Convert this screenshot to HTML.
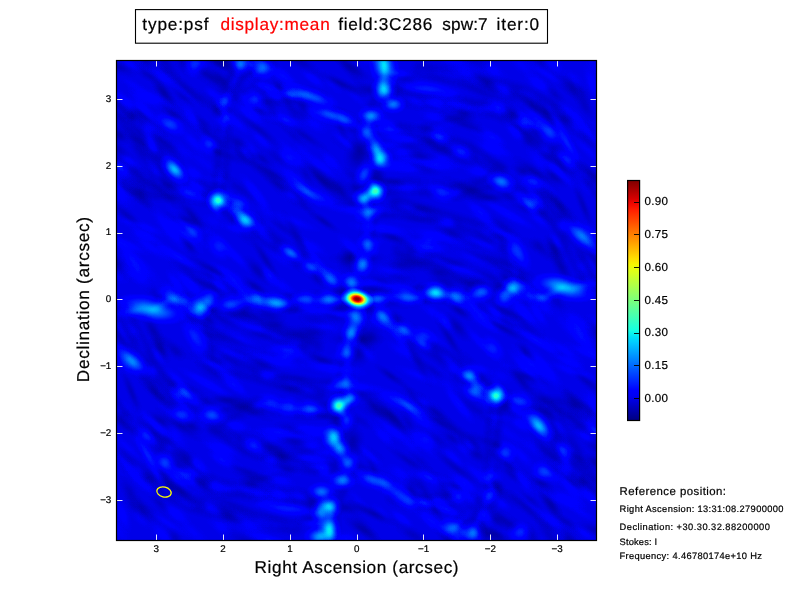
<!DOCTYPE html>
<html><head><meta charset="utf-8"><title>psf</title>
<style>
html,body{margin:0;padding:0;background:#fff;}
body{width:800px;height:600px;overflow:hidden;position:relative;}
svg{position:absolute;left:0;top:0;display:block;}
text{font-family:"Liberation Sans",sans-serif;}
</style></head><body>
<svg width="800" height="600" viewBox="0 0 800 600">
<defs>
<filter id="jet" x="0" y="0" width="100%" height="100%" color-interpolation-filters="sRGB" filterUnits="objectBoundingBox">
<feComponentTransfer>
<feFuncR type="table" tableValues="0.000 0.000 0.000 0.000 0.000 0.000 0.000 0.000 0.000 0.000 0.000 0.000 0.000 0.000 0.000 0.000 0.000 0.000 0.000 0.000 0.000 0.000 0.000 0.000 0.000 0.000 0.000 0.000 0.000 0.000 0.000 0.000 0.000 0.000 0.000 0.000 0.000 0.000 0.000 0.000 0.000 0.000 0.000 0.000 0.000 0.005 0.030 0.055 0.081 0.106 0.131 0.156 0.181 0.207 0.232 0.257 0.282 0.307 0.333 0.358 0.383 0.408 0.433 0.459 0.484 0.509 0.534 0.559 0.585 0.610 0.635 0.660 0.685 0.711 0.736 0.761 0.786 0.811 0.837 0.862 0.887 0.912 0.937 0.963 0.988 1.000 1.000 1.000 1.000 1.000 1.000 1.000 1.000 1.000 1.000 1.000 1.000 1.000 1.000 1.000 1.000 1.000 1.000 1.000 1.000 1.000 1.000 1.000 1.000 1.000 1.000 1.000 1.000 1.000 0.997 0.962 0.926 0.891 0.855 0.820 0.784 0.749 0.713 0.678 0.642 0.607 0.571 0.536 0.500"/>
<feFuncG type="table" tableValues="0.000 0.000 0.000 0.000 0.000 0.000 0.000 0.000 0.000 0.000 0.000 0.000 0.000 0.000 0.000 0.000 0.000 0.031 0.062 0.094 0.125 0.156 0.188 0.219 0.250 0.281 0.312 0.344 0.375 0.406 0.438 0.469 0.500 0.531 0.562 0.594 0.625 0.656 0.688 0.719 0.750 0.781 0.812 0.844 0.875 0.906 0.938 0.969 1.000 1.000 1.000 1.000 1.000 1.000 1.000 1.000 1.000 1.000 1.000 1.000 1.000 1.000 1.000 1.000 1.000 1.000 1.000 1.000 1.000 1.000 1.000 1.000 1.000 1.000 1.000 1.000 1.000 1.000 1.000 1.000 1.000 1.000 0.998 0.969 0.940 0.911 0.882 0.853 0.824 0.795 0.766 0.737 0.708 0.679 0.650 0.622 0.593 0.564 0.535 0.506 0.477 0.448 0.419 0.390 0.361 0.332 0.303 0.274 0.245 0.216 0.188 0.159 0.130 0.101 0.072 0.043 0.014 0.000 0.000 0.000 0.000 0.000 0.000 0.000 0.000 0.000 0.000 0.000 0.000"/>
<feFuncB type="table" tableValues="0.500 0.536 0.571 0.607 0.642 0.678 0.713 0.749 0.784 0.820 0.855 0.891 0.926 0.962 0.997 1.000 1.000 1.000 1.000 1.000 1.000 1.000 1.000 1.000 1.000 1.000 1.000 1.000 1.000 1.000 1.000 1.000 1.000 1.000 1.000 1.000 1.000 1.000 1.000 1.000 1.000 1.000 1.000 1.000 0.988 0.963 0.938 0.912 0.887 0.862 0.837 0.811 0.786 0.761 0.736 0.711 0.685 0.660 0.635 0.610 0.585 0.559 0.534 0.509 0.484 0.459 0.433 0.408 0.383 0.358 0.333 0.307 0.282 0.257 0.232 0.207 0.181 0.156 0.131 0.106 0.081 0.055 0.030 0.005 0.000 0.000 0.000 0.000 0.000 0.000 0.000 0.000 0.000 0.000 0.000 0.000 0.000 0.000 0.000 0.000 0.000 0.000 0.000 0.000 0.000 0.000 0.000 0.000 0.000 0.000 0.000 0.000 0.000 0.000 0.000 0.000 0.000 0.000 0.000 0.000 0.000 0.000 0.000 0.000 0.000 0.000 0.000 0.000 0.000"/>
</feComponentTransfer>
</filter>
<filter id="bl" x="0" y="0" width="100%" height="100%" filterUnits="objectBoundingBox"><feGaussianBlur stdDeviation="2.6"/></filter>
<radialGradient id="gw"><stop offset="0.0" stop-color="#fff" stop-opacity="1.000"/><stop offset="0.1" stop-color="#fff" stop-opacity="0.967"/><stop offset="0.2" stop-color="#fff" stop-opacity="0.874"/><stop offset="0.3" stop-color="#fff" stop-opacity="0.738"/><stop offset="0.4" stop-color="#fff" stop-opacity="0.582"/><stop offset="0.5" stop-color="#fff" stop-opacity="0.430"/><stop offset="0.6" stop-color="#fff" stop-opacity="0.296"/><stop offset="0.7" stop-color="#fff" stop-opacity="0.191"/><stop offset="0.8" stop-color="#fff" stop-opacity="0.115"/><stop offset="0.9" stop-color="#fff" stop-opacity="0.065"/><stop offset="1.0" stop-color="#fff" stop-opacity="0.000"/></radialGradient>
<radialGradient id="gk"><stop offset="0.0" stop-color="#000" stop-opacity="1.000"/><stop offset="0.1" stop-color="#000" stop-opacity="0.967"/><stop offset="0.2" stop-color="#000" stop-opacity="0.874"/><stop offset="0.3" stop-color="#000" stop-opacity="0.738"/><stop offset="0.4" stop-color="#000" stop-opacity="0.582"/><stop offset="0.5" stop-color="#000" stop-opacity="0.430"/><stop offset="0.6" stop-color="#000" stop-opacity="0.296"/><stop offset="0.7" stop-color="#000" stop-opacity="0.191"/><stop offset="0.8" stop-color="#000" stop-opacity="0.115"/><stop offset="0.9" stop-color="#000" stop-opacity="0.065"/><stop offset="1.0" stop-color="#000" stop-opacity="0.000"/></radialGradient>
<linearGradient id="cb" x1="0" y1="0" x2="0" y2="1"><stop offset="0.000" stop-color="rgb(128,0,0)"/><stop offset="0.025" stop-color="rgb(156,0,0)"/><stop offset="0.050" stop-color="rgb(185,0,0)"/><stop offset="0.075" stop-color="rgb(214,0,0)"/><stop offset="0.100" stop-color="rgb(243,9,0)"/><stop offset="0.125" stop-color="rgb(255,33,0)"/><stop offset="0.150" stop-color="rgb(255,57,0)"/><stop offset="0.175" stop-color="rgb(255,80,0)"/><stop offset="0.200" stop-color="rgb(255,104,0)"/><stop offset="0.225" stop-color="rgb(255,128,0)"/><stop offset="0.250" stop-color="rgb(255,151,0)"/><stop offset="0.275" stop-color="rgb(255,175,0)"/><stop offset="0.300" stop-color="rgb(255,198,0)"/><stop offset="0.325" stop-color="rgb(255,222,0)"/><stop offset="0.350" stop-color="rgb(247,246,0)"/><stop offset="0.375" stop-color="rgb(226,255,21)"/><stop offset="0.400" stop-color="rgb(206,255,41)"/><stop offset="0.425" stop-color="rgb(185,255,62)"/><stop offset="0.450" stop-color="rgb(165,255,82)"/><stop offset="0.475" stop-color="rgb(144,255,103)"/><stop offset="0.500" stop-color="rgb(123,255,123)"/><stop offset="0.525" stop-color="rgb(103,255,144)"/><stop offset="0.550" stop-color="rgb(82,255,165)"/><stop offset="0.575" stop-color="rgb(62,255,185)"/><stop offset="0.600" stop-color="rgb(41,255,206)"/><stop offset="0.625" stop-color="rgb(21,255,226)"/><stop offset="0.650" stop-color="rgb(0,229,247)"/><stop offset="0.675" stop-color="rgb(0,204,255)"/><stop offset="0.700" stop-color="rgb(0,179,255)"/><stop offset="0.725" stop-color="rgb(0,153,255)"/><stop offset="0.750" stop-color="rgb(0,128,255)"/><stop offset="0.775" stop-color="rgb(0,102,255)"/><stop offset="0.800" stop-color="rgb(0,76,255)"/><stop offset="0.825" stop-color="rgb(0,51,255)"/><stop offset="0.850" stop-color="rgb(0,26,255)"/><stop offset="0.875" stop-color="rgb(0,0,255)"/><stop offset="0.900" stop-color="rgb(0,0,243)"/><stop offset="0.925" stop-color="rgb(0,0,214)"/><stop offset="0.950" stop-color="rgb(0,0,185)"/><stop offset="0.975" stop-color="rgb(0,0,156)"/><stop offset="1.000" stop-color="rgb(0,0,128)"/></linearGradient>
<clipPath id="ax"><rect x="116" y="60" width="481" height="481"/></clipPath>
</defs>
<rect x="0" y="0" width="800" height="600" fill="#fff"/>
<g clip-path="url(#ax)">
<g filter="url(#jet)">
<rect x="100" y="44" width="513" height="513" fill="rgb(23,23,23)"/>
<g filter="url(#bl)" fill="none" stroke-linecap="round" stroke-linejoin="round"><path d="M357 299L352 283L361 264L368 246L370 226L369 212L364 199L375 191L366 175L380 159L376 148L367 132L371 116L384 90L384 66L387 56 M357 299L363 314L354 333L347 351L345 371L346 385L351 398L340 406L349 422L335 438L339 449L348 465L344 481L331 507L331 531L328 541 M357 299L332 279L311 267L289 253L266 236L244 219L218 200L174 170L150 140L135 118 M357 299L383 318L404 330L426 344L449 361L471 378L497 397L541 427L565 457L580 479 M357 299L328 300L307 300L281 304L255 300L231 305L205 304L173 299L150 309L112 314 M357 299L387 298L408 298L434 293L460 297L484 292L510 293L542 298L565 288L603 283 M218 200L222 160L224 119L224 101L240 64L246 54 M497 397L493 437L491 478L491 496L475 533L469 543 M224 101L262 68 M491 496L453 529 M256 98L304 95L321 100 M459 499L411 502L394 497 M324 112L345 120L367 132 M391 485L370 477L348 465 M218 200L192 194L156 192L128 184 M497 397L523 403L559 405L587 413 M384 90L416 100L456 104L496 110L524 124L544 146L566 159L590 180 M331 507L299 497L259 493L219 487L191 473L171 451L149 438L125 417 M376 190L408 186L456 192L500 180L528 188L556 220L572 248L592 284 M339 407L307 411L259 405L215 417L187 409L159 377L143 349L123 313 M396 204L436 216L476 228L508 248L516 276L513 288 M319 393L279 381L239 369L207 349L199 321L202 309 M400 130L440 140L470 150L500 172 M315 467L275 457L245 447L215 425 M420 70L470 80L520 92L560 112L596 140 M295 527L245 517L195 505L155 485L119 457 M400 250L440 262L470 280L481 292 M315 347L275 335L245 317L234 305" stroke="#000" stroke-opacity="0.3" stroke-width="14"/><path d="M357 299L352 283L361 264L368 246L370 226L369 212L364 199L375 191L366 175L380 159L376 148L367 132L371 116L384 90L384 66L387 56 M357 299L363 314L354 333L347 351L345 371L346 385L351 398L340 406L349 422L335 438L339 449L348 465L344 481L331 507L331 531L328 541 M357 299L332 279L311 267L289 253L266 236L244 219L218 200L174 170L150 140L135 118 M357 299L383 318L404 330L426 344L449 361L471 378L497 397L541 427L565 457L580 479 M357 299L328 300L307 300L281 304L255 300L231 305L205 304L173 299L150 309L112 314 M357 299L387 298L408 298L434 293L460 297L484 292L510 293L542 298L565 288L603 283 M218 200L222 160L224 119L224 101L240 64L246 54 M497 397L493 437L491 478L491 496L475 533L469 543 M224 101L262 68 M491 496L453 529 M256 98L304 95L321 100 M459 499L411 502L394 497 M324 112L345 120L367 132 M391 485L370 477L348 465 M218 200L192 194L156 192L128 184 M497 397L523 403L559 405L587 413 M384 90L416 100L456 104L496 110L524 124L544 146L566 159L590 180 M331 507L299 497L259 493L219 487L191 473L171 451L149 438L125 417 M376 190L408 186L456 192L500 180L528 188L556 220L572 248L592 284 M339 407L307 411L259 405L215 417L187 409L159 377L143 349L123 313 M396 204L436 216L476 228L508 248L516 276L513 288 M319 393L279 381L239 369L207 349L199 321L202 309 M400 130L440 140L470 150L500 172 M315 467L275 457L245 447L215 425 M420 70L470 80L520 92L560 112L596 140 M295 527L245 517L195 505L155 485L119 457 M400 250L440 262L470 280L481 292 M315 347L275 335L245 317L234 305" stroke="#fff" stroke-opacity="0.012" stroke-width="5"/></g>
<ellipse cx="269.3" cy="90.9" rx="25.5" ry="7.0" transform="rotate(38 269.3 90.9)" fill="url(#gw)" opacity="0.031"/>
<ellipse cx="445.3" cy="506.5" rx="25.5" ry="7.0" transform="rotate(38 445.3 506.5)" fill="url(#gw)" opacity="0.031"/>
<ellipse cx="128.4" cy="160.1" rx="14.6" ry="6.0" transform="rotate(37 128.4 160.1)" fill="url(#gw)" opacity="0.043"/>
<ellipse cx="586.2" cy="437.3" rx="14.6" ry="6.0" transform="rotate(37 586.2 437.3)" fill="url(#gw)" opacity="0.043"/>
<ellipse cx="170.9" cy="108.6" rx="26.5" ry="7.1" transform="rotate(21 170.9 108.6)" fill="url(#gk)" opacity="0.195"/>
<ellipse cx="543.7" cy="488.8" rx="26.5" ry="7.1" transform="rotate(21 543.7 488.8)" fill="url(#gk)" opacity="0.195"/>
<ellipse cx="532.4" cy="124.9" rx="16.4" ry="6.1" transform="rotate(25 532.4 124.9)" fill="url(#gw)" opacity="0.043"/>
<ellipse cx="182.2" cy="472.5" rx="16.4" ry="6.1" transform="rotate(25 182.2 472.5)" fill="url(#gw)" opacity="0.043"/>
<ellipse cx="198.9" cy="196.3" rx="25.8" ry="5.9" transform="rotate(33 198.9 196.3)" fill="url(#gw)" opacity="0.020"/>
<ellipse cx="515.7" cy="401.1" rx="25.8" ry="5.9" transform="rotate(33 515.7 401.1)" fill="url(#gw)" opacity="0.020"/>
<ellipse cx="444.8" cy="158.6" rx="20.4" ry="7.7" transform="rotate(4 444.8 158.6)" fill="url(#gw)" opacity="0.023"/>
<ellipse cx="269.8" cy="438.8" rx="20.4" ry="7.7" transform="rotate(4 269.8 438.8)" fill="url(#gw)" opacity="0.023"/>
<ellipse cx="500.8" cy="225.0" rx="25.3" ry="8.7" transform="rotate(30 500.8 225.0)" fill="url(#gk)" opacity="0.272"/>
<ellipse cx="213.8" cy="372.4" rx="25.3" ry="8.7" transform="rotate(30 213.8 372.4)" fill="url(#gk)" opacity="0.272"/>
<ellipse cx="592.2" cy="82.9" rx="22.8" ry="8.3" transform="rotate(72 592.2 82.9)" fill="url(#gw)" opacity="0.031"/>
<ellipse cx="122.4" cy="514.5" rx="22.8" ry="8.3" transform="rotate(72 122.4 514.5)" fill="url(#gw)" opacity="0.031"/>
<ellipse cx="129.3" cy="217.5" rx="33.5" ry="6.8" transform="rotate(41 129.3 217.5)" fill="url(#gk)" opacity="0.370"/>
<ellipse cx="585.3" cy="379.9" rx="33.5" ry="6.8" transform="rotate(41 585.3 379.9)" fill="url(#gk)" opacity="0.370"/>
<ellipse cx="395.3" cy="165.6" rx="32.7" ry="8.9" transform="rotate(-4 395.3 165.6)" fill="url(#gw)" opacity="0.037"/>
<ellipse cx="319.3" cy="431.8" rx="32.7" ry="8.9" transform="rotate(-4 319.3 431.8)" fill="url(#gw)" opacity="0.037"/>
<ellipse cx="139.8" cy="225.7" rx="32.2" ry="6.7" transform="rotate(19 139.8 225.7)" fill="url(#gw)" opacity="0.037"/>
<ellipse cx="574.8" cy="371.7" rx="32.2" ry="6.7" transform="rotate(19 574.8 371.7)" fill="url(#gw)" opacity="0.037"/>
<ellipse cx="121.1" cy="167.0" rx="16.9" ry="6.1" transform="rotate(12 121.1 167.0)" fill="url(#gw)" opacity="0.041"/>
<ellipse cx="593.5" cy="430.4" rx="16.9" ry="6.1" transform="rotate(12 593.5 430.4)" fill="url(#gw)" opacity="0.041"/>
<ellipse cx="173.6" cy="114.6" rx="14.9" ry="7.2" transform="rotate(23 173.6 114.6)" fill="url(#gk)" opacity="0.463"/>
<ellipse cx="541.0" cy="482.8" rx="14.9" ry="7.2" transform="rotate(23 541.0 482.8)" fill="url(#gk)" opacity="0.463"/>
<ellipse cx="513.1" cy="265.4" rx="19.5" ry="7.1" transform="rotate(46 513.1 265.4)" fill="url(#gw)" opacity="0.046"/>
<ellipse cx="201.5" cy="332.0" rx="19.5" ry="7.1" transform="rotate(46 201.5 332.0)" fill="url(#gw)" opacity="0.046"/>
<ellipse cx="581.2" cy="90.9" rx="18.5" ry="7.4" transform="rotate(61 581.2 90.9)" fill="url(#gk)" opacity="0.264"/>
<ellipse cx="133.4" cy="506.5" rx="18.5" ry="7.4" transform="rotate(61 133.4 506.5)" fill="url(#gk)" opacity="0.264"/>
<ellipse cx="112.0" cy="156.5" rx="21.6" ry="7.6" transform="rotate(47 112.0 156.5)" fill="url(#gk)" opacity="0.401"/>
<ellipse cx="602.6" cy="440.9" rx="21.6" ry="7.6" transform="rotate(47 602.6 440.9)" fill="url(#gk)" opacity="0.401"/>
<ellipse cx="363.6" cy="205.1" rx="34.0" ry="8.4" transform="rotate(7 363.6 205.1)" fill="url(#gk)" opacity="0.435"/>
<ellipse cx="351.0" cy="392.3" rx="34.0" ry="8.4" transform="rotate(7 351.0 392.3)" fill="url(#gk)" opacity="0.435"/>
<ellipse cx="303.1" cy="151.6" rx="15.4" ry="7.9" transform="rotate(37 303.1 151.6)" fill="url(#gw)" opacity="0.015"/>
<ellipse cx="411.5" cy="445.8" rx="15.4" ry="7.9" transform="rotate(37 411.5 445.8)" fill="url(#gw)" opacity="0.015"/>
<ellipse cx="212.7" cy="93.7" rx="13.0" ry="6.2" transform="rotate(38 212.7 93.7)" fill="url(#gw)" opacity="0.026"/>
<ellipse cx="501.9" cy="503.7" rx="13.0" ry="6.2" transform="rotate(38 501.9 503.7)" fill="url(#gw)" opacity="0.026"/>
<ellipse cx="122.5" cy="267.9" rx="27.4" ry="6.2" transform="rotate(43 122.5 267.9)" fill="url(#gw)" opacity="0.025"/>
<ellipse cx="592.1" cy="329.5" rx="27.4" ry="6.2" transform="rotate(43 592.1 329.5)" fill="url(#gw)" opacity="0.025"/>
<ellipse cx="289.2" cy="84.1" rx="23.9" ry="7.4" transform="rotate(60 289.2 84.1)" fill="url(#gw)" opacity="0.016"/>
<ellipse cx="425.4" cy="513.3" rx="23.9" ry="7.4" transform="rotate(60 425.4 513.3)" fill="url(#gw)" opacity="0.016"/>
<ellipse cx="278.6" cy="118.8" rx="32.4" ry="6.3" transform="rotate(12 278.6 118.8)" fill="url(#gw)" opacity="0.048"/>
<ellipse cx="436.0" cy="478.6" rx="32.4" ry="6.3" transform="rotate(12 436.0 478.6)" fill="url(#gw)" opacity="0.048"/>
<ellipse cx="369.9" cy="89.9" rx="25.4" ry="9.0" transform="rotate(6 369.9 89.9)" fill="url(#gk)" opacity="0.403"/>
<ellipse cx="344.7" cy="507.5" rx="25.4" ry="9.0" transform="rotate(6 344.7 507.5)" fill="url(#gk)" opacity="0.403"/>
<ellipse cx="238.5" cy="143.7" rx="16.9" ry="8.3" transform="rotate(39 238.5 143.7)" fill="url(#gk)" opacity="0.429"/>
<ellipse cx="476.1" cy="453.7" rx="16.9" ry="8.3" transform="rotate(39 476.1 453.7)" fill="url(#gk)" opacity="0.429"/>
<ellipse cx="272.2" cy="108.6" rx="33.0" ry="8.4" transform="rotate(52 272.2 108.6)" fill="url(#gk)" opacity="0.417"/>
<ellipse cx="442.4" cy="488.8" rx="33.0" ry="8.4" transform="rotate(52 442.4 488.8)" fill="url(#gk)" opacity="0.417"/>
<ellipse cx="221.6" cy="180.7" rx="21.3" ry="5.8" transform="rotate(10 221.6 180.7)" fill="url(#gw)" opacity="0.023"/>
<ellipse cx="493.0" cy="416.7" rx="21.3" ry="5.8" transform="rotate(10 493.0 416.7)" fill="url(#gw)" opacity="0.023"/>
<ellipse cx="237.5" cy="223.5" rx="34.9" ry="9.1" transform="rotate(52 237.5 223.5)" fill="url(#gk)" opacity="0.297"/>
<ellipse cx="477.1" cy="373.9" rx="34.9" ry="9.1" transform="rotate(52 477.1 373.9)" fill="url(#gk)" opacity="0.297"/>
<ellipse cx="218.5" cy="109.5" rx="17.6" ry="6.4" transform="rotate(37 218.5 109.5)" fill="url(#gk)" opacity="0.468"/>
<ellipse cx="496.1" cy="487.9" rx="17.6" ry="6.4" transform="rotate(37 496.1 487.9)" fill="url(#gk)" opacity="0.468"/>
<ellipse cx="523.5" cy="171.3" rx="15.0" ry="8.0" transform="rotate(29 523.5 171.3)" fill="url(#gk)" opacity="0.430"/>
<ellipse cx="191.1" cy="426.1" rx="15.0" ry="8.0" transform="rotate(29 191.1 426.1)" fill="url(#gk)" opacity="0.430"/>
<ellipse cx="479.1" cy="171.0" rx="17.2" ry="8.4" transform="rotate(9 479.1 171.0)" fill="url(#gw)" opacity="0.042"/>
<ellipse cx="235.5" cy="426.4" rx="17.2" ry="8.4" transform="rotate(9 235.5 426.4)" fill="url(#gw)" opacity="0.042"/>
<ellipse cx="588.1" cy="150.9" rx="30.0" ry="6.3" transform="rotate(42 588.1 150.9)" fill="url(#gw)" opacity="0.018"/>
<ellipse cx="126.5" cy="446.5" rx="30.0" ry="6.3" transform="rotate(42 126.5 446.5)" fill="url(#gw)" opacity="0.018"/>
<ellipse cx="555.2" cy="251.4" rx="16.4" ry="8.5" transform="rotate(62 555.2 251.4)" fill="url(#gk)" opacity="0.390"/>
<ellipse cx="159.4" cy="346.0" rx="16.4" ry="8.5" transform="rotate(62 159.4 346.0)" fill="url(#gk)" opacity="0.390"/>
<ellipse cx="282.4" cy="188.3" rx="35.7" ry="7.9" transform="rotate(41 282.4 188.3)" fill="url(#gk)" opacity="0.479"/>
<ellipse cx="432.2" cy="409.1" rx="35.7" ry="7.9" transform="rotate(41 432.2 409.1)" fill="url(#gk)" opacity="0.479"/>
<ellipse cx="323.4" cy="267.3" rx="32.3" ry="6.4" transform="rotate(41 323.4 267.3)" fill="url(#gw)" opacity="0.023"/>
<ellipse cx="391.2" cy="330.1" rx="32.3" ry="6.4" transform="rotate(41 391.2 330.1)" fill="url(#gw)" opacity="0.023"/>
<ellipse cx="228.3" cy="197.5" rx="16.1" ry="8.8" transform="rotate(39 228.3 197.5)" fill="url(#gw)" opacity="0.029"/>
<ellipse cx="486.3" cy="399.9" rx="16.1" ry="8.8" transform="rotate(39 486.3 399.9)" fill="url(#gw)" opacity="0.029"/>
<ellipse cx="397.0" cy="275.3" rx="22.8" ry="8.8" transform="rotate(17 397.0 275.3)" fill="url(#gk)" opacity="0.350"/>
<ellipse cx="317.6" cy="322.1" rx="22.8" ry="8.8" transform="rotate(17 317.6 322.1)" fill="url(#gk)" opacity="0.350"/>
<ellipse cx="367.6" cy="58.6" rx="13.1" ry="8.4" transform="rotate(3 367.6 58.6)" fill="url(#gw)" opacity="0.030"/>
<ellipse cx="347.0" cy="538.8" rx="13.1" ry="8.4" transform="rotate(3 347.0 538.8)" fill="url(#gw)" opacity="0.030"/>
<ellipse cx="466.8" cy="190.2" rx="20.6" ry="7.5" transform="rotate(20 466.8 190.2)" fill="url(#gk)" opacity="0.431"/>
<ellipse cx="247.8" cy="407.2" rx="20.6" ry="7.5" transform="rotate(20 247.8 407.2)" fill="url(#gk)" opacity="0.431"/>
<ellipse cx="162.2" cy="191.1" rx="31.1" ry="7.4" transform="rotate(40 162.2 191.1)" fill="url(#gk)" opacity="0.423"/>
<ellipse cx="552.4" cy="406.3" rx="31.1" ry="7.4" transform="rotate(40 552.4 406.3)" fill="url(#gk)" opacity="0.423"/>
<ellipse cx="558.9" cy="162.5" rx="27.3" ry="7.4" transform="rotate(57 558.9 162.5)" fill="url(#gk)" opacity="0.402"/>
<ellipse cx="155.7" cy="434.9" rx="27.3" ry="7.4" transform="rotate(57 155.7 434.9)" fill="url(#gk)" opacity="0.402"/>
<ellipse cx="332.6" cy="184.5" rx="29.4" ry="8.7" transform="rotate(14 332.6 184.5)" fill="url(#gk)" opacity="0.263"/>
<ellipse cx="382.0" cy="412.9" rx="29.4" ry="8.7" transform="rotate(14 382.0 412.9)" fill="url(#gk)" opacity="0.263"/>
<ellipse cx="385.3" cy="284.8" rx="32.7" ry="6.2" transform="rotate(11 385.3 284.8)" fill="url(#gw)" opacity="0.029"/>
<ellipse cx="329.3" cy="312.6" rx="32.7" ry="6.2" transform="rotate(11 329.3 312.6)" fill="url(#gw)" opacity="0.029"/>
<ellipse cx="145.7" cy="112.9" rx="31.3" ry="8.8" transform="rotate(55 145.7 112.9)" fill="url(#gw)" opacity="0.039"/>
<ellipse cx="568.9" cy="484.5" rx="31.3" ry="8.8" transform="rotate(55 568.9 484.5)" fill="url(#gw)" opacity="0.039"/>
<ellipse cx="434.8" cy="89.0" rx="33.7" ry="9.0" transform="rotate(14 434.8 89.0)" fill="url(#gw)" opacity="0.048"/>
<ellipse cx="279.8" cy="508.4" rx="33.7" ry="9.0" transform="rotate(14 279.8 508.4)" fill="url(#gw)" opacity="0.048"/>
<ellipse cx="305.9" cy="173.2" rx="16.8" ry="7.2" transform="rotate(61 305.9 173.2)" fill="url(#gk)" opacity="0.289"/>
<ellipse cx="408.7" cy="424.2" rx="16.8" ry="7.2" transform="rotate(61 408.7 424.2)" fill="url(#gk)" opacity="0.289"/>
<ellipse cx="206.3" cy="131.9" rx="29.9" ry="5.8" transform="rotate(39 206.3 131.9)" fill="url(#gk)" opacity="0.321"/>
<ellipse cx="508.3" cy="465.5" rx="29.9" ry="5.8" transform="rotate(39 508.3 465.5)" fill="url(#gk)" opacity="0.321"/>
<ellipse cx="118.9" cy="135.1" rx="14.5" ry="9.0" transform="rotate(31 118.9 135.1)" fill="url(#gk)" opacity="0.491"/>
<ellipse cx="595.7" cy="462.3" rx="14.5" ry="9.0" transform="rotate(31 595.7 462.3)" fill="url(#gk)" opacity="0.491"/>
<ellipse cx="161.6" cy="119.0" rx="13.9" ry="8.4" transform="rotate(31 161.6 119.0)" fill="url(#gw)" opacity="0.017"/>
<ellipse cx="553.0" cy="478.4" rx="13.9" ry="8.4" transform="rotate(31 553.0 478.4)" fill="url(#gw)" opacity="0.017"/>
<ellipse cx="317.7" cy="277.0" rx="16.5" ry="8.8" transform="rotate(44 317.7 277.0)" fill="url(#gk)" opacity="0.404"/>
<ellipse cx="396.9" cy="320.4" rx="16.5" ry="8.8" transform="rotate(44 396.9 320.4)" fill="url(#gk)" opacity="0.404"/>
<ellipse cx="154.0" cy="68.1" rx="29.1" ry="7.2" transform="rotate(32 154.0 68.1)" fill="url(#gw)" opacity="0.048"/>
<ellipse cx="560.6" cy="529.3" rx="29.1" ry="7.2" transform="rotate(32 560.6 529.3)" fill="url(#gw)" opacity="0.048"/>
<ellipse cx="422.1" cy="250.2" rx="14.6" ry="8.6" transform="rotate(23 422.1 250.2)" fill="url(#gw)" opacity="0.025"/>
<ellipse cx="292.5" cy="347.2" rx="14.6" ry="8.6" transform="rotate(23 292.5 347.2)" fill="url(#gw)" opacity="0.025"/>
<ellipse cx="382.1" cy="280.8" rx="19.3" ry="6.2" transform="rotate(17 382.1 280.8)" fill="url(#gk)" opacity="0.256"/>
<ellipse cx="332.5" cy="316.6" rx="19.3" ry="6.2" transform="rotate(17 332.5 316.6)" fill="url(#gk)" opacity="0.256"/>
<ellipse cx="163.9" cy="93.5" rx="20.3" ry="6.8" transform="rotate(47 163.9 93.5)" fill="url(#gk)" opacity="0.273"/>
<ellipse cx="550.7" cy="503.9" rx="20.3" ry="6.8" transform="rotate(47 550.7 503.9)" fill="url(#gk)" opacity="0.273"/>
<ellipse cx="356.0" cy="97.5" rx="21.1" ry="5.8" transform="rotate(42 356.0 97.5)" fill="url(#gw)" opacity="0.013"/>
<ellipse cx="358.6" cy="499.9" rx="21.1" ry="5.8" transform="rotate(42 358.6 499.9)" fill="url(#gw)" opacity="0.013"/>
<ellipse cx="470.7" cy="188.8" rx="34.9" ry="6.1" transform="rotate(23 470.7 188.8)" fill="url(#gk)" opacity="0.318"/>
<ellipse cx="243.9" cy="408.6" rx="34.9" ry="6.1" transform="rotate(23 243.9 408.6)" fill="url(#gk)" opacity="0.318"/>
<ellipse cx="353.5" cy="258.2" rx="22.2" ry="7.4" transform="rotate(52 353.5 258.2)" fill="url(#gk)" opacity="0.494"/>
<ellipse cx="361.1" cy="339.2" rx="22.2" ry="7.4" transform="rotate(52 361.1 339.2)" fill="url(#gk)" opacity="0.494"/>
<ellipse cx="278.6" cy="257.7" rx="22.5" ry="6.9" transform="rotate(36 278.6 257.7)" fill="url(#gw)" opacity="0.017"/>
<ellipse cx="436.0" cy="339.7" rx="22.5" ry="6.9" transform="rotate(36 436.0 339.7)" fill="url(#gw)" opacity="0.017"/>
<ellipse cx="144.8" cy="235.3" rx="19.0" ry="6.3" transform="rotate(25 144.8 235.3)" fill="url(#gw)" opacity="0.044"/>
<ellipse cx="569.8" cy="362.1" rx="19.0" ry="6.3" transform="rotate(25 569.8 362.1)" fill="url(#gw)" opacity="0.044"/>
<ellipse cx="538.3" cy="218.1" rx="19.9" ry="7.3" transform="rotate(42 538.3 218.1)" fill="url(#gw)" opacity="0.029"/>
<ellipse cx="176.3" cy="379.3" rx="19.9" ry="7.3" transform="rotate(42 176.3 379.3)" fill="url(#gw)" opacity="0.029"/>
<ellipse cx="239.5" cy="289.3" rx="35.8" ry="7.6" transform="rotate(48 239.5 289.3)" fill="url(#gw)" opacity="0.049"/>
<ellipse cx="475.1" cy="308.1" rx="35.8" ry="7.6" transform="rotate(48 475.1 308.1)" fill="url(#gw)" opacity="0.049"/>
<ellipse cx="262.3" cy="141.3" rx="24.1" ry="7.4" transform="rotate(51 262.3 141.3)" fill="url(#gw)" opacity="0.031"/>
<ellipse cx="452.3" cy="456.1" rx="24.1" ry="7.4" transform="rotate(51 452.3 456.1)" fill="url(#gw)" opacity="0.031"/>
<ellipse cx="112.4" cy="118.6" rx="15.1" ry="7.1" transform="rotate(40 112.4 118.6)" fill="url(#gw)" opacity="0.013"/>
<ellipse cx="602.2" cy="478.8" rx="15.1" ry="7.1" transform="rotate(40 602.2 478.8)" fill="url(#gw)" opacity="0.013"/>
<ellipse cx="259.7" cy="111.0" rx="30.6" ry="7.9" transform="rotate(28 259.7 111.0)" fill="url(#gk)" opacity="0.461"/>
<ellipse cx="454.9" cy="486.4" rx="30.6" ry="7.9" transform="rotate(28 454.9 486.4)" fill="url(#gk)" opacity="0.461"/>
<ellipse cx="301.6" cy="133.8" rx="36.0" ry="6.2" transform="rotate(33 301.6 133.8)" fill="url(#gk)" opacity="0.386"/>
<ellipse cx="413.0" cy="463.6" rx="36.0" ry="6.2" transform="rotate(33 413.0 463.6)" fill="url(#gk)" opacity="0.386"/>
<ellipse cx="131.5" cy="258.4" rx="30.2" ry="8.5" transform="rotate(52 131.5 258.4)" fill="url(#gw)" opacity="0.032"/>
<ellipse cx="583.1" cy="339.0" rx="30.2" ry="8.5" transform="rotate(52 583.1 339.0)" fill="url(#gw)" opacity="0.032"/>
<ellipse cx="358.2" cy="258.3" rx="31.8" ry="8.5" transform="rotate(0 358.2 258.3)" fill="url(#gk)" opacity="0.466"/>
<ellipse cx="356.4" cy="339.1" rx="31.8" ry="8.5" transform="rotate(0 356.4 339.1)" fill="url(#gk)" opacity="0.466"/>
<ellipse cx="446.0" cy="223.7" rx="16.1" ry="6.9" transform="rotate(11 446.0 223.7)" fill="url(#gw)" opacity="0.044"/>
<ellipse cx="268.6" cy="373.7" rx="16.1" ry="6.9" transform="rotate(11 268.6 373.7)" fill="url(#gw)" opacity="0.044"/>
<ellipse cx="384.8" cy="207.6" rx="27.7" ry="8.0" transform="rotate(10 384.8 207.6)" fill="url(#gw)" opacity="0.012"/>
<ellipse cx="329.8" cy="389.8" rx="27.7" ry="8.0" transform="rotate(10 329.8 389.8)" fill="url(#gw)" opacity="0.012"/>
<ellipse cx="502.5" cy="237.1" rx="28.4" ry="5.9" transform="rotate(19 502.5 237.1)" fill="url(#gk)" opacity="0.261"/>
<ellipse cx="212.1" cy="360.3" rx="28.4" ry="5.9" transform="rotate(19 212.1 360.3)" fill="url(#gk)" opacity="0.261"/>
<ellipse cx="146.6" cy="119.0" rx="30.1" ry="6.4" transform="rotate(40 146.6 119.0)" fill="url(#gk)" opacity="0.492"/>
<ellipse cx="568.0" cy="478.4" rx="30.1" ry="6.4" transform="rotate(40 568.0 478.4)" fill="url(#gk)" opacity="0.492"/>
<ellipse cx="353.0" cy="147.6" rx="30.9" ry="7.8" transform="rotate(23 353.0 147.6)" fill="url(#gk)" opacity="0.205"/>
<ellipse cx="361.6" cy="449.8" rx="30.9" ry="7.8" transform="rotate(23 361.6 449.8)" fill="url(#gk)" opacity="0.205"/>
<ellipse cx="182.5" cy="116.1" rx="30.4" ry="6.7" transform="rotate(42 182.5 116.1)" fill="url(#gk)" opacity="0.184"/>
<ellipse cx="532.1" cy="481.3" rx="30.4" ry="6.7" transform="rotate(42 532.1 481.3)" fill="url(#gk)" opacity="0.184"/>
<ellipse cx="139.8" cy="119.8" rx="28.8" ry="6.7" transform="rotate(32 139.8 119.8)" fill="url(#gk)" opacity="0.329"/>
<ellipse cx="574.8" cy="477.6" rx="28.8" ry="6.7" transform="rotate(32 574.8 477.6)" fill="url(#gk)" opacity="0.329"/>
<ellipse cx="339.4" cy="83.0" rx="33.9" ry="6.4" transform="rotate(25 339.4 83.0)" fill="url(#gk)" opacity="0.480"/>
<ellipse cx="375.2" cy="514.4" rx="33.9" ry="6.4" transform="rotate(25 375.2 514.4)" fill="url(#gk)" opacity="0.480"/>
<ellipse cx="118.6" cy="166.3" rx="23.5" ry="6.6" transform="rotate(52 118.6 166.3)" fill="url(#gw)" opacity="0.048"/>
<ellipse cx="596.0" cy="431.1" rx="23.5" ry="6.6" transform="rotate(52 596.0 431.1)" fill="url(#gw)" opacity="0.048"/>
<ellipse cx="213.7" cy="196.3" rx="16.3" ry="7.5" transform="rotate(14 213.7 196.3)" fill="url(#gk)" opacity="0.222"/>
<ellipse cx="500.9" cy="401.1" rx="16.3" ry="7.5" transform="rotate(14 500.9 401.1)" fill="url(#gk)" opacity="0.222"/>
<ellipse cx="513.5" cy="178.5" rx="18.4" ry="8.8" transform="rotate(45 513.5 178.5)" fill="url(#gw)" opacity="0.013"/>
<ellipse cx="201.1" cy="418.9" rx="18.4" ry="8.8" transform="rotate(45 201.1 418.9)" fill="url(#gw)" opacity="0.013"/>
<ellipse cx="111.8" cy="174.3" rx="23.5" ry="6.7" transform="rotate(29 111.8 174.3)" fill="url(#gw)" opacity="0.025"/>
<ellipse cx="602.8" cy="423.1" rx="23.5" ry="6.7" transform="rotate(29 602.8 423.1)" fill="url(#gw)" opacity="0.025"/>
<ellipse cx="265.5" cy="259.6" rx="32.6" ry="6.1" transform="rotate(58 265.5 259.6)" fill="url(#gk)" opacity="0.408"/>
<ellipse cx="449.1" cy="337.8" rx="32.6" ry="6.1" transform="rotate(58 449.1 337.8)" fill="url(#gk)" opacity="0.408"/>
<ellipse cx="553.6" cy="124.9" rx="21.7" ry="7.0" transform="rotate(48 553.6 124.9)" fill="url(#gk)" opacity="0.369"/>
<ellipse cx="161.0" cy="472.5" rx="21.7" ry="7.0" transform="rotate(48 161.0 472.5)" fill="url(#gk)" opacity="0.369"/>
<ellipse cx="287.5" cy="158.7" rx="15.4" ry="8.5" transform="rotate(39 287.5 158.7)" fill="url(#gw)" opacity="0.048"/>
<ellipse cx="427.1" cy="438.7" rx="15.4" ry="8.5" transform="rotate(39 427.1 438.7)" fill="url(#gw)" opacity="0.048"/>
<ellipse cx="232.7" cy="119.0" rx="25.0" ry="6.4" transform="rotate(43 232.7 119.0)" fill="url(#gw)" opacity="0.048"/>
<ellipse cx="481.9" cy="478.4" rx="25.0" ry="6.4" transform="rotate(43 481.9 478.4)" fill="url(#gw)" opacity="0.048"/>
<ellipse cx="545.1" cy="252.7" rx="35.0" ry="7.6" transform="rotate(32 545.1 252.7)" fill="url(#gk)" opacity="0.196"/>
<ellipse cx="169.5" cy="344.7" rx="35.0" ry="7.6" transform="rotate(32 169.5 344.7)" fill="url(#gk)" opacity="0.196"/>
<ellipse cx="470.3" cy="164.3" rx="30.6" ry="7.9" transform="rotate(5 470.3 164.3)" fill="url(#gw)" opacity="0.014"/>
<ellipse cx="244.3" cy="433.1" rx="30.6" ry="7.9" transform="rotate(5 244.3 433.1)" fill="url(#gw)" opacity="0.014"/>
<ellipse cx="566.0" cy="85.2" rx="20.0" ry="8.2" transform="rotate(44 566.0 85.2)" fill="url(#gk)" opacity="0.263"/>
<ellipse cx="148.6" cy="512.2" rx="20.0" ry="8.2" transform="rotate(44 148.6 512.2)" fill="url(#gk)" opacity="0.263"/>
<ellipse cx="432.7" cy="127.6" rx="26.0" ry="7.1" transform="rotate(9 432.7 127.6)" fill="url(#gw)" opacity="0.018"/>
<ellipse cx="281.9" cy="469.8" rx="26.0" ry="7.1" transform="rotate(9 281.9 469.8)" fill="url(#gw)" opacity="0.018"/>
<ellipse cx="212.3" cy="275.7" rx="34.2" ry="9.1" transform="rotate(32 212.3 275.7)" fill="url(#gw)" opacity="0.017"/>
<ellipse cx="502.3" cy="321.7" rx="34.2" ry="9.1" transform="rotate(32 502.3 321.7)" fill="url(#gw)" opacity="0.017"/>
<ellipse cx="204.7" cy="76.2" rx="21.0" ry="6.0" transform="rotate(40 204.7 76.2)" fill="url(#gw)" opacity="0.022"/>
<ellipse cx="509.9" cy="521.2" rx="21.0" ry="6.0" transform="rotate(40 509.9 521.2)" fill="url(#gw)" opacity="0.022"/>
<ellipse cx="390.3" cy="271.1" rx="22.7" ry="7.5" transform="rotate(8 390.3 271.1)" fill="url(#gw)" opacity="0.025"/>
<ellipse cx="324.3" cy="326.3" rx="22.7" ry="7.5" transform="rotate(8 324.3 326.3)" fill="url(#gw)" opacity="0.025"/>
<ellipse cx="140.5" cy="121.9" rx="35.6" ry="6.1" transform="rotate(29 140.5 121.9)" fill="url(#gk)" opacity="0.381"/>
<ellipse cx="574.1" cy="475.5" rx="35.6" ry="6.1" transform="rotate(29 574.1 475.5)" fill="url(#gk)" opacity="0.381"/>
<ellipse cx="534.5" cy="106.8" rx="22.4" ry="7.2" transform="rotate(41 534.5 106.8)" fill="url(#gk)" opacity="0.452"/>
<ellipse cx="180.1" cy="490.6" rx="22.4" ry="7.2" transform="rotate(41 180.1 490.6)" fill="url(#gk)" opacity="0.452"/>
<ellipse cx="539.5" cy="59.3" rx="13.8" ry="8.1" transform="rotate(50 539.5 59.3)" fill="url(#gk)" opacity="0.331"/>
<ellipse cx="175.1" cy="538.1" rx="13.8" ry="8.1" transform="rotate(50 175.1 538.1)" fill="url(#gk)" opacity="0.331"/>
<ellipse cx="398.9" cy="54.0" rx="32.3" ry="8.6" transform="rotate(-8 398.9 54.0)" fill="url(#gk)" opacity="0.260"/>
<ellipse cx="315.7" cy="543.4" rx="32.3" ry="8.6" transform="rotate(-8 315.7 543.4)" fill="url(#gk)" opacity="0.260"/>
<ellipse cx="163.7" cy="91.8" rx="25.2" ry="8.0" transform="rotate(56 163.7 91.8)" fill="url(#gk)" opacity="0.411"/>
<ellipse cx="550.9" cy="505.6" rx="25.2" ry="8.0" transform="rotate(56 550.9 505.6)" fill="url(#gk)" opacity="0.411"/>
<ellipse cx="428.5" cy="241.1" rx="13.9" ry="8.4" transform="rotate(-3 428.5 241.1)" fill="url(#gw)" opacity="0.047"/>
<ellipse cx="286.1" cy="356.3" rx="13.9" ry="8.4" transform="rotate(-3 286.1 356.3)" fill="url(#gw)" opacity="0.047"/>
<ellipse cx="427.6" cy="128.3" rx="16.0" ry="6.6" transform="rotate(11 427.6 128.3)" fill="url(#gk)" opacity="0.404"/>
<ellipse cx="287.0" cy="469.1" rx="16.0" ry="6.6" transform="rotate(11 287.0 469.1)" fill="url(#gk)" opacity="0.404"/>
<ellipse cx="165.2" cy="71.2" rx="22.1" ry="6.5" transform="rotate(26 165.2 71.2)" fill="url(#gk)" opacity="0.183"/>
<ellipse cx="549.4" cy="526.2" rx="22.1" ry="6.5" transform="rotate(26 549.4 526.2)" fill="url(#gk)" opacity="0.183"/>
<ellipse cx="258.3" cy="166.7" rx="35.4" ry="7.9" transform="rotate(38 258.3 166.7)" fill="url(#gk)" opacity="0.332"/>
<ellipse cx="456.3" cy="430.7" rx="35.4" ry="7.9" transform="rotate(38 456.3 430.7)" fill="url(#gk)" opacity="0.332"/>
<ellipse cx="225.5" cy="114.5" rx="20.2" ry="5.8" transform="rotate(57 225.5 114.5)" fill="url(#gw)" opacity="0.038"/>
<ellipse cx="489.1" cy="482.9" rx="20.2" ry="5.8" transform="rotate(57 489.1 482.9)" fill="url(#gw)" opacity="0.038"/>
<ellipse cx="316.6" cy="117.0" rx="28.6" ry="8.8" transform="rotate(36 316.6 117.0)" fill="url(#gw)" opacity="0.013"/>
<ellipse cx="398.0" cy="480.4" rx="28.6" ry="8.8" transform="rotate(36 398.0 480.4)" fill="url(#gw)" opacity="0.013"/>
<ellipse cx="276.3" cy="156.9" rx="31.7" ry="8.2" transform="rotate(37 276.3 156.9)" fill="url(#gk)" opacity="0.246"/>
<ellipse cx="438.3" cy="440.5" rx="31.7" ry="8.2" transform="rotate(37 438.3 440.5)" fill="url(#gk)" opacity="0.246"/>
<ellipse cx="587.2" cy="130.3" rx="32.2" ry="6.5" transform="rotate(55 587.2 130.3)" fill="url(#gw)" opacity="0.041"/>
<ellipse cx="127.4" cy="467.1" rx="32.2" ry="6.5" transform="rotate(55 127.4 467.1)" fill="url(#gw)" opacity="0.041"/>
<ellipse cx="255.1" cy="286.9" rx="18.2" ry="7.1" transform="rotate(33 255.1 286.9)" fill="url(#gk)" opacity="0.484"/>
<ellipse cx="459.5" cy="310.5" rx="18.2" ry="7.1" transform="rotate(33 459.5 310.5)" fill="url(#gk)" opacity="0.484"/>
<ellipse cx="182.0" cy="150.3" rx="18.0" ry="9.0" transform="rotate(40 182.0 150.3)" fill="url(#gw)" opacity="0.014"/>
<ellipse cx="532.6" cy="447.1" rx="18.0" ry="9.0" transform="rotate(40 532.6 447.1)" fill="url(#gw)" opacity="0.014"/>
<ellipse cx="139.6" cy="150.2" rx="30.1" ry="9.1" transform="rotate(58 139.6 150.2)" fill="url(#gk)" opacity="0.285"/>
<ellipse cx="575.0" cy="447.2" rx="30.1" ry="9.1" transform="rotate(58 575.0 447.2)" fill="url(#gk)" opacity="0.285"/>
<ellipse cx="201.3" cy="283.0" rx="30.5" ry="5.8" transform="rotate(26 201.3 283.0)" fill="url(#gk)" opacity="0.301"/>
<ellipse cx="513.3" cy="314.4" rx="30.5" ry="5.8" transform="rotate(26 513.3 314.4)" fill="url(#gk)" opacity="0.301"/>
<ellipse cx="294.0" cy="135.2" rx="19.5" ry="6.9" transform="rotate(40 294.0 135.2)" fill="url(#gk)" opacity="0.220"/>
<ellipse cx="420.6" cy="462.2" rx="19.5" ry="6.9" transform="rotate(40 420.6 462.2)" fill="url(#gk)" opacity="0.220"/>
<ellipse cx="584.4" cy="104.8" rx="21.3" ry="8.5" transform="rotate(60 584.4 104.8)" fill="url(#gk)" opacity="0.318"/>
<ellipse cx="130.2" cy="492.6" rx="21.3" ry="8.5" transform="rotate(60 130.2 492.6)" fill="url(#gk)" opacity="0.318"/>
<ellipse cx="134.2" cy="169.9" rx="17.5" ry="7.0" transform="rotate(23 134.2 169.9)" fill="url(#gk)" opacity="0.190"/>
<ellipse cx="580.4" cy="427.5" rx="17.5" ry="7.0" transform="rotate(23 580.4 427.5)" fill="url(#gk)" opacity="0.190"/>
<ellipse cx="312.1" cy="252.7" rx="30.9" ry="5.9" transform="rotate(58 312.1 252.7)" fill="url(#gw)" opacity="0.014"/>
<ellipse cx="402.5" cy="344.7" rx="30.9" ry="5.9" transform="rotate(58 402.5 344.7)" fill="url(#gw)" opacity="0.014"/>
<ellipse cx="562.7" cy="116.9" rx="20.9" ry="6.6" transform="rotate(51 562.7 116.9)" fill="url(#gk)" opacity="0.377"/>
<ellipse cx="151.9" cy="480.5" rx="20.9" ry="6.6" transform="rotate(51 151.9 480.5)" fill="url(#gk)" opacity="0.377"/>
<ellipse cx="239.0" cy="229.4" rx="20.4" ry="6.7" transform="rotate(16 239.0 229.4)" fill="url(#gw)" opacity="0.041"/>
<ellipse cx="475.6" cy="368.0" rx="20.4" ry="6.7" transform="rotate(16 475.6 368.0)" fill="url(#gw)" opacity="0.041"/>
<ellipse cx="560.9" cy="209.1" rx="18.5" ry="7.3" transform="rotate(53 560.9 209.1)" fill="url(#gk)" opacity="0.485"/>
<ellipse cx="153.7" cy="388.3" rx="18.5" ry="7.3" transform="rotate(53 153.7 388.3)" fill="url(#gk)" opacity="0.485"/>
<ellipse cx="300.2" cy="115.4" rx="23.1" ry="7.4" transform="rotate(39 300.2 115.4)" fill="url(#gk)" opacity="0.239"/>
<ellipse cx="414.4" cy="482.0" rx="23.1" ry="7.4" transform="rotate(39 414.4 482.0)" fill="url(#gk)" opacity="0.239"/>
<ellipse cx="504.9" cy="234.7" rx="27.2" ry="6.8" transform="rotate(38 504.9 234.7)" fill="url(#gw)" opacity="0.026"/>
<ellipse cx="209.7" cy="362.7" rx="27.2" ry="6.8" transform="rotate(38 209.7 362.7)" fill="url(#gw)" opacity="0.026"/>
<ellipse cx="494.9" cy="73.3" rx="17.6" ry="8.3" transform="rotate(14 494.9 73.3)" fill="url(#gw)" opacity="0.014"/>
<ellipse cx="219.7" cy="524.1" rx="17.6" ry="8.3" transform="rotate(14 219.7 524.1)" fill="url(#gw)" opacity="0.014"/>
<ellipse cx="126.7" cy="189.2" rx="33.7" ry="9.1" transform="rotate(26 126.7 189.2)" fill="url(#gw)" opacity="0.015"/>
<ellipse cx="587.9" cy="408.2" rx="33.7" ry="9.1" transform="rotate(26 587.9 408.2)" fill="url(#gw)" opacity="0.015"/>
<ellipse cx="157.4" cy="176.0" rx="29.6" ry="7.2" transform="rotate(67 157.4 176.0)" fill="url(#gw)" opacity="0.028"/>
<ellipse cx="557.2" cy="421.4" rx="29.6" ry="7.2" transform="rotate(67 557.2 421.4)" fill="url(#gw)" opacity="0.028"/>
<ellipse cx="415.2" cy="219.0" rx="28.5" ry="6.1" transform="rotate(8 415.2 219.0)" fill="url(#gk)" opacity="0.274"/>
<ellipse cx="299.4" cy="378.4" rx="28.5" ry="6.1" transform="rotate(8 299.4 378.4)" fill="url(#gk)" opacity="0.274"/>
<ellipse cx="388.9" cy="145.3" rx="30.3" ry="6.4" transform="rotate(-9 388.9 145.3)" fill="url(#gw)" opacity="0.021"/>
<ellipse cx="325.7" cy="452.1" rx="30.3" ry="6.4" transform="rotate(-9 325.7 452.1)" fill="url(#gw)" opacity="0.021"/>
<ellipse cx="185.4" cy="270.4" rx="22.3" ry="9.1" transform="rotate(31 185.4 270.4)" fill="url(#gk)" opacity="0.254"/>
<ellipse cx="529.2" cy="327.0" rx="22.3" ry="9.1" transform="rotate(31 529.2 327.0)" fill="url(#gk)" opacity="0.254"/>
<ellipse cx="507.8" cy="213.9" rx="36.2" ry="6.1" transform="rotate(29 507.8 213.9)" fill="url(#gw)" opacity="0.043"/>
<ellipse cx="206.8" cy="383.5" rx="36.2" ry="6.1" transform="rotate(29 206.8 383.5)" fill="url(#gw)" opacity="0.043"/>
<ellipse cx="523.6" cy="277.7" rx="15.8" ry="6.4" transform="rotate(45 523.6 277.7)" fill="url(#gk)" opacity="0.367"/>
<ellipse cx="191.0" cy="319.7" rx="15.8" ry="6.4" transform="rotate(45 191.0 319.7)" fill="url(#gk)" opacity="0.367"/>
<ellipse cx="567.6" cy="145.1" rx="33.3" ry="7.2" transform="rotate(55 567.6 145.1)" fill="url(#gw)" opacity="0.042"/>
<ellipse cx="147.0" cy="452.3" rx="33.3" ry="7.2" transform="rotate(55 147.0 452.3)" fill="url(#gw)" opacity="0.042"/>
<ellipse cx="575.3" cy="79.9" rx="18.1" ry="7.0" transform="rotate(46 575.3 79.9)" fill="url(#gw)" opacity="0.020"/>
<ellipse cx="139.3" cy="517.5" rx="18.1" ry="7.0" transform="rotate(46 139.3 517.5)" fill="url(#gw)" opacity="0.020"/>
<ellipse cx="235.4" cy="200.7" rx="28.2" ry="6.4" transform="rotate(31 235.4 200.7)" fill="url(#gw)" opacity="0.024"/>
<ellipse cx="479.2" cy="396.7" rx="28.2" ry="6.4" transform="rotate(31 479.2 396.7)" fill="url(#gw)" opacity="0.024"/>
<ellipse cx="443.7" cy="99.3" rx="31.6" ry="7.6" transform="rotate(8 443.7 99.3)" fill="url(#gw)" opacity="0.016"/>
<ellipse cx="270.9" cy="498.1" rx="31.6" ry="7.6" transform="rotate(8 270.9 498.1)" fill="url(#gw)" opacity="0.016"/>
<ellipse cx="304.5" cy="188.6" rx="28.0" ry="6.0" transform="rotate(47 304.5 188.6)" fill="url(#gw)" opacity="0.038"/>
<ellipse cx="410.1" cy="408.8" rx="28.0" ry="6.0" transform="rotate(47 410.1 408.8)" fill="url(#gw)" opacity="0.038"/>
<ellipse cx="311.6" cy="123.3" rx="20.3" ry="7.6" transform="rotate(30 311.6 123.3)" fill="url(#gw)" opacity="0.028"/>
<ellipse cx="403.0" cy="474.1" rx="20.3" ry="7.6" transform="rotate(30 403.0 474.1)" fill="url(#gw)" opacity="0.028"/>
<ellipse cx="535.2" cy="297.9" rx="21.5" ry="6.4" transform="rotate(63 535.2 297.9)" fill="url(#gk)" opacity="0.245"/>
<ellipse cx="179.4" cy="299.5" rx="21.5" ry="6.4" transform="rotate(63 179.4 299.5)" fill="url(#gk)" opacity="0.245"/>
<ellipse cx="112.9" cy="274.6" rx="22.5" ry="8.7" transform="rotate(22 112.9 274.6)" fill="url(#gw)" opacity="0.018"/>
<ellipse cx="601.7" cy="322.8" rx="22.5" ry="8.7" transform="rotate(22 601.7 322.8)" fill="url(#gw)" opacity="0.018"/>
<ellipse cx="117.3" cy="189.0" rx="28.0" ry="8.8" transform="rotate(49 117.3 189.0)" fill="url(#gw)" opacity="0.036"/>
<ellipse cx="597.3" cy="408.4" rx="28.0" ry="8.8" transform="rotate(49 597.3 408.4)" fill="url(#gw)" opacity="0.036"/>
<ellipse cx="292.5" cy="177.4" rx="25.2" ry="8.8" transform="rotate(45 292.5 177.4)" fill="url(#gw)" opacity="0.031"/>
<ellipse cx="422.1" cy="420.0" rx="25.2" ry="8.8" transform="rotate(45 422.1 420.0)" fill="url(#gw)" opacity="0.031"/>
<ellipse cx="506.0" cy="290.6" rx="17.6" ry="6.1" transform="rotate(38 506.0 290.6)" fill="url(#gk)" opacity="0.492"/>
<ellipse cx="208.6" cy="306.8" rx="17.6" ry="6.1" transform="rotate(38 208.6 306.8)" fill="url(#gk)" opacity="0.492"/>
<ellipse cx="347.5" cy="67.1" rx="34.2" ry="7.8" transform="rotate(50 347.5 67.1)" fill="url(#gk)" opacity="0.231"/>
<ellipse cx="367.1" cy="530.3" rx="34.2" ry="7.8" transform="rotate(50 367.1 530.3)" fill="url(#gk)" opacity="0.231"/>
<ellipse cx="496.6" cy="108.3" rx="22.5" ry="8.6" transform="rotate(25 496.6 108.3)" fill="url(#gk)" opacity="0.239"/>
<ellipse cx="218.0" cy="489.1" rx="22.5" ry="8.6" transform="rotate(25 218.0 489.1)" fill="url(#gk)" opacity="0.239"/>
<ellipse cx="217.3" cy="151.8" rx="15.9" ry="6.6" transform="rotate(29 217.3 151.8)" fill="url(#gk)" opacity="0.467"/>
<ellipse cx="497.3" cy="445.6" rx="15.9" ry="6.6" transform="rotate(29 497.3 445.6)" fill="url(#gk)" opacity="0.467"/>
<ellipse cx="130.2" cy="191.6" rx="30.7" ry="5.8" transform="rotate(39 130.2 191.6)" fill="url(#gk)" opacity="0.218"/>
<ellipse cx="584.4" cy="405.8" rx="30.7" ry="5.8" transform="rotate(39 584.4 405.8)" fill="url(#gk)" opacity="0.218"/>
<ellipse cx="405.0" cy="188.6" rx="22.8" ry="7.7" transform="rotate(3 405.0 188.6)" fill="url(#gw)" opacity="0.037"/>
<ellipse cx="309.6" cy="408.8" rx="22.8" ry="7.7" transform="rotate(3 309.6 408.8)" fill="url(#gw)" opacity="0.037"/>
<ellipse cx="329.8" cy="161.3" rx="13.5" ry="7.8" transform="rotate(33 329.8 161.3)" fill="url(#gw)" opacity="0.021"/>
<ellipse cx="384.8" cy="436.1" rx="13.5" ry="7.8" transform="rotate(33 384.8 436.1)" fill="url(#gw)" opacity="0.021"/>
<ellipse cx="485.7" cy="244.9" rx="24.1" ry="6.1" transform="rotate(19 485.7 244.9)" fill="url(#gw)" opacity="0.028"/>
<ellipse cx="228.9" cy="352.5" rx="24.1" ry="6.1" transform="rotate(19 228.9 352.5)" fill="url(#gw)" opacity="0.028"/>
<ellipse cx="155.1" cy="162.1" rx="24.9" ry="5.9" transform="rotate(42 155.1 162.1)" fill="url(#gk)" opacity="0.206"/>
<ellipse cx="559.5" cy="435.3" rx="24.9" ry="5.9" transform="rotate(42 559.5 435.3)" fill="url(#gk)" opacity="0.206"/>
<ellipse cx="470.9" cy="244.3" rx="24.8" ry="7.0" transform="rotate(17 470.9 244.3)" fill="url(#gk)" opacity="0.224"/>
<ellipse cx="243.7" cy="353.1" rx="24.8" ry="7.0" transform="rotate(17 243.7 353.1)" fill="url(#gk)" opacity="0.224"/>
<ellipse cx="531.7" cy="297.8" rx="30.1" ry="8.5" transform="rotate(41 531.7 297.8)" fill="url(#gw)" opacity="0.049"/>
<ellipse cx="182.9" cy="299.6" rx="30.1" ry="8.5" transform="rotate(41 182.9 299.6)" fill="url(#gw)" opacity="0.049"/>
<ellipse cx="352.0" cy="288.1" rx="31.4" ry="8.9" transform="rotate(46 352.0 288.1)" fill="url(#gw)" opacity="0.025"/>
<ellipse cx="362.6" cy="309.3" rx="31.4" ry="8.9" transform="rotate(46 362.6 309.3)" fill="url(#gw)" opacity="0.025"/>
<ellipse cx="482.0" cy="92.9" rx="34.0" ry="6.6" transform="rotate(21 482.0 92.9)" fill="url(#gk)" opacity="0.226"/>
<ellipse cx="232.6" cy="504.5" rx="34.0" ry="6.6" transform="rotate(21 232.6 504.5)" fill="url(#gk)" opacity="0.226"/>
<ellipse cx="357.1" cy="279.1" rx="24.8" ry="6.8" transform="rotate(42 357.1 279.1)" fill="url(#gw)" opacity="0.019"/>
<ellipse cx="357.5" cy="318.3" rx="24.8" ry="6.8" transform="rotate(42 357.5 318.3)" fill="url(#gw)" opacity="0.019"/>
<ellipse cx="189.3" cy="283.1" rx="28.9" ry="8.7" transform="rotate(48 189.3 283.1)" fill="url(#gw)" opacity="0.042"/>
<ellipse cx="525.3" cy="314.3" rx="28.9" ry="8.7" transform="rotate(48 525.3 314.3)" fill="url(#gw)" opacity="0.042"/>
<ellipse cx="166.6" cy="183.9" rx="33.4" ry="7.6" transform="rotate(33 166.6 183.9)" fill="url(#gk)" opacity="0.462"/>
<ellipse cx="548.0" cy="413.5" rx="33.4" ry="7.6" transform="rotate(33 548.0 413.5)" fill="url(#gk)" opacity="0.462"/>
<ellipse cx="161.5" cy="297.0" rx="27.7" ry="7.1" transform="rotate(32 161.5 297.0)" fill="url(#gk)" opacity="0.265"/>
<ellipse cx="553.1" cy="300.4" rx="27.7" ry="7.1" transform="rotate(32 553.1 300.4)" fill="url(#gk)" opacity="0.265"/>
<ellipse cx="597.3" cy="195.3" rx="23.3" ry="6.3" transform="rotate(50 597.3 195.3)" fill="url(#gk)" opacity="0.195"/>
<ellipse cx="117.3" cy="402.1" rx="23.3" ry="6.3" transform="rotate(50 117.3 402.1)" fill="url(#gk)" opacity="0.195"/>
<ellipse cx="513.4" cy="116.1" rx="28.0" ry="9.0" transform="rotate(46 513.4 116.1)" fill="url(#gk)" opacity="0.392"/>
<ellipse cx="201.2" cy="481.3" rx="28.0" ry="9.0" transform="rotate(46 201.2 481.3)" fill="url(#gk)" opacity="0.392"/>
<ellipse cx="263.8" cy="54.4" rx="27.4" ry="7.2" transform="rotate(46 263.8 54.4)" fill="url(#gk)" opacity="0.467"/>
<ellipse cx="450.8" cy="543.0" rx="27.4" ry="7.2" transform="rotate(46 450.8 543.0)" fill="url(#gk)" opacity="0.467"/>
<ellipse cx="175.0" cy="109.6" rx="28.3" ry="5.8" transform="rotate(41 175.0 109.6)" fill="url(#gw)" opacity="0.025"/>
<ellipse cx="539.6" cy="487.8" rx="28.3" ry="5.8" transform="rotate(41 539.6 487.8)" fill="url(#gw)" opacity="0.025"/>
<ellipse cx="162.3" cy="141.4" rx="26.8" ry="6.4" transform="rotate(42 162.3 141.4)" fill="url(#gk)" opacity="0.332"/>
<ellipse cx="552.3" cy="456.0" rx="26.8" ry="6.4" transform="rotate(42 552.3 456.0)" fill="url(#gk)" opacity="0.332"/>
<ellipse cx="176.3" cy="283.2" rx="18.7" ry="6.2" transform="rotate(54 176.3 283.2)" fill="url(#gw)" opacity="0.036"/>
<ellipse cx="538.3" cy="314.2" rx="18.7" ry="6.2" transform="rotate(54 538.3 314.2)" fill="url(#gw)" opacity="0.036"/>
<ellipse cx="538.7" cy="245.4" rx="13.3" ry="7.9" transform="rotate(37 538.7 245.4)" fill="url(#gk)" opacity="0.292"/>
<ellipse cx="175.9" cy="352.0" rx="13.3" ry="7.9" transform="rotate(37 175.9 352.0)" fill="url(#gk)" opacity="0.292"/>
<ellipse cx="427.6" cy="162.6" rx="34.9" ry="8.2" transform="rotate(12 427.6 162.6)" fill="url(#gw)" opacity="0.046"/>
<ellipse cx="287.0" cy="434.8" rx="34.9" ry="8.2" transform="rotate(12 287.0 434.8)" fill="url(#gw)" opacity="0.046"/>
<ellipse cx="131.6" cy="184.1" rx="14.4" ry="8.4" transform="rotate(33 131.6 184.1)" fill="url(#gw)" opacity="0.033"/>
<ellipse cx="583.0" cy="413.3" rx="14.4" ry="8.4" transform="rotate(33 583.0 413.3)" fill="url(#gw)" opacity="0.033"/>
<ellipse cx="572.9" cy="88.8" rx="17.7" ry="7.8" transform="rotate(59 572.9 88.8)" fill="url(#gk)" opacity="0.385"/>
<ellipse cx="141.7" cy="508.6" rx="17.7" ry="7.8" transform="rotate(59 141.7 508.6)" fill="url(#gk)" opacity="0.385"/>
<ellipse cx="510.2" cy="96.7" rx="14.1" ry="8.7" transform="rotate(30 510.2 96.7)" fill="url(#gk)" opacity="0.409"/>
<ellipse cx="204.4" cy="500.7" rx="14.1" ry="8.7" transform="rotate(30 204.4 500.7)" fill="url(#gk)" opacity="0.409"/>
<ellipse cx="113.1" cy="260.6" rx="30.4" ry="7.3" transform="rotate(49 113.1 260.6)" fill="url(#gk)" opacity="0.325"/>
<ellipse cx="601.5" cy="336.8" rx="30.4" ry="7.3" transform="rotate(49 601.5 336.8)" fill="url(#gk)" opacity="0.325"/>
<ellipse cx="221.2" cy="79.8" rx="20.9" ry="8.3" transform="rotate(40 221.2 79.8)" fill="url(#gk)" opacity="0.451"/>
<ellipse cx="493.4" cy="517.6" rx="20.9" ry="8.3" transform="rotate(40 493.4 517.6)" fill="url(#gk)" opacity="0.451"/>
<ellipse cx="460.1" cy="119.1" rx="26.0" ry="7.2" transform="rotate(18 460.1 119.1)" fill="url(#gk)" opacity="0.347"/>
<ellipse cx="254.5" cy="478.3" rx="26.0" ry="7.2" transform="rotate(18 254.5 478.3)" fill="url(#gk)" opacity="0.347"/>
<ellipse cx="240.5" cy="211.1" rx="33.6" ry="5.8" transform="rotate(48 240.5 211.1)" fill="url(#gw)" opacity="0.021"/>
<ellipse cx="474.1" cy="386.3" rx="33.6" ry="5.8" transform="rotate(48 474.1 386.3)" fill="url(#gw)" opacity="0.021"/>
<ellipse cx="476.0" cy="285.2" rx="30.5" ry="6.8" transform="rotate(20 476.0 285.2)" fill="url(#gk)" opacity="0.285"/>
<ellipse cx="238.6" cy="312.2" rx="30.5" ry="6.8" transform="rotate(20 238.6 312.2)" fill="url(#gk)" opacity="0.285"/>
<ellipse cx="227.7" cy="276.1" rx="28.6" ry="9.0" transform="rotate(28 227.7 276.1)" fill="url(#gw)" opacity="0.044"/>
<ellipse cx="486.9" cy="321.3" rx="28.6" ry="9.0" transform="rotate(28 486.9 321.3)" fill="url(#gw)" opacity="0.044"/>
<ellipse cx="453.2" cy="263.8" rx="23.2" ry="8.2" transform="rotate(3 453.2 263.8)" fill="url(#gk)" opacity="0.278"/>
<ellipse cx="261.4" cy="333.6" rx="23.2" ry="8.2" transform="rotate(3 261.4 333.6)" fill="url(#gk)" opacity="0.278"/>
<ellipse cx="214.3" cy="206.4" rx="16.4" ry="5.8" transform="rotate(61 214.3 206.4)" fill="url(#gw)" opacity="0.047"/>
<ellipse cx="500.3" cy="391.0" rx="16.4" ry="5.8" transform="rotate(61 500.3 391.0)" fill="url(#gw)" opacity="0.047"/>
<ellipse cx="279.7" cy="88.7" rx="13.7" ry="5.9" transform="rotate(51 279.7 88.7)" fill="url(#gk)" opacity="0.383"/>
<ellipse cx="434.9" cy="508.7" rx="13.7" ry="5.9" transform="rotate(51 434.9 508.7)" fill="url(#gk)" opacity="0.383"/>
<ellipse cx="452.9" cy="234.3" rx="21.5" ry="8.5" transform="rotate(24 452.9 234.3)" fill="url(#gk)" opacity="0.465"/>
<ellipse cx="261.7" cy="363.1" rx="21.5" ry="8.5" transform="rotate(24 261.7 363.1)" fill="url(#gk)" opacity="0.465"/>
<ellipse cx="142.4" cy="266.3" rx="34.4" ry="8.9" transform="rotate(46 142.4 266.3)" fill="url(#gw)" opacity="0.020"/>
<ellipse cx="572.2" cy="331.1" rx="34.4" ry="8.9" transform="rotate(46 572.2 331.1)" fill="url(#gw)" opacity="0.020"/>
<ellipse cx="165.1" cy="62.4" rx="27.8" ry="8.5" transform="rotate(52 165.1 62.4)" fill="url(#gk)" opacity="0.272"/>
<ellipse cx="549.5" cy="535.0" rx="27.8" ry="8.5" transform="rotate(52 549.5 535.0)" fill="url(#gk)" opacity="0.272"/>
<ellipse cx="159.1" cy="77.9" rx="30.7" ry="6.4" transform="rotate(24 159.1 77.9)" fill="url(#gw)" opacity="0.028"/>
<ellipse cx="555.5" cy="519.5" rx="30.7" ry="6.4" transform="rotate(24 555.5 519.5)" fill="url(#gw)" opacity="0.028"/>
<ellipse cx="120.3" cy="116.8" rx="21.6" ry="6.8" transform="rotate(36 120.3 116.8)" fill="url(#gk)" opacity="0.341"/>
<ellipse cx="594.3" cy="480.6" rx="21.6" ry="6.8" transform="rotate(36 594.3 480.6)" fill="url(#gk)" opacity="0.341"/>
<ellipse cx="528.9" cy="205.3" rx="13.7" ry="7.1" transform="rotate(54 528.9 205.3)" fill="url(#gw)" opacity="0.041"/>
<ellipse cx="185.7" cy="392.1" rx="13.7" ry="7.1" transform="rotate(54 185.7 392.1)" fill="url(#gw)" opacity="0.041"/>
<ellipse cx="280.6" cy="226.4" rx="33.2" ry="6.0" transform="rotate(33 280.6 226.4)" fill="url(#gk)" opacity="0.235"/>
<ellipse cx="434.0" cy="371.0" rx="33.2" ry="6.0" transform="rotate(33 434.0 371.0)" fill="url(#gk)" opacity="0.235"/>
<ellipse cx="110.6" cy="103.4" rx="30.8" ry="9.0" transform="rotate(38 110.6 103.4)" fill="url(#gw)" opacity="0.031"/>
<ellipse cx="604.0" cy="494.0" rx="30.8" ry="9.0" transform="rotate(38 604.0 494.0)" fill="url(#gw)" opacity="0.031"/>
<ellipse cx="351.8" cy="249.0" rx="21.1" ry="8.5" transform="rotate(45 351.8 249.0)" fill="url(#gw)" opacity="0.048"/>
<ellipse cx="362.8" cy="348.4" rx="21.1" ry="8.5" transform="rotate(45 362.8 348.4)" fill="url(#gw)" opacity="0.048"/>
<ellipse cx="249.6" cy="106.5" rx="29.4" ry="7.4" transform="rotate(52 249.6 106.5)" fill="url(#gw)" opacity="0.036"/>
<ellipse cx="465.0" cy="490.9" rx="29.4" ry="7.4" transform="rotate(52 465.0 490.9)" fill="url(#gw)" opacity="0.036"/>
<ellipse cx="149.8" cy="246.8" rx="27.7" ry="6.9" transform="rotate(34 149.8 246.8)" fill="url(#gw)" opacity="0.027"/>
<ellipse cx="564.8" cy="350.6" rx="27.7" ry="6.9" transform="rotate(34 564.8 350.6)" fill="url(#gw)" opacity="0.027"/>
<ellipse cx="548.1" cy="75.1" rx="33.8" ry="5.8" transform="rotate(31 548.1 75.1)" fill="url(#gw)" opacity="0.022"/>
<ellipse cx="166.5" cy="522.3" rx="33.8" ry="5.8" transform="rotate(31 166.5 522.3)" fill="url(#gw)" opacity="0.022"/>
<ellipse cx="553.4" cy="176.6" rx="18.5" ry="7.3" transform="rotate(35 553.4 176.6)" fill="url(#gk)" opacity="0.421"/>
<ellipse cx="161.2" cy="420.8" rx="18.5" ry="7.3" transform="rotate(35 161.2 420.8)" fill="url(#gk)" opacity="0.421"/>
<ellipse cx="480.5" cy="212.1" rx="21.2" ry="6.8" transform="rotate(36 480.5 212.1)" fill="url(#gw)" opacity="0.044"/>
<ellipse cx="234.1" cy="385.3" rx="21.2" ry="6.8" transform="rotate(36 234.1 385.3)" fill="url(#gw)" opacity="0.044"/>
<ellipse cx="435.8" cy="235.6" rx="31.1" ry="7.7" transform="rotate(13 435.8 235.6)" fill="url(#gw)" opacity="0.030"/>
<ellipse cx="278.8" cy="361.8" rx="31.1" ry="7.7" transform="rotate(13 278.8 361.8)" fill="url(#gw)" opacity="0.030"/>
<ellipse cx="545.5" cy="112.2" rx="17.5" ry="6.7" transform="rotate(54 545.5 112.2)" fill="url(#gk)" opacity="0.450"/>
<ellipse cx="169.1" cy="485.2" rx="17.5" ry="6.7" transform="rotate(54 169.1 485.2)" fill="url(#gk)" opacity="0.450"/>
<ellipse cx="186.1" cy="92.2" rx="25.2" ry="6.3" transform="rotate(40 186.1 92.2)" fill="url(#gw)" opacity="0.019"/>
<ellipse cx="528.5" cy="505.2" rx="25.2" ry="6.3" transform="rotate(40 528.5 505.2)" fill="url(#gw)" opacity="0.019"/>
<ellipse cx="589.8" cy="232.3" rx="15.4" ry="9.0" transform="rotate(68 589.8 232.3)" fill="url(#gw)" opacity="0.027"/>
<ellipse cx="124.8" cy="365.1" rx="15.4" ry="9.0" transform="rotate(68 124.8 365.1)" fill="url(#gw)" opacity="0.027"/>
<ellipse cx="594.0" cy="248.5" rx="17.6" ry="7.9" transform="rotate(59 594.0 248.5)" fill="url(#gw)" opacity="0.020"/>
<ellipse cx="120.6" cy="348.9" rx="17.6" ry="7.9" transform="rotate(59 120.6 348.9)" fill="url(#gw)" opacity="0.020"/>
<ellipse cx="301.1" cy="62.3" rx="22.3" ry="8.4" transform="rotate(28 301.1 62.3)" fill="url(#gk)" opacity="0.340"/>
<ellipse cx="413.5" cy="535.1" rx="22.3" ry="8.4" transform="rotate(28 413.5 535.1)" fill="url(#gk)" opacity="0.340"/>
<ellipse cx="421.1" cy="167.4" rx="22.5" ry="8.2" transform="rotate(16 421.1 167.4)" fill="url(#gk)" opacity="0.318"/>
<ellipse cx="293.5" cy="430.0" rx="22.5" ry="8.2" transform="rotate(16 293.5 430.0)" fill="url(#gk)" opacity="0.318"/>
<ellipse cx="392.4" cy="237.3" rx="22.9" ry="6.5" transform="rotate(18 392.4 237.3)" fill="url(#gk)" opacity="0.462"/>
<ellipse cx="322.2" cy="360.1" rx="22.9" ry="6.5" transform="rotate(18 322.2 360.1)" fill="url(#gk)" opacity="0.462"/>
<ellipse cx="490.8" cy="225.3" rx="28.0" ry="7.3" transform="rotate(35 490.8 225.3)" fill="url(#gw)" opacity="0.036"/>
<ellipse cx="223.8" cy="372.1" rx="28.0" ry="7.3" transform="rotate(35 223.8 372.1)" fill="url(#gw)" opacity="0.036"/>
<ellipse cx="158.2" cy="156.7" rx="31.3" ry="8.1" transform="rotate(27 158.2 156.7)" fill="url(#gk)" opacity="0.260"/>
<ellipse cx="556.4" cy="440.7" rx="31.3" ry="8.1" transform="rotate(27 556.4 440.7)" fill="url(#gk)" opacity="0.260"/>
<ellipse cx="318.4" cy="165.4" rx="28.8" ry="8.9" transform="rotate(32 318.4 165.4)" fill="url(#gw)" opacity="0.037"/>
<ellipse cx="396.2" cy="432.0" rx="28.8" ry="8.9" transform="rotate(32 396.2 432.0)" fill="url(#gw)" opacity="0.037"/>
<ellipse cx="492.9" cy="149.1" rx="24.5" ry="9.0" transform="rotate(21 492.9 149.1)" fill="url(#gw)" opacity="0.033"/>
<ellipse cx="221.7" cy="448.3" rx="24.5" ry="9.0" transform="rotate(21 221.7 448.3)" fill="url(#gw)" opacity="0.033"/>
<ellipse cx="189.1" cy="245.3" rx="15.4" ry="7.7" transform="rotate(52 189.1 245.3)" fill="url(#gk)" opacity="0.410"/>
<ellipse cx="525.5" cy="352.1" rx="15.4" ry="7.7" transform="rotate(52 525.5 352.1)" fill="url(#gk)" opacity="0.410"/>
<ellipse cx="362.0" cy="210.4" rx="32.4" ry="7.5" transform="rotate(4 362.0 210.4)" fill="url(#gw)" opacity="0.048"/>
<ellipse cx="352.6" cy="387.0" rx="32.4" ry="7.5" transform="rotate(4 352.6 387.0)" fill="url(#gw)" opacity="0.048"/>
<ellipse cx="213.4" cy="221.5" rx="15.9" ry="9.0" transform="rotate(25 213.4 221.5)" fill="url(#gw)" opacity="0.014"/>
<ellipse cx="501.2" cy="375.9" rx="15.9" ry="9.0" transform="rotate(25 501.2 375.9)" fill="url(#gw)" opacity="0.014"/>
<ellipse cx="245.0" cy="151.8" rx="13.3" ry="7.1" transform="rotate(52 245.0 151.8)" fill="url(#gw)" opacity="0.039"/>
<ellipse cx="469.6" cy="445.6" rx="13.3" ry="7.1" transform="rotate(52 469.6 445.6)" fill="url(#gw)" opacity="0.039"/>
<ellipse cx="283.2" cy="118.9" rx="35.0" ry="7.5" transform="rotate(43 283.2 118.9)" fill="url(#gw)" opacity="0.042"/>
<ellipse cx="431.4" cy="478.5" rx="35.0" ry="7.5" transform="rotate(43 431.4 478.5)" fill="url(#gw)" opacity="0.042"/>
<ellipse cx="302.8" cy="105.9" rx="16.0" ry="8.3" transform="rotate(58 302.8 105.9)" fill="url(#gk)" opacity="0.383"/>
<ellipse cx="411.8" cy="491.5" rx="16.0" ry="8.3" transform="rotate(58 411.8 491.5)" fill="url(#gk)" opacity="0.383"/>
<ellipse cx="340.8" cy="191.5" rx="21.3" ry="7.9" transform="rotate(44 340.8 191.5)" fill="url(#gk)" opacity="0.441"/>
<ellipse cx="373.8" cy="405.9" rx="21.3" ry="7.9" transform="rotate(44 373.8 405.9)" fill="url(#gk)" opacity="0.441"/>
<ellipse cx="340.3" cy="126.0" rx="25.8" ry="6.1" transform="rotate(68 340.3 126.0)" fill="url(#gk)" opacity="0.294"/>
<ellipse cx="374.3" cy="471.4" rx="25.8" ry="6.1" transform="rotate(68 374.3 471.4)" fill="url(#gk)" opacity="0.294"/>
<ellipse cx="528.5" cy="119.4" rx="23.0" ry="6.3" transform="rotate(35 528.5 119.4)" fill="url(#gw)" opacity="0.039"/>
<ellipse cx="186.1" cy="478.0" rx="23.0" ry="6.3" transform="rotate(35 186.1 478.0)" fill="url(#gw)" opacity="0.039"/>
<ellipse cx="248.4" cy="113.9" rx="20.1" ry="7.3" transform="rotate(46 248.4 113.9)" fill="url(#gw)" opacity="0.036"/>
<ellipse cx="466.2" cy="483.5" rx="20.1" ry="7.3" transform="rotate(46 466.2 483.5)" fill="url(#gw)" opacity="0.036"/>
<ellipse cx="434.4" cy="142.7" rx="14.3" ry="8.5" transform="rotate(24 434.4 142.7)" fill="url(#gk)" opacity="0.431"/>
<ellipse cx="280.2" cy="454.7" rx="14.3" ry="8.5" transform="rotate(24 280.2 454.7)" fill="url(#gk)" opacity="0.431"/>
<ellipse cx="179.1" cy="257.4" rx="27.8" ry="5.8" transform="rotate(31 179.1 257.4)" fill="url(#gw)" opacity="0.048"/>
<ellipse cx="535.5" cy="340.0" rx="27.8" ry="5.8" transform="rotate(31 535.5 340.0)" fill="url(#gw)" opacity="0.048"/>
<ellipse cx="432.7" cy="115.2" rx="18.5" ry="8.3" transform="rotate(12 432.7 115.2)" fill="url(#gw)" opacity="0.018"/>
<ellipse cx="281.9" cy="482.2" rx="18.5" ry="8.3" transform="rotate(12 281.9 482.2)" fill="url(#gw)" opacity="0.018"/>
<ellipse cx="554.8" cy="247.7" rx="16.9" ry="8.7" transform="rotate(52 554.8 247.7)" fill="url(#gk)" opacity="0.430"/>
<ellipse cx="159.8" cy="349.7" rx="16.9" ry="8.7" transform="rotate(52 159.8 349.7)" fill="url(#gk)" opacity="0.430"/>
<ellipse cx="438.9" cy="272.7" rx="17.6" ry="8.1" transform="rotate(13 438.9 272.7)" fill="url(#gk)" opacity="0.417"/>
<ellipse cx="275.7" cy="324.7" rx="17.6" ry="8.1" transform="rotate(13 275.7 324.7)" fill="url(#gk)" opacity="0.417"/>
<ellipse cx="325.8" cy="270.0" rx="26.0" ry="6.6" transform="rotate(20 325.8 270.0)" fill="url(#gw)" opacity="0.017"/>
<ellipse cx="388.8" cy="327.4" rx="26.0" ry="6.6" transform="rotate(20 388.8 327.4)" fill="url(#gw)" opacity="0.017"/>
<ellipse cx="352.6" cy="68.3" rx="24.5" ry="7.4" transform="rotate(34 352.6 68.3)" fill="url(#gk)" opacity="0.456"/>
<ellipse cx="362.0" cy="529.1" rx="24.5" ry="7.4" transform="rotate(34 362.0 529.1)" fill="url(#gk)" opacity="0.456"/>
<ellipse cx="113.3" cy="259.7" rx="24.0" ry="7.6" transform="rotate(41 113.3 259.7)" fill="url(#gk)" opacity="0.449"/>
<ellipse cx="601.3" cy="337.7" rx="24.0" ry="7.6" transform="rotate(41 601.3 337.7)" fill="url(#gk)" opacity="0.449"/>
<ellipse cx="294.5" cy="156.5" rx="27.9" ry="7.9" transform="rotate(44 294.5 156.5)" fill="url(#gw)" opacity="0.035"/>
<ellipse cx="420.1" cy="440.9" rx="27.9" ry="7.9" transform="rotate(44 420.1 440.9)" fill="url(#gw)" opacity="0.035"/>
<ellipse cx="445.8" cy="281.9" rx="20.7" ry="9.0" transform="rotate(10 445.8 281.9)" fill="url(#gk)" opacity="0.335"/>
<ellipse cx="268.8" cy="315.5" rx="20.7" ry="9.0" transform="rotate(10 268.8 315.5)" fill="url(#gk)" opacity="0.335"/>
<ellipse cx="551.6" cy="62.3" rx="20.9" ry="8.6" transform="rotate(45 551.6 62.3)" fill="url(#gw)" opacity="0.030"/>
<ellipse cx="163.0" cy="535.1" rx="20.9" ry="8.6" transform="rotate(45 163.0 535.1)" fill="url(#gw)" opacity="0.030"/>
<ellipse cx="368.6" cy="242.6" rx="17.9" ry="7.2" transform="rotate(-4 368.6 242.6)" fill="url(#gw)" opacity="0.033"/>
<ellipse cx="346.0" cy="354.8" rx="17.9" ry="7.2" transform="rotate(-4 346.0 354.8)" fill="url(#gw)" opacity="0.033"/>
<ellipse cx="516.7" cy="125.7" rx="24.8" ry="6.6" transform="rotate(40 516.7 125.7)" fill="url(#gk)" opacity="0.492"/>
<ellipse cx="197.9" cy="471.7" rx="24.8" ry="6.6" transform="rotate(40 197.9 471.7)" fill="url(#gk)" opacity="0.492"/>
<ellipse cx="432.0" cy="247.8" rx="20.7" ry="6.8" transform="rotate(-0 432.0 247.8)" fill="url(#gw)" opacity="0.034"/>
<ellipse cx="282.6" cy="349.6" rx="20.7" ry="6.8" transform="rotate(-0 282.6 349.6)" fill="url(#gw)" opacity="0.034"/>
<ellipse cx="422.3" cy="245.9" rx="33.7" ry="7.6" transform="rotate(22 422.3 245.9)" fill="url(#gw)" opacity="0.023"/>
<ellipse cx="292.3" cy="351.5" rx="33.7" ry="7.6" transform="rotate(22 292.3 351.5)" fill="url(#gw)" opacity="0.023"/>
<ellipse cx="113.1" cy="100.5" rx="34.6" ry="7.8" transform="rotate(44 113.1 100.5)" fill="url(#gk)" opacity="0.432"/>
<ellipse cx="601.5" cy="496.9" rx="34.6" ry="7.8" transform="rotate(44 601.5 496.9)" fill="url(#gk)" opacity="0.432"/>
<ellipse cx="557.6" cy="203.7" rx="29.3" ry="7.7" transform="rotate(40 557.6 203.7)" fill="url(#gk)" opacity="0.248"/>
<ellipse cx="157.0" cy="393.7" rx="29.3" ry="7.7" transform="rotate(40 157.0 393.7)" fill="url(#gk)" opacity="0.248"/>
<ellipse cx="438.2" cy="166.0" rx="30.8" ry="6.1" transform="rotate(-0 438.2 166.0)" fill="url(#gw)" opacity="0.013"/>
<ellipse cx="276.4" cy="431.4" rx="30.8" ry="6.1" transform="rotate(-0 276.4 431.4)" fill="url(#gw)" opacity="0.013"/>
<ellipse cx="491.1" cy="277.7" rx="32.2" ry="8.4" transform="rotate(22 491.1 277.7)" fill="url(#gk)" opacity="0.263"/>
<ellipse cx="223.5" cy="319.7" rx="32.2" ry="8.4" transform="rotate(22 223.5 319.7)" fill="url(#gk)" opacity="0.263"/>
<ellipse cx="258.6" cy="157.2" rx="20.5" ry="7.2" transform="rotate(31 258.6 157.2)" fill="url(#gk)" opacity="0.479"/>
<ellipse cx="456.0" cy="440.2" rx="20.5" ry="7.2" transform="rotate(31 456.0 440.2)" fill="url(#gk)" opacity="0.479"/>
<ellipse cx="136.9" cy="192.9" rx="32.0" ry="7.7" transform="rotate(45 136.9 192.9)" fill="url(#gk)" opacity="0.323"/>
<ellipse cx="577.7" cy="404.5" rx="32.0" ry="7.7" transform="rotate(45 577.7 404.5)" fill="url(#gk)" opacity="0.323"/>
<ellipse cx="117.0" cy="148.7" rx="26.9" ry="8.9" transform="rotate(41 117.0 148.7)" fill="url(#gk)" opacity="0.332"/>
<ellipse cx="597.6" cy="448.7" rx="26.9" ry="8.9" transform="rotate(41 597.6 448.7)" fill="url(#gk)" opacity="0.332"/>
<ellipse cx="312.9" cy="79.0" rx="16.6" ry="5.8" transform="rotate(35 312.9 79.0)" fill="url(#gw)" opacity="0.038"/>
<ellipse cx="401.7" cy="518.4" rx="16.6" ry="5.8" transform="rotate(35 401.7 518.4)" fill="url(#gw)" opacity="0.038"/>
<ellipse cx="169.9" cy="290.5" rx="15.1" ry="8.7" transform="rotate(34 169.9 290.5)" fill="url(#gw)" opacity="0.013"/>
<ellipse cx="544.7" cy="306.9" rx="15.1" ry="8.7" transform="rotate(34 544.7 306.9)" fill="url(#gw)" opacity="0.013"/>
<ellipse cx="463.9" cy="113.3" rx="14.2" ry="8.3" transform="rotate(17 463.9 113.3)" fill="url(#gk)" opacity="0.454"/>
<ellipse cx="250.7" cy="484.1" rx="14.2" ry="8.3" transform="rotate(17 250.7 484.1)" fill="url(#gk)" opacity="0.454"/>
<ellipse cx="469.0" cy="74.6" rx="27.7" ry="8.1" transform="rotate(13 469.0 74.6)" fill="url(#gw)" opacity="0.047"/>
<ellipse cx="245.6" cy="522.8" rx="27.7" ry="8.1" transform="rotate(13 245.6 522.8)" fill="url(#gw)" opacity="0.047"/>
<ellipse cx="235.0" cy="290.0" rx="13.3" ry="7.9" transform="rotate(40 235.0 290.0)" fill="url(#gk)" opacity="0.205"/>
<ellipse cx="479.6" cy="307.4" rx="13.3" ry="7.9" transform="rotate(40 479.6 307.4)" fill="url(#gk)" opacity="0.205"/>
<ellipse cx="263.0" cy="232.5" rx="16.9" ry="8.6" transform="rotate(38 263.0 232.5)" fill="url(#gw)" opacity="0.014"/>
<ellipse cx="451.6" cy="364.9" rx="16.9" ry="8.6" transform="rotate(38 451.6 364.9)" fill="url(#gw)" opacity="0.014"/>
<ellipse cx="290.8" cy="194.7" rx="16.4" ry="8.4" transform="rotate(25 290.8 194.7)" fill="url(#gw)" opacity="0.037"/>
<ellipse cx="423.8" cy="402.7" rx="16.4" ry="8.4" transform="rotate(25 423.8 402.7)" fill="url(#gw)" opacity="0.037"/>
<ellipse cx="419.8" cy="156.3" rx="22.0" ry="8.4" transform="rotate(13 419.8 156.3)" fill="url(#gk)" opacity="0.431"/>
<ellipse cx="294.8" cy="441.1" rx="22.0" ry="8.4" transform="rotate(13 294.8 441.1)" fill="url(#gk)" opacity="0.431"/>
<ellipse cx="388.9" cy="125.5" rx="29.5" ry="8.5" transform="rotate(31 388.9 125.5)" fill="url(#gw)" opacity="0.035"/>
<ellipse cx="325.7" cy="471.9" rx="29.5" ry="8.5" transform="rotate(31 325.7 471.9)" fill="url(#gw)" opacity="0.035"/>
<ellipse cx="590.9" cy="257.4" rx="27.1" ry="6.8" transform="rotate(69 590.9 257.4)" fill="url(#gw)" opacity="0.046"/>
<ellipse cx="123.7" cy="340.0" rx="27.1" ry="6.8" transform="rotate(69 123.7 340.0)" fill="url(#gw)" opacity="0.046"/>
<ellipse cx="295.3" cy="221.6" rx="31.9" ry="6.7" transform="rotate(21 295.3 221.6)" fill="url(#gw)" opacity="0.022"/>
<ellipse cx="419.3" cy="375.8" rx="31.9" ry="6.7" transform="rotate(21 419.3 375.8)" fill="url(#gw)" opacity="0.022"/>
<ellipse cx="317.9" cy="197.6" rx="32.1" ry="8.7" transform="rotate(26 317.9 197.6)" fill="url(#gw)" opacity="0.044"/>
<ellipse cx="396.7" cy="399.8" rx="32.1" ry="8.7" transform="rotate(26 396.7 399.8)" fill="url(#gw)" opacity="0.044"/>
<ellipse cx="509.4" cy="266.2" rx="32.9" ry="8.4" transform="rotate(27 509.4 266.2)" fill="url(#gk)" opacity="0.472"/>
<ellipse cx="205.2" cy="331.2" rx="32.9" ry="8.4" transform="rotate(27 205.2 331.2)" fill="url(#gk)" opacity="0.472"/>
<ellipse cx="280.7" cy="74.8" rx="26.0" ry="8.4" transform="rotate(36 280.7 74.8)" fill="url(#gw)" opacity="0.041"/>
<ellipse cx="433.9" cy="522.6" rx="26.0" ry="8.4" transform="rotate(36 433.9 522.6)" fill="url(#gw)" opacity="0.041"/>
<ellipse cx="568.4" cy="111.3" rx="23.9" ry="6.4" transform="rotate(43 568.4 111.3)" fill="url(#gw)" opacity="0.041"/>
<ellipse cx="146.2" cy="486.1" rx="23.9" ry="6.4" transform="rotate(43 146.2 486.1)" fill="url(#gw)" opacity="0.041"/>
<ellipse cx="499.5" cy="166.5" rx="15.1" ry="8.4" transform="rotate(21 499.5 166.5)" fill="url(#gk)" opacity="0.255"/>
<ellipse cx="215.1" cy="430.9" rx="15.1" ry="8.4" transform="rotate(21 215.1 430.9)" fill="url(#gk)" opacity="0.255"/>
<ellipse cx="395.2" cy="273.5" rx="24.2" ry="7.7" transform="rotate(16 395.2 273.5)" fill="url(#gw)" opacity="0.019"/>
<ellipse cx="319.4" cy="323.9" rx="24.2" ry="7.7" transform="rotate(16 319.4 323.9)" fill="url(#gw)" opacity="0.019"/>
<ellipse cx="198.9" cy="225.6" rx="21.5" ry="7.6" transform="rotate(31 198.9 225.6)" fill="url(#gw)" opacity="0.032"/>
<ellipse cx="515.7" cy="371.8" rx="21.5" ry="7.6" transform="rotate(31 515.7 371.8)" fill="url(#gw)" opacity="0.032"/>
<ellipse cx="183.3" cy="64.9" rx="15.5" ry="7.9" transform="rotate(51 183.3 64.9)" fill="url(#gk)" opacity="0.230"/>
<ellipse cx="531.3" cy="532.5" rx="15.5" ry="7.9" transform="rotate(51 531.3 532.5)" fill="url(#gk)" opacity="0.230"/>
<ellipse cx="403.8" cy="138.4" rx="25.2" ry="5.8" transform="rotate(8 403.8 138.4)" fill="url(#gw)" opacity="0.050"/>
<ellipse cx="310.8" cy="459.0" rx="25.2" ry="5.8" transform="rotate(8 310.8 459.0)" fill="url(#gw)" opacity="0.050"/>
<ellipse cx="536.1" cy="173.0" rx="31.2" ry="7.2" transform="rotate(36 536.1 173.0)" fill="url(#gk)" opacity="0.426"/>
<ellipse cx="178.5" cy="424.4" rx="31.2" ry="7.2" transform="rotate(36 178.5 424.4)" fill="url(#gk)" opacity="0.426"/>
<ellipse cx="512.9" cy="289.8" rx="18.9" ry="5.8" transform="rotate(31 512.9 289.8)" fill="url(#gw)" opacity="0.019"/>
<ellipse cx="201.7" cy="307.6" rx="18.9" ry="5.8" transform="rotate(31 201.7 307.6)" fill="url(#gw)" opacity="0.019"/>
<ellipse cx="151.2" cy="66.5" rx="23.7" ry="8.9" transform="rotate(19 151.2 66.5)" fill="url(#gk)" opacity="0.201"/>
<ellipse cx="563.4" cy="530.9" rx="23.7" ry="8.9" transform="rotate(19 563.4 530.9)" fill="url(#gk)" opacity="0.201"/>
<ellipse cx="404.2" cy="151.2" rx="15.8" ry="9.0" transform="rotate(2 404.2 151.2)" fill="url(#gw)" opacity="0.033"/>
<ellipse cx="310.4" cy="446.2" rx="15.8" ry="9.0" transform="rotate(2 310.4 446.2)" fill="url(#gw)" opacity="0.033"/>
<ellipse cx="425.2" cy="288.0" rx="23.5" ry="6.3" transform="rotate(4 425.2 288.0)" fill="url(#gk)" opacity="0.497"/>
<ellipse cx="289.4" cy="309.4" rx="23.5" ry="6.3" transform="rotate(4 289.4 309.4)" fill="url(#gk)" opacity="0.497"/>
<ellipse cx="219.1" cy="63.5" rx="19.0" ry="6.9" transform="rotate(30 219.1 63.5)" fill="url(#gk)" opacity="0.469"/>
<ellipse cx="495.5" cy="533.9" rx="19.0" ry="6.9" transform="rotate(30 495.5 533.9)" fill="url(#gk)" opacity="0.469"/>
<ellipse cx="521.9" cy="65.5" rx="28.1" ry="9.1" transform="rotate(41 521.9 65.5)" fill="url(#gw)" opacity="0.018"/>
<ellipse cx="192.7" cy="531.9" rx="28.1" ry="9.1" transform="rotate(41 192.7 531.9)" fill="url(#gw)" opacity="0.018"/>
<ellipse cx="481.4" cy="283.9" rx="28.8" ry="6.7" transform="rotate(10 481.4 283.9)" fill="url(#gk)" opacity="0.423"/>
<ellipse cx="233.2" cy="313.5" rx="28.8" ry="6.7" transform="rotate(10 233.2 313.5)" fill="url(#gk)" opacity="0.423"/>
<ellipse cx="161.9" cy="133.3" rx="24.3" ry="6.3" transform="rotate(40 161.9 133.3)" fill="url(#gw)" opacity="0.017"/>
<ellipse cx="552.7" cy="464.1" rx="24.3" ry="6.3" transform="rotate(40 552.7 464.1)" fill="url(#gw)" opacity="0.017"/>
<ellipse cx="443.4" cy="57.1" rx="29.8" ry="6.4" transform="rotate(15 443.4 57.1)" fill="url(#gw)" opacity="0.047"/>
<ellipse cx="271.2" cy="540.3" rx="29.8" ry="6.4" transform="rotate(15 271.2 540.3)" fill="url(#gw)" opacity="0.047"/>
<ellipse cx="218.5" cy="282.5" rx="16.3" ry="7.2" transform="rotate(55 218.5 282.5)" fill="url(#gw)" opacity="0.047"/>
<ellipse cx="496.1" cy="314.9" rx="16.3" ry="7.2" transform="rotate(55 496.1 314.9)" fill="url(#gw)" opacity="0.047"/>
<ellipse cx="524.4" cy="207.8" rx="23.6" ry="6.9" transform="rotate(24 524.4 207.8)" fill="url(#gk)" opacity="0.333"/>
<ellipse cx="190.2" cy="389.6" rx="23.6" ry="6.9" transform="rotate(24 190.2 389.6)" fill="url(#gk)" opacity="0.333"/>
<ellipse cx="419.1" cy="88.9" rx="29.7" ry="7.6" transform="rotate(9 419.1 88.9)" fill="url(#gw)" opacity="0.045"/>
<ellipse cx="295.5" cy="508.5" rx="29.7" ry="7.6" transform="rotate(9 295.5 508.5)" fill="url(#gw)" opacity="0.045"/>
<ellipse cx="241.1" cy="154.8" rx="16.6" ry="6.6" transform="rotate(44 241.1 154.8)" fill="url(#gk)" opacity="0.287"/>
<ellipse cx="473.5" cy="442.6" rx="16.6" ry="6.6" transform="rotate(44 473.5 442.6)" fill="url(#gk)" opacity="0.287"/>
<ellipse cx="192.6" cy="174.1" rx="15.7" ry="9.0" transform="rotate(30 192.6 174.1)" fill="url(#gw)" opacity="0.046"/>
<ellipse cx="522.0" cy="423.3" rx="15.7" ry="9.0" transform="rotate(30 522.0 423.3)" fill="url(#gw)" opacity="0.046"/>
<ellipse cx="438.8" cy="105.7" rx="24.2" ry="6.7" transform="rotate(26 438.8 105.7)" fill="url(#gw)" opacity="0.020"/>
<ellipse cx="275.8" cy="491.7" rx="24.2" ry="6.7" transform="rotate(26 275.8 491.7)" fill="url(#gw)" opacity="0.020"/>
<ellipse cx="289.2" cy="296.5" rx="15.3" ry="6.7" transform="rotate(65 289.2 296.5)" fill="url(#gk)" opacity="0.198"/>
<ellipse cx="425.4" cy="300.9" rx="15.3" ry="6.7" transform="rotate(65 425.4 300.9)" fill="url(#gk)" opacity="0.198"/>
<ellipse cx="467.4" cy="125.8" rx="35.9" ry="5.8" transform="rotate(18 467.4 125.8)" fill="url(#gk)" opacity="0.289"/>
<ellipse cx="247.2" cy="471.6" rx="35.9" ry="5.8" transform="rotate(18 247.2 471.6)" fill="url(#gk)" opacity="0.289"/>
<ellipse cx="179.0" cy="54.5" rx="17.3" ry="7.2" transform="rotate(47 179.0 54.5)" fill="url(#gk)" opacity="0.250"/>
<ellipse cx="535.6" cy="542.9" rx="17.3" ry="7.2" transform="rotate(47 535.6 542.9)" fill="url(#gk)" opacity="0.250"/>
<ellipse cx="391.1" cy="87.8" rx="17.2" ry="8.3" transform="rotate(-2 391.1 87.8)" fill="url(#gk)" opacity="0.243"/>
<ellipse cx="323.5" cy="509.6" rx="17.2" ry="8.3" transform="rotate(-2 323.5 509.6)" fill="url(#gk)" opacity="0.243"/>
<ellipse cx="149.0" cy="75.4" rx="19.4" ry="6.4" transform="rotate(30 149.0 75.4)" fill="url(#gk)" opacity="0.406"/>
<ellipse cx="565.6" cy="522.0" rx="19.4" ry="6.4" transform="rotate(30 565.6 522.0)" fill="url(#gk)" opacity="0.406"/>
<ellipse cx="509.3" cy="196.6" rx="17.7" ry="5.9" transform="rotate(26 509.3 196.6)" fill="url(#gk)" opacity="0.311"/>
<ellipse cx="205.3" cy="400.8" rx="17.7" ry="5.9" transform="rotate(26 205.3 400.8)" fill="url(#gk)" opacity="0.311"/>
<ellipse cx="465.1" cy="67.5" rx="32.7" ry="8.6" transform="rotate(21 465.1 67.5)" fill="url(#gw)" opacity="0.013"/>
<ellipse cx="249.5" cy="529.9" rx="32.7" ry="8.6" transform="rotate(21 249.5 529.9)" fill="url(#gw)" opacity="0.013"/>
<ellipse cx="557.8" cy="170.6" rx="33.4" ry="6.6" transform="rotate(42 557.8 170.6)" fill="url(#gw)" opacity="0.044"/>
<ellipse cx="156.8" cy="426.8" rx="33.4" ry="6.6" transform="rotate(42 156.8 426.8)" fill="url(#gw)" opacity="0.044"/>
<ellipse cx="290.6" cy="94.0" rx="13.1" ry="7.5" transform="rotate(30 290.6 94.0)" fill="url(#gw)" opacity="0.032"/>
<ellipse cx="424.0" cy="503.4" rx="13.1" ry="7.5" transform="rotate(30 424.0 503.4)" fill="url(#gw)" opacity="0.032"/>
<ellipse cx="169.4" cy="228.9" rx="32.1" ry="8.6" transform="rotate(51 169.4 228.9)" fill="url(#gw)" opacity="0.039"/>
<ellipse cx="545.2" cy="368.5" rx="32.1" ry="8.6" transform="rotate(51 545.2 368.5)" fill="url(#gw)" opacity="0.039"/>
<ellipse cx="297.6" cy="237.8" rx="35.3" ry="7.4" transform="rotate(61 297.6 237.8)" fill="url(#gk)" opacity="0.350"/>
<ellipse cx="417.0" cy="359.6" rx="35.3" ry="7.4" transform="rotate(61 417.0 359.6)" fill="url(#gk)" opacity="0.350"/>
<ellipse cx="374.4" cy="59.1" rx="35.6" ry="6.5" transform="rotate(15 374.4 59.1)" fill="url(#gw)" opacity="0.016"/>
<ellipse cx="340.2" cy="538.3" rx="35.6" ry="6.5" transform="rotate(15 340.2 538.3)" fill="url(#gw)" opacity="0.016"/>
<ellipse cx="233.2" cy="254.0" rx="29.4" ry="6.4" transform="rotate(45 233.2 254.0)" fill="url(#gw)" opacity="0.035"/>
<ellipse cx="481.4" cy="343.4" rx="29.4" ry="6.4" transform="rotate(45 481.4 343.4)" fill="url(#gw)" opacity="0.035"/>
<ellipse cx="393.6" cy="182.0" rx="29.4" ry="6.1" transform="rotate(9 393.6 182.0)" fill="url(#gk)" opacity="0.409"/>
<ellipse cx="321.0" cy="415.4" rx="29.4" ry="6.1" transform="rotate(9 321.0 415.4)" fill="url(#gk)" opacity="0.409"/>
<ellipse cx="132.2" cy="84.1" rx="19.5" ry="6.1" transform="rotate(27 132.2 84.1)" fill="url(#gw)" opacity="0.017"/>
<ellipse cx="582.4" cy="513.3" rx="19.5" ry="6.1" transform="rotate(27 582.4 513.3)" fill="url(#gw)" opacity="0.017"/>
<ellipse cx="401.2" cy="264.7" rx="16.4" ry="7.7" transform="rotate(8 401.2 264.7)" fill="url(#gk)" opacity="0.233"/>
<ellipse cx="313.4" cy="332.7" rx="16.4" ry="7.7" transform="rotate(8 313.4 332.7)" fill="url(#gk)" opacity="0.233"/>
<ellipse cx="516.4" cy="283.4" rx="32.6" ry="7.5" transform="rotate(28 516.4 283.4)" fill="url(#gw)" opacity="0.048"/>
<ellipse cx="198.2" cy="314.0" rx="32.6" ry="7.5" transform="rotate(28 198.2 314.0)" fill="url(#gw)" opacity="0.048"/>
<ellipse cx="492.2" cy="136.8" rx="18.6" ry="6.9" transform="rotate(33 492.2 136.8)" fill="url(#gw)" opacity="0.049"/>
<ellipse cx="222.4" cy="460.6" rx="18.6" ry="6.9" transform="rotate(33 222.4 460.6)" fill="url(#gw)" opacity="0.049"/>
<ellipse cx="505.8" cy="277.4" rx="14.3" ry="7.5" transform="rotate(39 505.8 277.4)" fill="url(#gk)" opacity="0.479"/>
<ellipse cx="208.8" cy="320.0" rx="14.3" ry="7.5" transform="rotate(39 208.8 320.0)" fill="url(#gk)" opacity="0.479"/>
<ellipse cx="232.6" cy="157.3" rx="27.8" ry="7.0" transform="rotate(20 232.6 157.3)" fill="url(#gk)" opacity="0.202"/>
<ellipse cx="482.0" cy="440.1" rx="27.8" ry="7.0" transform="rotate(20 482.0 440.1)" fill="url(#gk)" opacity="0.202"/>
<ellipse cx="323.1" cy="177.5" rx="35.7" ry="8.3" transform="rotate(46 323.1 177.5)" fill="url(#gk)" opacity="0.383"/>
<ellipse cx="391.5" cy="419.9" rx="35.7" ry="8.3" transform="rotate(46 391.5 419.9)" fill="url(#gk)" opacity="0.383"/>
<ellipse cx="508.2" cy="270.4" rx="33.7" ry="5.8" transform="rotate(33 508.2 270.4)" fill="url(#gk)" opacity="0.265"/>
<ellipse cx="206.4" cy="327.0" rx="33.7" ry="5.8" transform="rotate(33 206.4 327.0)" fill="url(#gk)" opacity="0.265"/>
<ellipse cx="443.8" cy="120.9" rx="27.5" ry="6.6" transform="rotate(-9 443.8 120.9)" fill="url(#gk)" opacity="0.319"/>
<ellipse cx="270.8" cy="476.5" rx="27.5" ry="6.6" transform="rotate(-9 270.8 476.5)" fill="url(#gk)" opacity="0.319"/>
<ellipse cx="577.8" cy="124.4" rx="20.1" ry="7.9" transform="rotate(51 577.8 124.4)" fill="url(#gw)" opacity="0.035"/>
<ellipse cx="136.8" cy="473.0" rx="20.1" ry="7.9" transform="rotate(51 136.8 473.0)" fill="url(#gw)" opacity="0.035"/>
<ellipse cx="580.4" cy="179.7" rx="25.5" ry="6.2" transform="rotate(56 580.4 179.7)" fill="url(#gw)" opacity="0.017"/>
<ellipse cx="134.2" cy="417.7" rx="25.5" ry="6.2" transform="rotate(56 134.2 417.7)" fill="url(#gw)" opacity="0.017"/>
<ellipse cx="254.5" cy="153.5" rx="19.7" ry="6.5" transform="rotate(52 254.5 153.5)" fill="url(#gw)" opacity="0.033"/>
<ellipse cx="460.1" cy="443.9" rx="19.7" ry="6.5" transform="rotate(52 460.1 443.9)" fill="url(#gw)" opacity="0.033"/>
<ellipse cx="523.2" cy="203.3" rx="17.7" ry="8.1" transform="rotate(26 523.2 203.3)" fill="url(#gw)" opacity="0.033"/>
<ellipse cx="191.4" cy="394.1" rx="17.7" ry="8.1" transform="rotate(26 191.4 394.1)" fill="url(#gw)" opacity="0.033"/>
<ellipse cx="411.5" cy="168.8" rx="20.3" ry="6.5" transform="rotate(2 411.5 168.8)" fill="url(#gw)" opacity="0.031"/>
<ellipse cx="303.1" cy="428.6" rx="20.3" ry="6.5" transform="rotate(2 303.1 428.6)" fill="url(#gw)" opacity="0.031"/>
<ellipse cx="298.5" cy="197.3" rx="33.2" ry="6.5" transform="rotate(50 298.5 197.3)" fill="url(#gk)" opacity="0.337"/>
<ellipse cx="416.1" cy="400.1" rx="33.2" ry="6.5" transform="rotate(50 416.1 400.1)" fill="url(#gk)" opacity="0.337"/>
<ellipse cx="250.1" cy="295.6" rx="19.9" ry="8.3" transform="rotate(41 250.1 295.6)" fill="url(#gw)" opacity="0.015"/>
<ellipse cx="464.5" cy="301.8" rx="19.9" ry="8.3" transform="rotate(41 464.5 301.8)" fill="url(#gw)" opacity="0.015"/>
<ellipse cx="538.7" cy="161.7" rx="23.3" ry="8.2" transform="rotate(51 538.7 161.7)" fill="url(#gw)" opacity="0.021"/>
<ellipse cx="175.9" cy="435.7" rx="23.3" ry="8.2" transform="rotate(51 175.9 435.7)" fill="url(#gw)" opacity="0.021"/>
<ellipse cx="582.0" cy="234.7" rx="16.6" ry="6.9" transform="rotate(62 582.0 234.7)" fill="url(#gw)" opacity="0.038"/>
<ellipse cx="132.6" cy="362.7" rx="16.6" ry="6.9" transform="rotate(62 132.6 362.7)" fill="url(#gw)" opacity="0.038"/>
<ellipse cx="413.2" cy="262.0" rx="30.3" ry="8.2" transform="rotate(13 413.2 262.0)" fill="url(#gk)" opacity="0.332"/>
<ellipse cx="301.4" cy="335.4" rx="30.3" ry="8.2" transform="rotate(13 301.4 335.4)" fill="url(#gk)" opacity="0.332"/>
<ellipse cx="496.2" cy="227.4" rx="34.4" ry="6.2" transform="rotate(19 496.2 227.4)" fill="url(#gk)" opacity="0.181"/>
<ellipse cx="218.4" cy="370.0" rx="34.4" ry="6.2" transform="rotate(19 218.4 370.0)" fill="url(#gk)" opacity="0.181"/>
<ellipse cx="486.7" cy="197.4" rx="26.4" ry="7.1" transform="rotate(2 486.7 197.4)" fill="url(#gk)" opacity="0.459"/>
<ellipse cx="227.9" cy="400.0" rx="26.4" ry="7.1" transform="rotate(2 227.9 400.0)" fill="url(#gk)" opacity="0.459"/>
<ellipse cx="408.8" cy="146.9" rx="23.6" ry="7.3" transform="rotate(8 408.8 146.9)" fill="url(#gk)" opacity="0.274"/>
<ellipse cx="305.8" cy="450.5" rx="23.6" ry="7.3" transform="rotate(8 305.8 450.5)" fill="url(#gk)" opacity="0.274"/>
<ellipse cx="302.2" cy="189.9" rx="31.4" ry="8.6" transform="rotate(33 302.2 189.9)" fill="url(#gw)" opacity="0.029"/>
<ellipse cx="412.4" cy="407.5" rx="31.4" ry="8.6" transform="rotate(33 412.4 407.5)" fill="url(#gw)" opacity="0.029"/>
<ellipse cx="200.6" cy="128.4" rx="16.4" ry="7.7" transform="rotate(46 200.6 128.4)" fill="url(#gk)" opacity="0.208"/>
<ellipse cx="514.0" cy="469.0" rx="16.4" ry="7.7" transform="rotate(46 514.0 469.0)" fill="url(#gk)" opacity="0.208"/>
<ellipse cx="562.7" cy="133.3" rx="35.4" ry="6.4" transform="rotate(61 562.7 133.3)" fill="url(#gw)" opacity="0.047"/>
<ellipse cx="151.9" cy="464.1" rx="35.4" ry="6.4" transform="rotate(61 151.9 464.1)" fill="url(#gw)" opacity="0.047"/>
<ellipse cx="115.3" cy="65.6" rx="26.2" ry="7.4" transform="rotate(23 115.3 65.6)" fill="url(#gk)" opacity="0.428"/>
<ellipse cx="599.3" cy="531.8" rx="26.2" ry="7.4" transform="rotate(23 599.3 531.8)" fill="url(#gk)" opacity="0.428"/>
<ellipse cx="374.9" cy="298.3" rx="29.0" ry="7.0" transform="rotate(-3 374.9 298.3)" fill="url(#gw)" opacity="0.035"/>
<ellipse cx="339.7" cy="299.1" rx="29.0" ry="7.0" transform="rotate(-3 339.7 299.1)" fill="url(#gw)" opacity="0.035"/>
<ellipse cx="282.7" cy="286.0" rx="28.8" ry="7.5" transform="rotate(39 282.7 286.0)" fill="url(#gw)" opacity="0.026"/>
<ellipse cx="431.9" cy="311.4" rx="28.8" ry="7.5" transform="rotate(39 431.9 311.4)" fill="url(#gw)" opacity="0.026"/>
<ellipse cx="307.2" cy="191.4" rx="35.6" ry="7.4" transform="rotate(20 307.2 191.4)" fill="url(#gw)" opacity="0.036"/>
<ellipse cx="407.4" cy="406.0" rx="35.6" ry="7.4" transform="rotate(20 407.4 406.0)" fill="url(#gw)" opacity="0.036"/>
<ellipse cx="600.1" cy="138.0" rx="25.4" ry="8.5" transform="rotate(52 600.1 138.0)" fill="url(#gw)" opacity="0.024"/>
<ellipse cx="114.5" cy="459.4" rx="25.4" ry="8.5" transform="rotate(52 114.5 459.4)" fill="url(#gw)" opacity="0.024"/>
<ellipse cx="591.4" cy="256.1" rx="33.9" ry="8.1" transform="rotate(56 591.4 256.1)" fill="url(#gk)" opacity="0.497"/>
<ellipse cx="123.2" cy="341.3" rx="33.9" ry="8.1" transform="rotate(56 123.2 341.3)" fill="url(#gk)" opacity="0.497"/>
<ellipse cx="547.0" cy="157.0" rx="16.7" ry="6.7" transform="rotate(46 547.0 157.0)" fill="url(#gk)" opacity="0.342"/>
<ellipse cx="167.6" cy="440.4" rx="16.7" ry="6.7" transform="rotate(46 167.6 440.4)" fill="url(#gk)" opacity="0.342"/>
<ellipse cx="202.5" cy="98.6" rx="21.3" ry="9.1" transform="rotate(30 202.5 98.6)" fill="url(#gk)" opacity="0.194"/>
<ellipse cx="512.1" cy="498.8" rx="21.3" ry="9.1" transform="rotate(30 512.1 498.8)" fill="url(#gk)" opacity="0.194"/>
<ellipse cx="312.4" cy="246.7" rx="20.2" ry="8.1" transform="rotate(29 312.4 246.7)" fill="url(#gw)" opacity="0.024"/>
<ellipse cx="402.2" cy="350.7" rx="20.2" ry="8.1" transform="rotate(29 402.2 350.7)" fill="url(#gw)" opacity="0.024"/>
<ellipse cx="524.3" cy="197.4" rx="24.6" ry="7.6" transform="rotate(35 524.3 197.4)" fill="url(#gw)" opacity="0.037"/>
<ellipse cx="190.3" cy="400.0" rx="24.6" ry="7.6" transform="rotate(35 190.3 400.0)" fill="url(#gw)" opacity="0.037"/>
<ellipse cx="371.5" cy="298.0" rx="26.4" ry="7.1" transform="rotate(3 371.5 298.0)" fill="url(#gw)" opacity="0.018"/>
<ellipse cx="343.1" cy="299.4" rx="26.4" ry="7.1" transform="rotate(3 343.1 299.4)" fill="url(#gw)" opacity="0.018"/>
<ellipse cx="483.7" cy="80.1" rx="25.2" ry="8.5" transform="rotate(29 483.7 80.1)" fill="url(#gk)" opacity="0.438"/>
<ellipse cx="230.9" cy="517.3" rx="25.2" ry="8.5" transform="rotate(29 230.9 517.3)" fill="url(#gk)" opacity="0.438"/>
<ellipse cx="140.6" cy="57.1" rx="31.0" ry="6.8" transform="rotate(44 140.6 57.1)" fill="url(#gk)" opacity="0.293"/>
<ellipse cx="574.0" cy="540.3" rx="31.0" ry="6.8" transform="rotate(44 574.0 540.3)" fill="url(#gk)" opacity="0.293"/>
<ellipse cx="193.4" cy="119.2" rx="26.6" ry="6.9" transform="rotate(59 193.4 119.2)" fill="url(#gw)" opacity="0.027"/>
<ellipse cx="521.2" cy="478.2" rx="26.6" ry="6.9" transform="rotate(59 521.2 478.2)" fill="url(#gw)" opacity="0.027"/>
<ellipse cx="136.9" cy="271.9" rx="26.6" ry="9.0" transform="rotate(54 136.9 271.9)" fill="url(#gw)" opacity="0.036"/>
<ellipse cx="577.7" cy="325.5" rx="26.6" ry="9.0" transform="rotate(54 577.7 325.5)" fill="url(#gw)" opacity="0.036"/>
<ellipse cx="232.7" cy="64.8" rx="20.4" ry="8.8" transform="rotate(60 232.7 64.8)" fill="url(#gk)" opacity="0.277"/>
<ellipse cx="481.9" cy="532.6" rx="20.4" ry="8.8" transform="rotate(60 481.9 532.6)" fill="url(#gk)" opacity="0.277"/>
<ellipse cx="406.5" cy="288.9" rx="24.6" ry="8.9" transform="rotate(1 406.5 288.9)" fill="url(#gw)" opacity="0.027"/>
<ellipse cx="308.1" cy="308.5" rx="24.6" ry="8.9" transform="rotate(1 308.1 308.5)" fill="url(#gw)" opacity="0.027"/>
<ellipse cx="463.5" cy="108.2" rx="24.3" ry="8.4" transform="rotate(10 463.5 108.2)" fill="url(#gw)" opacity="0.019"/>
<ellipse cx="251.1" cy="489.2" rx="24.3" ry="8.4" transform="rotate(10 251.1 489.2)" fill="url(#gw)" opacity="0.019"/>
<ellipse cx="286.3" cy="99.6" rx="35.7" ry="6.7" transform="rotate(61 286.3 99.6)" fill="url(#gk)" opacity="0.217"/>
<ellipse cx="428.3" cy="497.8" rx="35.7" ry="6.7" transform="rotate(61 428.3 497.8)" fill="url(#gk)" opacity="0.217"/>
<ellipse cx="372.6" cy="148.4" rx="15.9" ry="8.5" transform="rotate(5 372.6 148.4)" fill="url(#gw)" opacity="0.021"/>
<ellipse cx="342.0" cy="449.0" rx="15.9" ry="8.5" transform="rotate(5 342.0 449.0)" fill="url(#gw)" opacity="0.021"/>
<ellipse cx="204.1" cy="123.4" rx="18.5" ry="5.8" transform="rotate(42 204.1 123.4)" fill="url(#gk)" opacity="0.289"/>
<ellipse cx="510.5" cy="474.0" rx="18.5" ry="5.8" transform="rotate(42 510.5 474.0)" fill="url(#gk)" opacity="0.289"/>
<ellipse cx="186.7" cy="226.7" rx="32.5" ry="6.2" transform="rotate(47 186.7 226.7)" fill="url(#gw)" opacity="0.044"/>
<ellipse cx="527.9" cy="370.7" rx="32.5" ry="6.2" transform="rotate(47 527.9 370.7)" fill="url(#gw)" opacity="0.044"/>
<ellipse cx="506.0" cy="93.0" rx="21.3" ry="8.2" transform="rotate(36 506.0 93.0)" fill="url(#gw)" opacity="0.048"/>
<ellipse cx="208.6" cy="504.4" rx="21.3" ry="8.2" transform="rotate(36 208.6 504.4)" fill="url(#gw)" opacity="0.048"/>
<ellipse cx="212.4" cy="286.7" rx="23.6" ry="6.2" transform="rotate(32 212.4 286.7)" fill="url(#gk)" opacity="0.263"/>
<ellipse cx="502.2" cy="310.7" rx="23.6" ry="6.2" transform="rotate(32 502.2 310.7)" fill="url(#gk)" opacity="0.263"/>
<ellipse cx="552.6" cy="197.8" rx="21.6" ry="6.6" transform="rotate(48 552.6 197.8)" fill="url(#gk)" opacity="0.248"/>
<ellipse cx="162.0" cy="399.6" rx="21.6" ry="6.6" transform="rotate(48 162.0 399.6)" fill="url(#gk)" opacity="0.248"/>
<ellipse cx="539.2" cy="84.0" rx="19.3" ry="8.3" transform="rotate(32 539.2 84.0)" fill="url(#gw)" opacity="0.037"/>
<ellipse cx="175.4" cy="513.4" rx="19.3" ry="8.3" transform="rotate(32 175.4 513.4)" fill="url(#gw)" opacity="0.037"/>
<ellipse cx="389.3" cy="130.1" rx="22.1" ry="6.0" transform="rotate(7 389.3 130.1)" fill="url(#gw)" opacity="0.044"/>
<ellipse cx="325.3" cy="467.3" rx="22.1" ry="6.0" transform="rotate(7 325.3 467.3)" fill="url(#gw)" opacity="0.044"/>
<ellipse cx="268.0" cy="216.2" rx="21.5" ry="7.4" transform="rotate(51 268.0 216.2)" fill="url(#gw)" opacity="0.015"/>
<ellipse cx="446.6" cy="381.2" rx="21.5" ry="7.4" transform="rotate(51 446.6 381.2)" fill="url(#gw)" opacity="0.015"/>
<ellipse cx="263.1" cy="109.4" rx="16.0" ry="8.1" transform="rotate(49 263.1 109.4)" fill="url(#gw)" opacity="0.027"/>
<ellipse cx="451.5" cy="488.0" rx="16.0" ry="8.1" transform="rotate(49 451.5 488.0)" fill="url(#gw)" opacity="0.027"/>
<ellipse cx="557.2" cy="243.6" rx="16.1" ry="6.7" transform="rotate(63 557.2 243.6)" fill="url(#gw)" opacity="0.038"/>
<ellipse cx="157.4" cy="353.8" rx="16.1" ry="6.7" transform="rotate(63 157.4 353.8)" fill="url(#gw)" opacity="0.038"/>
<ellipse cx="436.5" cy="140.0" rx="22.7" ry="7.9" transform="rotate(-4 436.5 140.0)" fill="url(#gk)" opacity="0.259"/>
<ellipse cx="278.1" cy="457.4" rx="22.7" ry="7.9" transform="rotate(-4 278.1 457.4)" fill="url(#gk)" opacity="0.259"/>
<ellipse cx="526.6" cy="140.2" rx="15.7" ry="8.8" transform="rotate(35 526.6 140.2)" fill="url(#gk)" opacity="0.408"/>
<ellipse cx="188.0" cy="457.2" rx="15.7" ry="8.8" transform="rotate(35 188.0 457.2)" fill="url(#gk)" opacity="0.408"/>
<ellipse cx="129.9" cy="63.8" rx="16.8" ry="6.4" transform="rotate(35 129.9 63.8)" fill="url(#gw)" opacity="0.026"/>
<ellipse cx="584.7" cy="533.6" rx="16.8" ry="6.4" transform="rotate(35 584.7 533.6)" fill="url(#gw)" opacity="0.026"/>
<ellipse cx="129.3" cy="130.1" rx="32.6" ry="7.6" transform="rotate(36 129.3 130.1)" fill="url(#gk)" opacity="0.262"/>
<ellipse cx="585.3" cy="467.3" rx="32.6" ry="7.6" transform="rotate(36 585.3 467.3)" fill="url(#gk)" opacity="0.262"/>
<ellipse cx="324.0" cy="221.5" rx="21.2" ry="5.7" transform="rotate(35 324.0 221.5)" fill="url(#gk)" opacity="0.428"/>
<ellipse cx="390.6" cy="375.9" rx="21.2" ry="5.7" transform="rotate(35 390.6 375.9)" fill="url(#gk)" opacity="0.428"/>
<ellipse cx="250.9" cy="64.5" rx="14.1" ry="6.5" transform="rotate(49 250.9 64.5)" fill="url(#gw)" opacity="0.042"/>
<ellipse cx="463.7" cy="532.9" rx="14.1" ry="6.5" transform="rotate(49 463.7 532.9)" fill="url(#gw)" opacity="0.042"/>
<ellipse cx="213.4" cy="277.8" rx="30.5" ry="6.0" transform="rotate(28 213.4 277.8)" fill="url(#gk)" opacity="0.306"/>
<ellipse cx="501.2" cy="319.6" rx="30.5" ry="6.0" transform="rotate(28 501.2 319.6)" fill="url(#gk)" opacity="0.306"/>
<ellipse cx="477.8" cy="256.8" rx="35.1" ry="7.2" transform="rotate(21 477.8 256.8)" fill="url(#gk)" opacity="0.401"/>
<ellipse cx="236.8" cy="340.6" rx="35.1" ry="7.2" transform="rotate(21 236.8 340.6)" fill="url(#gk)" opacity="0.401"/>
<ellipse cx="473.4" cy="257.1" rx="27.7" ry="7.3" transform="rotate(24 473.4 257.1)" fill="url(#gw)" opacity="0.039"/>
<ellipse cx="241.2" cy="340.3" rx="27.7" ry="7.3" transform="rotate(24 241.2 340.3)" fill="url(#gw)" opacity="0.039"/>
<ellipse cx="320.7" cy="179.3" rx="30.8" ry="5.9" transform="rotate(45 320.7 179.3)" fill="url(#gk)" opacity="0.438"/>
<ellipse cx="393.9" cy="418.1" rx="30.8" ry="5.9" transform="rotate(45 393.9 418.1)" fill="url(#gk)" opacity="0.438"/>
<ellipse cx="238.5" cy="187.7" rx="35.7" ry="7.9" transform="rotate(37 238.5 187.7)" fill="url(#gk)" opacity="0.260"/>
<ellipse cx="476.1" cy="409.7" rx="35.7" ry="7.9" transform="rotate(37 476.1 409.7)" fill="url(#gk)" opacity="0.260"/>
<ellipse cx="139.2" cy="141.6" rx="20.3" ry="6.2" transform="rotate(34 139.2 141.6)" fill="url(#gk)" opacity="0.395"/>
<ellipse cx="575.4" cy="455.8" rx="20.3" ry="6.2" transform="rotate(34 575.4 455.8)" fill="url(#gk)" opacity="0.395"/>
<ellipse cx="227.0" cy="113.1" rx="25.1" ry="7.2" transform="rotate(44 227.0 113.1)" fill="url(#gk)" opacity="0.292"/>
<ellipse cx="487.6" cy="484.3" rx="25.1" ry="7.2" transform="rotate(44 487.6 484.3)" fill="url(#gk)" opacity="0.292"/>
<ellipse cx="257.3" cy="270.5" rx="20.8" ry="8.5" transform="rotate(49 257.3 270.5)" fill="url(#gk)" opacity="0.423"/>
<ellipse cx="457.3" cy="326.9" rx="20.8" ry="8.5" transform="rotate(49 457.3 326.9)" fill="url(#gk)" opacity="0.423"/>
<ellipse cx="193.3" cy="217.1" rx="27.0" ry="7.3" transform="rotate(51 193.3 217.1)" fill="url(#gk)" opacity="0.446"/>
<ellipse cx="521.3" cy="380.3" rx="27.0" ry="7.3" transform="rotate(51 521.3 380.3)" fill="url(#gk)" opacity="0.446"/>
<ellipse cx="166.3" cy="124.8" rx="14.4" ry="6.7" transform="rotate(35 166.3 124.8)" fill="url(#gw)" opacity="0.039"/>
<ellipse cx="548.3" cy="472.6" rx="14.4" ry="6.7" transform="rotate(35 548.3 472.6)" fill="url(#gw)" opacity="0.039"/>
<ellipse cx="330.4" cy="81.6" rx="20.6" ry="7.3" transform="rotate(46 330.4 81.6)" fill="url(#gw)" opacity="0.018"/>
<ellipse cx="384.2" cy="515.8" rx="20.6" ry="7.3" transform="rotate(46 384.2 515.8)" fill="url(#gw)" opacity="0.018"/>
<ellipse cx="145.3" cy="56.6" rx="15.0" ry="8.1" transform="rotate(58 145.3 56.6)" fill="url(#gk)" opacity="0.360"/>
<ellipse cx="569.3" cy="540.8" rx="15.0" ry="8.1" transform="rotate(58 569.3 540.8)" fill="url(#gk)" opacity="0.360"/>
<ellipse cx="163.5" cy="173.6" rx="23.2" ry="6.4" transform="rotate(39 163.5 173.6)" fill="url(#gk)" opacity="0.183"/>
<ellipse cx="551.1" cy="423.8" rx="23.2" ry="6.4" transform="rotate(39 551.1 423.8)" fill="url(#gk)" opacity="0.183"/>
<ellipse cx="562.4" cy="211.7" rx="28.3" ry="6.6" transform="rotate(37 562.4 211.7)" fill="url(#gw)" opacity="0.017"/>
<ellipse cx="152.2" cy="385.7" rx="28.3" ry="6.6" transform="rotate(37 152.2 385.7)" fill="url(#gw)" opacity="0.017"/>
<ellipse cx="123.6" cy="243.5" rx="32.6" ry="6.7" transform="rotate(21 123.6 243.5)" fill="url(#gw)" opacity="0.036"/>
<ellipse cx="591.0" cy="353.9" rx="32.6" ry="6.7" transform="rotate(21 591.0 353.9)" fill="url(#gw)" opacity="0.036"/>
<ellipse cx="526.1" cy="280.8" rx="32.4" ry="8.2" transform="rotate(47 526.1 280.8)" fill="url(#gw)" opacity="0.019"/>
<ellipse cx="188.5" cy="316.6" rx="32.4" ry="8.2" transform="rotate(47 188.5 316.6)" fill="url(#gw)" opacity="0.019"/>
<ellipse cx="516.1" cy="132.3" rx="21.6" ry="7.6" transform="rotate(49 516.1 132.3)" fill="url(#gw)" opacity="0.044"/>
<ellipse cx="198.5" cy="465.1" rx="21.6" ry="7.6" transform="rotate(49 198.5 465.1)" fill="url(#gw)" opacity="0.044"/>
<ellipse cx="227.8" cy="64.1" rx="32.2" ry="8.1" transform="rotate(26 227.8 64.1)" fill="url(#gk)" opacity="0.482"/>
<ellipse cx="486.8" cy="533.3" rx="32.2" ry="8.1" transform="rotate(26 486.8 533.3)" fill="url(#gk)" opacity="0.482"/>
<ellipse cx="353.2" cy="176.2" rx="16.7" ry="6.7" transform="rotate(34 353.2 176.2)" fill="url(#gk)" opacity="0.206"/>
<ellipse cx="361.4" cy="421.2" rx="16.7" ry="6.7" transform="rotate(34 361.4 421.2)" fill="url(#gk)" opacity="0.206"/>
<ellipse cx="448.5" cy="94.0" rx="15.1" ry="5.9" transform="rotate(-10 448.5 94.0)" fill="url(#gw)" opacity="0.019"/>
<ellipse cx="266.1" cy="503.4" rx="15.1" ry="5.9" transform="rotate(-10 266.1 503.4)" fill="url(#gw)" opacity="0.019"/>
<ellipse cx="465.7" cy="54.7" rx="32.7" ry="8.6" transform="rotate(26 465.7 54.7)" fill="url(#gk)" opacity="0.316"/>
<ellipse cx="248.9" cy="542.7" rx="32.7" ry="8.6" transform="rotate(26 248.9 542.7)" fill="url(#gk)" opacity="0.316"/>
<ellipse cx="249.4" cy="215.9" rx="20.9" ry="7.2" transform="rotate(29 249.4 215.9)" fill="url(#gk)" opacity="0.444"/>
<ellipse cx="465.2" cy="381.5" rx="20.9" ry="7.2" transform="rotate(29 465.2 381.5)" fill="url(#gk)" opacity="0.444"/>
<ellipse cx="554.8" cy="94.2" rx="19.9" ry="7.2" transform="rotate(48 554.8 94.2)" fill="url(#gk)" opacity="0.291"/>
<ellipse cx="159.8" cy="503.2" rx="19.9" ry="7.2" transform="rotate(48 159.8 503.2)" fill="url(#gk)" opacity="0.291"/>
<ellipse cx="206.1" cy="74.8" rx="35.7" ry="8.8" transform="rotate(35 206.1 74.8)" fill="url(#gk)" opacity="0.492"/>
<ellipse cx="508.5" cy="522.6" rx="35.7" ry="8.8" transform="rotate(35 508.5 522.6)" fill="url(#gk)" opacity="0.492"/>
<ellipse cx="583.2" cy="205.7" rx="32.0" ry="5.9" transform="rotate(68 583.2 205.7)" fill="url(#gk)" opacity="0.375"/>
<ellipse cx="131.4" cy="391.7" rx="32.0" ry="5.9" transform="rotate(68 131.4 391.7)" fill="url(#gk)" opacity="0.375"/>
<ellipse cx="256.1" cy="193.8" rx="28.1" ry="6.7" transform="rotate(52 256.1 193.8)" fill="url(#gw)" opacity="0.046"/>
<ellipse cx="458.5" cy="403.6" rx="28.1" ry="6.7" transform="rotate(52 458.5 403.6)" fill="url(#gw)" opacity="0.046"/>
<ellipse cx="123.7" cy="100.2" rx="28.9" ry="7.2" transform="rotate(36 123.7 100.2)" fill="url(#gw)" opacity="0.037"/>
<ellipse cx="590.9" cy="497.2" rx="28.9" ry="7.2" transform="rotate(36 590.9 497.2)" fill="url(#gw)" opacity="0.037"/>
<ellipse cx="293.0" cy="196.1" rx="26.2" ry="7.1" transform="rotate(28 293.0 196.1)" fill="url(#gw)" opacity="0.019"/>
<ellipse cx="421.6" cy="401.3" rx="26.2" ry="7.1" transform="rotate(28 421.6 401.3)" fill="url(#gw)" opacity="0.019"/>
<ellipse cx="547.9" cy="188.1" rx="15.6" ry="8.6" transform="rotate(52 547.9 188.1)" fill="url(#gw)" opacity="0.016"/>
<ellipse cx="166.7" cy="409.3" rx="15.6" ry="8.6" transform="rotate(52 166.7 409.3)" fill="url(#gw)" opacity="0.016"/>
<ellipse cx="371.1" cy="115.6" rx="18.3" ry="7.7" transform="rotate(-3 371.1 115.6)" fill="url(#gw)" opacity="0.032"/>
<ellipse cx="343.5" cy="481.8" rx="18.3" ry="7.7" transform="rotate(-3 343.5 481.8)" fill="url(#gw)" opacity="0.032"/>
<ellipse cx="399.5" cy="73.6" rx="22.5" ry="6.0" transform="rotate(9 399.5 73.6)" fill="url(#gw)" opacity="0.045"/>
<ellipse cx="315.1" cy="523.8" rx="22.5" ry="6.0" transform="rotate(9 315.1 523.8)" fill="url(#gw)" opacity="0.045"/>
<ellipse cx="380.9" cy="228.9" rx="36.2" ry="8.2" transform="rotate(8 380.9 228.9)" fill="url(#gw)" opacity="0.044"/>
<ellipse cx="333.7" cy="368.5" rx="36.2" ry="8.2" transform="rotate(8 333.7 368.5)" fill="url(#gw)" opacity="0.044"/>
<ellipse cx="302.8" cy="95.9" rx="35.5" ry="7.6" transform="rotate(35 302.8 95.9)" fill="url(#gk)" opacity="0.224"/>
<ellipse cx="411.8" cy="501.5" rx="35.5" ry="7.6" transform="rotate(35 411.8 501.5)" fill="url(#gk)" opacity="0.224"/>
<ellipse cx="491.9" cy="68.1" rx="13.4" ry="7.7" transform="rotate(28 491.9 68.1)" fill="url(#gw)" opacity="0.023"/>
<ellipse cx="222.7" cy="529.3" rx="13.4" ry="7.7" transform="rotate(28 222.7 529.3)" fill="url(#gw)" opacity="0.023"/>
<ellipse cx="458.1" cy="158.2" rx="33.8" ry="7.8" transform="rotate(24 458.1 158.2)" fill="url(#gk)" opacity="0.360"/>
<ellipse cx="256.5" cy="439.2" rx="33.8" ry="7.8" transform="rotate(24 256.5 439.2)" fill="url(#gk)" opacity="0.360"/>
<ellipse cx="561.4" cy="267.1" rx="21.0" ry="8.3" transform="rotate(58 561.4 267.1)" fill="url(#gk)" opacity="0.444"/>
<ellipse cx="153.2" cy="330.3" rx="21.0" ry="8.3" transform="rotate(58 153.2 330.3)" fill="url(#gk)" opacity="0.444"/>
<ellipse cx="170.4" cy="145.3" rx="30.3" ry="8.9" transform="rotate(56 170.4 145.3)" fill="url(#gk)" opacity="0.194"/>
<ellipse cx="544.2" cy="452.1" rx="30.3" ry="8.9" transform="rotate(56 544.2 452.1)" fill="url(#gk)" opacity="0.194"/>
<ellipse cx="407.1" cy="78.4" rx="15.6" ry="8.8" transform="rotate(-7 407.1 78.4)" fill="url(#gk)" opacity="0.261"/>
<ellipse cx="307.5" cy="519.0" rx="15.6" ry="8.8" transform="rotate(-7 307.5 519.0)" fill="url(#gk)" opacity="0.261"/>
<ellipse cx="205.0" cy="163.3" rx="32.6" ry="7.7" transform="rotate(34 205.0 163.3)" fill="url(#gw)" opacity="0.013"/>
<ellipse cx="509.6" cy="434.1" rx="32.6" ry="7.7" transform="rotate(34 509.6 434.1)" fill="url(#gw)" opacity="0.013"/>
<ellipse cx="164.3" cy="249.9" rx="19.8" ry="8.0" transform="rotate(46 164.3 249.9)" fill="url(#gw)" opacity="0.017"/>
<ellipse cx="550.3" cy="347.5" rx="19.8" ry="8.0" transform="rotate(46 550.3 347.5)" fill="url(#gw)" opacity="0.017"/>
<ellipse cx="540.7" cy="185.8" rx="29.1" ry="8.5" transform="rotate(54 540.7 185.8)" fill="url(#gk)" opacity="0.184"/>
<ellipse cx="173.9" cy="411.6" rx="29.1" ry="8.5" transform="rotate(54 173.9 411.6)" fill="url(#gk)" opacity="0.184"/>
<ellipse cx="278.4" cy="90.9" rx="31.7" ry="5.8" transform="rotate(18 278.4 90.9)" fill="url(#gw)" opacity="0.043"/>
<ellipse cx="436.2" cy="506.5" rx="31.7" ry="5.8" transform="rotate(18 436.2 506.5)" fill="url(#gw)" opacity="0.043"/>
<ellipse cx="444.3" cy="150.1" rx="24.1" ry="6.3" transform="rotate(10 444.3 150.1)" fill="url(#gk)" opacity="0.306"/>
<ellipse cx="270.3" cy="447.3" rx="24.1" ry="6.3" transform="rotate(10 270.3 447.3)" fill="url(#gk)" opacity="0.306"/>
<ellipse cx="539.5" cy="203.5" rx="18.1" ry="8.7" transform="rotate(51 539.5 203.5)" fill="url(#gk)" opacity="0.194"/>
<ellipse cx="175.1" cy="393.9" rx="18.1" ry="8.7" transform="rotate(51 175.1 393.9)" fill="url(#gk)" opacity="0.194"/>
<ellipse cx="193.5" cy="142.3" rx="23.9" ry="7.7" transform="rotate(45 193.5 142.3)" fill="url(#gw)" opacity="0.025"/>
<ellipse cx="521.1" cy="455.1" rx="23.9" ry="7.7" transform="rotate(45 521.1 455.1)" fill="url(#gw)" opacity="0.025"/>
<ellipse cx="112.9" cy="195.7" rx="23.8" ry="9.1" transform="rotate(39 112.9 195.7)" fill="url(#gw)" opacity="0.018"/>
<ellipse cx="601.7" cy="401.7" rx="23.8" ry="9.1" transform="rotate(39 601.7 401.7)" fill="url(#gw)" opacity="0.018"/>
<ellipse cx="440.1" cy="120.7" rx="19.4" ry="7.4" transform="rotate(11 440.1 120.7)" fill="url(#gw)" opacity="0.034"/>
<ellipse cx="274.5" cy="476.7" rx="19.4" ry="7.4" transform="rotate(11 274.5 476.7)" fill="url(#gw)" opacity="0.034"/>
<ellipse cx="369.8" cy="288.2" rx="26.1" ry="8.3" transform="rotate(10 369.8 288.2)" fill="url(#gk)" opacity="0.428"/>
<ellipse cx="344.8" cy="309.2" rx="26.1" ry="8.3" transform="rotate(10 344.8 309.2)" fill="url(#gk)" opacity="0.428"/>
<ellipse cx="421.5" cy="209.3" rx="21.5" ry="6.7" transform="rotate(8 421.5 209.3)" fill="url(#gk)" opacity="0.459"/>
<ellipse cx="293.1" cy="388.1" rx="21.5" ry="6.7" transform="rotate(8 293.1 388.1)" fill="url(#gk)" opacity="0.459"/>
<ellipse cx="571.8" cy="220.7" rx="30.3" ry="7.4" transform="rotate(50 571.8 220.7)" fill="url(#gk)" opacity="0.292"/>
<ellipse cx="142.8" cy="376.7" rx="30.3" ry="7.4" transform="rotate(50 142.8 376.7)" fill="url(#gk)" opacity="0.292"/>
<ellipse cx="381.0" cy="153.3" rx="14.4" ry="6.9" transform="rotate(22 381.0 153.3)" fill="url(#gw)" opacity="0.050"/>
<ellipse cx="333.6" cy="444.1" rx="14.4" ry="6.9" transform="rotate(22 333.6 444.1)" fill="url(#gw)" opacity="0.050"/>
<ellipse cx="346.9" cy="143.9" rx="21.2" ry="6.2" transform="rotate(40 346.9 143.9)" fill="url(#gw)" opacity="0.045"/>
<ellipse cx="367.7" cy="453.5" rx="21.2" ry="6.2" transform="rotate(40 367.7 453.5)" fill="url(#gw)" opacity="0.045"/>
<ellipse cx="332.9" cy="163.0" rx="26.3" ry="6.7" transform="rotate(48 332.9 163.0)" fill="url(#gw)" opacity="0.015"/>
<ellipse cx="381.7" cy="434.4" rx="26.3" ry="6.7" transform="rotate(48 381.7 434.4)" fill="url(#gw)" opacity="0.015"/>
<ellipse cx="258.3" cy="129.5" rx="34.9" ry="6.9" transform="rotate(38 258.3 129.5)" fill="url(#gk)" opacity="0.367"/>
<ellipse cx="456.3" cy="467.9" rx="34.9" ry="6.9" transform="rotate(38 456.3 467.9)" fill="url(#gk)" opacity="0.367"/>
<ellipse cx="149.4" cy="97.7" rx="26.6" ry="9.1" transform="rotate(26 149.4 97.7)" fill="url(#gw)" opacity="0.041"/>
<ellipse cx="565.2" cy="499.7" rx="26.6" ry="9.1" transform="rotate(26 565.2 499.7)" fill="url(#gw)" opacity="0.041"/>
<ellipse cx="320.7" cy="266.5" rx="34.0" ry="6.7" transform="rotate(52 320.7 266.5)" fill="url(#gw)" opacity="0.013"/>
<ellipse cx="393.9" cy="330.9" rx="34.0" ry="6.7" transform="rotate(52 393.9 330.9)" fill="url(#gw)" opacity="0.013"/>
<ellipse cx="191.0" cy="119.6" rx="29.5" ry="6.5" transform="rotate(45 191.0 119.6)" fill="url(#gw)" opacity="0.020"/>
<ellipse cx="523.6" cy="477.8" rx="29.5" ry="6.5" transform="rotate(45 523.6 477.8)" fill="url(#gw)" opacity="0.020"/>
<ellipse cx="406.6" cy="265.4" rx="30.2" ry="9.0" transform="rotate(4 406.6 265.4)" fill="url(#gk)" opacity="0.205"/>
<ellipse cx="308.0" cy="332.0" rx="30.2" ry="9.0" transform="rotate(4 308.0 332.0)" fill="url(#gk)" opacity="0.205"/>
<ellipse cx="508.3" cy="268.2" rx="21.0" ry="6.2" transform="rotate(28 508.3 268.2)" fill="url(#gw)" opacity="0.032"/>
<ellipse cx="206.3" cy="329.2" rx="21.0" ry="6.2" transform="rotate(28 206.3 329.2)" fill="url(#gw)" opacity="0.032"/>
<ellipse cx="540.7" cy="210.6" rx="20.6" ry="8.3" transform="rotate(49 540.7 210.6)" fill="url(#gk)" opacity="0.310"/>
<ellipse cx="173.9" cy="386.8" rx="20.6" ry="8.3" transform="rotate(49 173.9 386.8)" fill="url(#gk)" opacity="0.310"/>
<ellipse cx="444.1" cy="136.7" rx="14.3" ry="7.1" transform="rotate(7 444.1 136.7)" fill="url(#gw)" opacity="0.036"/>
<ellipse cx="270.5" cy="460.7" rx="14.3" ry="7.1" transform="rotate(7 270.5 460.7)" fill="url(#gw)" opacity="0.036"/>
<ellipse cx="274.6" cy="175.0" rx="23.8" ry="5.8" transform="rotate(33 274.6 175.0)" fill="url(#gk)" opacity="0.361"/>
<ellipse cx="440.0" cy="422.4" rx="23.8" ry="5.8" transform="rotate(33 440.0 422.4)" fill="url(#gk)" opacity="0.361"/>
<ellipse cx="595.9" cy="67.7" rx="27.4" ry="8.2" transform="rotate(56 595.9 67.7)" fill="url(#gw)" opacity="0.016"/>
<ellipse cx="118.7" cy="529.7" rx="27.4" ry="8.2" transform="rotate(56 118.7 529.7)" fill="url(#gw)" opacity="0.016"/>
<ellipse cx="186.8" cy="88.9" rx="32.0" ry="7.2" transform="rotate(41 186.8 88.9)" fill="url(#gk)" opacity="0.368"/>
<ellipse cx="527.8" cy="508.5" rx="32.0" ry="7.2" transform="rotate(41 527.8 508.5)" fill="url(#gk)" opacity="0.368"/>
<ellipse cx="383.1" cy="214.9" rx="27.1" ry="6.8" transform="rotate(4 383.1 214.9)" fill="url(#gk)" opacity="0.263"/>
<ellipse cx="331.5" cy="382.5" rx="27.1" ry="6.8" transform="rotate(4 331.5 382.5)" fill="url(#gk)" opacity="0.263"/>
<ellipse cx="460.0" cy="240.8" rx="31.1" ry="9.0" transform="rotate(17 460.0 240.8)" fill="url(#gw)" opacity="0.023"/>
<ellipse cx="254.6" cy="356.6" rx="31.1" ry="9.0" transform="rotate(17 254.6 356.6)" fill="url(#gw)" opacity="0.023"/>
<ellipse cx="367.5" cy="284.2" rx="16.1" ry="5.8" transform="rotate(0 367.5 284.2)" fill="url(#gw)" opacity="0.037"/>
<ellipse cx="347.1" cy="313.2" rx="16.1" ry="5.8" transform="rotate(0 347.1 313.2)" fill="url(#gw)" opacity="0.037"/>
<ellipse cx="490.9" cy="142.7" rx="30.7" ry="6.0" transform="rotate(33 490.9 142.7)" fill="url(#gw)" opacity="0.017"/>
<ellipse cx="223.7" cy="454.7" rx="30.7" ry="6.0" transform="rotate(33 223.7 454.7)" fill="url(#gw)" opacity="0.017"/>
<ellipse cx="139.6" cy="176.8" rx="26.0" ry="6.3" transform="rotate(39 139.6 176.8)" fill="url(#gk)" opacity="0.297"/>
<ellipse cx="575.0" cy="420.6" rx="26.0" ry="6.3" transform="rotate(39 575.0 420.6)" fill="url(#gk)" opacity="0.297"/>
<ellipse cx="183.5" cy="97.4" rx="16.8" ry="5.8" transform="rotate(38 183.5 97.4)" fill="url(#gk)" opacity="0.258"/>
<ellipse cx="531.1" cy="500.0" rx="16.8" ry="5.8" transform="rotate(38 531.1 500.0)" fill="url(#gk)" opacity="0.258"/>
<ellipse cx="593.3" cy="176.1" rx="27.9" ry="6.9" transform="rotate(40 593.3 176.1)" fill="url(#gk)" opacity="0.327"/>
<ellipse cx="121.3" cy="421.3" rx="27.9" ry="6.9" transform="rotate(40 121.3 421.3)" fill="url(#gk)" opacity="0.327"/>
<ellipse cx="269.3" cy="275.1" rx="14.5" ry="7.9" transform="rotate(54 269.3 275.1)" fill="url(#gw)" opacity="0.045"/>
<ellipse cx="445.3" cy="322.3" rx="14.5" ry="7.9" transform="rotate(54 445.3 322.3)" fill="url(#gw)" opacity="0.045"/>
<ellipse cx="139.5" cy="192.1" rx="22.6" ry="8.8" transform="rotate(51 139.5 192.1)" fill="url(#gk)" opacity="0.381"/>
<ellipse cx="575.1" cy="405.3" rx="22.6" ry="8.8" transform="rotate(51 575.1 405.3)" fill="url(#gk)" opacity="0.381"/>
<ellipse cx="220.2" cy="115.6" rx="18.4" ry="6.4" transform="rotate(39 220.2 115.6)" fill="url(#gk)" opacity="0.386"/>
<ellipse cx="494.4" cy="481.8" rx="18.4" ry="6.4" transform="rotate(39 494.4 481.8)" fill="url(#gk)" opacity="0.386"/>
<ellipse cx="256.8" cy="297.3" rx="18.1" ry="7.6" transform="rotate(52 256.8 297.3)" fill="url(#gw)" opacity="0.045"/>
<ellipse cx="457.8" cy="300.1" rx="18.1" ry="7.6" transform="rotate(52 457.8 300.1)" fill="url(#gw)" opacity="0.045"/>
<ellipse cx="537.7" cy="119.4" rx="19.6" ry="6.8" transform="rotate(43 537.7 119.4)" fill="url(#gw)" opacity="0.046"/>
<ellipse cx="176.9" cy="478.0" rx="19.6" ry="6.8" transform="rotate(43 176.9 478.0)" fill="url(#gw)" opacity="0.046"/>
<ellipse cx="189.5" cy="221.1" rx="27.0" ry="7.3" transform="rotate(20 189.5 221.1)" fill="url(#gk)" opacity="0.463"/>
<ellipse cx="525.1" cy="376.3" rx="27.0" ry="7.3" transform="rotate(20 525.1 376.3)" fill="url(#gk)" opacity="0.463"/>
<ellipse cx="213.2" cy="270.2" rx="33.2" ry="6.3" transform="rotate(28 213.2 270.2)" fill="url(#gk)" opacity="0.498"/>
<ellipse cx="501.4" cy="327.2" rx="33.2" ry="6.3" transform="rotate(28 501.4 327.2)" fill="url(#gk)" opacity="0.498"/>
<ellipse cx="256.4" cy="60.0" rx="15.6" ry="9.0" transform="rotate(55 256.4 60.0)" fill="url(#gw)" opacity="0.047"/>
<ellipse cx="458.2" cy="537.4" rx="15.6" ry="9.0" transform="rotate(55 458.2 537.4)" fill="url(#gw)" opacity="0.047"/>
<ellipse cx="184.2" cy="234.1" rx="29.0" ry="6.0" transform="rotate(45 184.2 234.1)" fill="url(#gw)" opacity="0.047"/>
<ellipse cx="530.4" cy="363.3" rx="29.0" ry="6.0" transform="rotate(45 530.4 363.3)" fill="url(#gw)" opacity="0.047"/>
<ellipse cx="462.4" cy="269.8" rx="35.9" ry="5.8" transform="rotate(20 462.4 269.8)" fill="url(#gw)" opacity="0.042"/>
<ellipse cx="252.2" cy="327.6" rx="35.9" ry="5.8" transform="rotate(20 252.2 327.6)" fill="url(#gw)" opacity="0.042"/>
<ellipse cx="352.0" cy="278.5" rx="14.4" ry="8.4" transform="rotate(-65 352.0 278.5)" fill="url(#gw)" opacity="0.024"/>
<ellipse cx="362.6" cy="318.9" rx="14.4" ry="8.4" transform="rotate(-65 362.6 318.9)" fill="url(#gw)" opacity="0.024"/>
<ellipse cx="361.2" cy="266.7" rx="16.7" ry="8.6" transform="rotate(-65 361.2 266.7)" fill="url(#gw)" opacity="0.020"/>
<ellipse cx="353.4" cy="330.7" rx="16.7" ry="8.6" transform="rotate(-65 353.4 330.7)" fill="url(#gw)" opacity="0.020"/>
<ellipse cx="365.4" cy="262.8" rx="15.2" ry="7.2" transform="rotate(-69 365.4 262.8)" fill="url(#gw)" opacity="0.048"/>
<ellipse cx="349.2" cy="334.6" rx="15.2" ry="7.2" transform="rotate(-69 349.2 334.6)" fill="url(#gw)" opacity="0.048"/>
<ellipse cx="367.5" cy="245.8" rx="12.3" ry="6.8" transform="rotate(-84 367.5 245.8)" fill="url(#gw)" opacity="0.025"/>
<ellipse cx="347.1" cy="351.6" rx="12.3" ry="6.8" transform="rotate(-84 347.1 351.6)" fill="url(#gw)" opacity="0.025"/>
<ellipse cx="366.6" cy="232.5" rx="15.4" ry="8.1" transform="rotate(-84 366.6 232.5)" fill="url(#gw)" opacity="0.041"/>
<ellipse cx="348.0" cy="364.9" rx="15.4" ry="8.1" transform="rotate(-84 348.0 364.9)" fill="url(#gw)" opacity="0.041"/>
<ellipse cx="368.1" cy="217.1" rx="18.2" ry="8.9" transform="rotate(-94 368.1 217.1)" fill="url(#gw)" opacity="0.065"/>
<ellipse cx="346.5" cy="380.3" rx="18.2" ry="8.9" transform="rotate(-94 346.5 380.3)" fill="url(#gw)" opacity="0.065"/>
<ellipse cx="365.0" cy="203.9" rx="10.9" ry="8.8" transform="rotate(-111 365.0 203.9)" fill="url(#gw)" opacity="0.029"/>
<ellipse cx="349.6" cy="393.5" rx="10.9" ry="8.8" transform="rotate(-111 349.6 393.5)" fill="url(#gw)" opacity="0.029"/>
<ellipse cx="369.3" cy="194.5" rx="17.0" ry="6.8" transform="rotate(-36 369.3 194.5)" fill="url(#gw)" opacity="0.063"/>
<ellipse cx="345.3" cy="402.9" rx="17.0" ry="6.8" transform="rotate(-36 345.3 402.9)" fill="url(#gw)" opacity="0.063"/>
<ellipse cx="374.6" cy="186.7" rx="13.5" ry="6.9" transform="rotate(-119 374.6 186.7)" fill="url(#gw)" opacity="0.064"/>
<ellipse cx="340.0" cy="410.7" rx="13.5" ry="6.9" transform="rotate(-119 340.0 410.7)" fill="url(#gw)" opacity="0.064"/>
<ellipse cx="370.6" cy="168.7" rx="13.0" ry="9.3" transform="rotate(-49 370.6 168.7)" fill="url(#gw)" opacity="0.019"/>
<ellipse cx="344.0" cy="428.7" rx="13.0" ry="9.3" transform="rotate(-49 344.0 428.7)" fill="url(#gw)" opacity="0.019"/>
<ellipse cx="379.2" cy="161.7" rx="10.9" ry="8.8" transform="rotate(-49 379.2 161.7)" fill="url(#gw)" opacity="0.020"/>
<ellipse cx="335.4" cy="435.7" rx="10.9" ry="8.8" transform="rotate(-49 335.4 435.7)" fill="url(#gw)" opacity="0.020"/>
<ellipse cx="377.7" cy="156.4" rx="16.1" ry="7.1" transform="rotate(-110 377.7 156.4)" fill="url(#gw)" opacity="0.025"/>
<ellipse cx="336.9" cy="441.0" rx="16.1" ry="7.1" transform="rotate(-110 336.9 441.0)" fill="url(#gw)" opacity="0.025"/>
<ellipse cx="371.5" cy="138.8" rx="12.5" ry="9.3" transform="rotate(-119 371.5 138.8)" fill="url(#gw)" opacity="0.026"/>
<ellipse cx="343.1" cy="458.6" rx="12.5" ry="9.3" transform="rotate(-119 343.1 458.6)" fill="url(#gw)" opacity="0.026"/>
<ellipse cx="369.1" cy="122.3" rx="13.5" ry="9.0" transform="rotate(-76 369.1 122.3)" fill="url(#gw)" opacity="0.026"/>
<ellipse cx="345.5" cy="475.1" rx="13.5" ry="9.0" transform="rotate(-76 345.5 475.1)" fill="url(#gw)" opacity="0.026"/>
<ellipse cx="379.1" cy="110.5" rx="12.4" ry="8.8" transform="rotate(-63 379.1 110.5)" fill="url(#gw)" opacity="0.026"/>
<ellipse cx="335.5" cy="486.9" rx="12.4" ry="8.8" transform="rotate(-63 335.5 486.9)" fill="url(#gw)" opacity="0.026"/>
<ellipse cx="379.5" cy="99.3" rx="14.9" ry="7.4" transform="rotate(-63 379.5 99.3)" fill="url(#gw)" opacity="0.020"/>
<ellipse cx="335.1" cy="498.1" rx="14.9" ry="7.4" transform="rotate(-63 335.1 498.1)" fill="url(#gw)" opacity="0.020"/>
<ellipse cx="382.8" cy="84.1" rx="14.2" ry="8.3" transform="rotate(-90 382.8 84.1)" fill="url(#gw)" opacity="0.063"/>
<ellipse cx="331.8" cy="513.3" rx="14.2" ry="8.3" transform="rotate(-90 331.8 513.3)" fill="url(#gw)" opacity="0.063"/>
<ellipse cx="384.4" cy="68.4" rx="16.8" ry="7.4" transform="rotate(-90 384.4 68.4)" fill="url(#gw)" opacity="0.060"/>
<ellipse cx="330.2" cy="529.0" rx="16.8" ry="7.4" transform="rotate(-90 330.2 529.0)" fill="url(#gw)" opacity="0.060"/>
<ellipse cx="384.3" cy="60.3" rx="17.8" ry="9.1" transform="rotate(-73 384.3 60.3)" fill="url(#gw)" opacity="0.025"/>
<ellipse cx="330.3" cy="537.1" rx="17.8" ry="9.1" transform="rotate(-73 330.3 537.1)" fill="url(#gw)" opacity="0.025"/>
<ellipse cx="334.4" cy="283.9" rx="12.7" ry="7.2" transform="rotate(-142 334.4 283.9)" fill="url(#gw)" opacity="0.040"/>
<ellipse cx="380.2" cy="313.5" rx="12.7" ry="7.2" transform="rotate(-142 380.2 313.5)" fill="url(#gw)" opacity="0.040"/>
<ellipse cx="325.5" cy="275.2" rx="17.0" ry="8.4" transform="rotate(-150 325.5 275.2)" fill="url(#gw)" opacity="0.039"/>
<ellipse cx="389.1" cy="322.2" rx="17.0" ry="8.4" transform="rotate(-150 389.1 322.2)" fill="url(#gw)" opacity="0.039"/>
<ellipse cx="319.5" cy="270.8" rx="12.5" ry="7.9" transform="rotate(-150 319.5 270.8)" fill="url(#gw)" opacity="0.014"/>
<ellipse cx="395.1" cy="326.6" rx="12.5" ry="7.9" transform="rotate(-150 395.1 326.6)" fill="url(#gw)" opacity="0.014"/>
<ellipse cx="311.0" cy="267.9" rx="11.4" ry="7.7" transform="rotate(-148 311.0 267.9)" fill="url(#gw)" opacity="0.039"/>
<ellipse cx="403.6" cy="329.5" rx="11.4" ry="7.7" transform="rotate(-148 403.6 329.5)" fill="url(#gw)" opacity="0.039"/>
<ellipse cx="292.5" cy="253.5" rx="15.0" ry="7.1" transform="rotate(-148 292.5 253.5)" fill="url(#gw)" opacity="0.045"/>
<ellipse cx="422.1" cy="343.9" rx="15.0" ry="7.1" transform="rotate(-148 422.1 343.9)" fill="url(#gw)" opacity="0.045"/>
<ellipse cx="292.1" cy="253.1" rx="17.9" ry="6.8" transform="rotate(-144 292.1 253.1)" fill="url(#gw)" opacity="0.045"/>
<ellipse cx="422.5" cy="344.3" rx="17.9" ry="6.8" transform="rotate(-144 422.5 344.3)" fill="url(#gw)" opacity="0.045"/>
<ellipse cx="267.6" cy="239.4" rx="18.2" ry="7.0" transform="rotate(-144 267.6 239.4)" fill="url(#gw)" opacity="0.028"/>
<ellipse cx="447.0" cy="358.0" rx="18.2" ry="7.0" transform="rotate(-144 447.0 358.0)" fill="url(#gw)" opacity="0.028"/>
<ellipse cx="259.7" cy="227.9" rx="15.9" ry="8.8" transform="rotate(-142 259.7 227.9)" fill="url(#gw)" opacity="0.047"/>
<ellipse cx="454.9" cy="369.5" rx="15.9" ry="8.8" transform="rotate(-142 454.9 369.5)" fill="url(#gw)" opacity="0.047"/>
<ellipse cx="243.5" cy="221.7" rx="17.2" ry="7.8" transform="rotate(-142 243.5 221.7)" fill="url(#gw)" opacity="0.054"/>
<ellipse cx="471.1" cy="375.7" rx="17.2" ry="7.8" transform="rotate(-142 471.1 375.7)" fill="url(#gw)" opacity="0.054"/>
<ellipse cx="238.5" cy="212.5" rx="13.4" ry="8.3" transform="rotate(-145 238.5 212.5)" fill="url(#gw)" opacity="0.042"/>
<ellipse cx="476.1" cy="384.9" rx="13.4" ry="8.3" transform="rotate(-145 476.1 384.9)" fill="url(#gw)" opacity="0.042"/>
<ellipse cx="232.1" cy="210.2" rx="17.3" ry="8.7" transform="rotate(-145 232.1 210.2)" fill="url(#gw)" opacity="0.058"/>
<ellipse cx="482.5" cy="387.2" rx="17.3" ry="8.7" transform="rotate(-145 482.5 387.2)" fill="url(#gw)" opacity="0.058"/>
<ellipse cx="223.1" cy="202.2" rx="16.9" ry="7.0" transform="rotate(-145 223.1 202.2)" fill="url(#gw)" opacity="0.033"/>
<ellipse cx="491.5" cy="395.2" rx="16.9" ry="7.0" transform="rotate(-145 491.5 395.2)" fill="url(#gw)" opacity="0.033"/>
<ellipse cx="213.5" cy="196.3" rx="12.2" ry="8.6" transform="rotate(-145 213.5 196.3)" fill="url(#gw)" opacity="0.035"/>
<ellipse cx="501.1" cy="401.1" rx="12.2" ry="8.6" transform="rotate(-145 501.1 401.1)" fill="url(#gw)" opacity="0.035"/>
<ellipse cx="202.1" cy="189.0" rx="10.5" ry="7.5" transform="rotate(-145 202.1 189.0)" fill="url(#gw)" opacity="0.025"/>
<ellipse cx="512.5" cy="408.4" rx="10.5" ry="7.5" transform="rotate(-145 512.5 408.4)" fill="url(#gw)" opacity="0.025"/>
<ellipse cx="194.7" cy="185.1" rx="15.5" ry="7.9" transform="rotate(-145 194.7 185.1)" fill="url(#gw)" opacity="0.054"/>
<ellipse cx="519.9" cy="412.3" rx="15.5" ry="7.9" transform="rotate(-145 519.9 412.3)" fill="url(#gw)" opacity="0.054"/>
<ellipse cx="182.7" cy="178.9" rx="13.8" ry="8.9" transform="rotate(-145 182.7 178.9)" fill="url(#gw)" opacity="0.022"/>
<ellipse cx="531.9" cy="418.5" rx="13.8" ry="8.9" transform="rotate(-145 531.9 418.5)" fill="url(#gw)" opacity="0.022"/>
<ellipse cx="175.9" cy="169.4" rx="12.9" ry="7.1" transform="rotate(-145 175.9 169.4)" fill="url(#gw)" opacity="0.040"/>
<ellipse cx="538.7" cy="428.0" rx="12.9" ry="7.1" transform="rotate(-145 538.7 428.0)" fill="url(#gw)" opacity="0.040"/>
<ellipse cx="171.6" cy="162.4" rx="17.8" ry="7.5" transform="rotate(-129 171.6 162.4)" fill="url(#gw)" opacity="0.046"/>
<ellipse cx="543.0" cy="435.0" rx="17.8" ry="7.5" transform="rotate(-129 543.0 435.0)" fill="url(#gw)" opacity="0.046"/>
<ellipse cx="163.4" cy="158.7" rx="13.6" ry="8.4" transform="rotate(-129 163.4 158.7)" fill="url(#gw)" opacity="0.023"/>
<ellipse cx="551.2" cy="438.7" rx="13.6" ry="8.4" transform="rotate(-129 551.2 438.7)" fill="url(#gw)" opacity="0.023"/>
<ellipse cx="152.8" cy="147.9" rx="13.9" ry="7.0" transform="rotate(-129 152.8 147.9)" fill="url(#gw)" opacity="0.058"/>
<ellipse cx="561.8" cy="449.5" rx="13.9" ry="7.0" transform="rotate(-129 561.8 449.5)" fill="url(#gw)" opacity="0.058"/>
<ellipse cx="150.1" cy="139.3" rx="14.9" ry="7.6" transform="rotate(-124 150.1 139.3)" fill="url(#gw)" opacity="0.045"/>
<ellipse cx="564.5" cy="458.1" rx="14.9" ry="7.6" transform="rotate(-124 564.5 458.1)" fill="url(#gw)" opacity="0.045"/>
<ellipse cx="137.4" cy="120.4" rx="10.6" ry="8.9" transform="rotate(-124 137.4 120.4)" fill="url(#gw)" opacity="0.034"/>
<ellipse cx="577.2" cy="477.0" rx="10.6" ry="8.9" transform="rotate(-124 577.2 477.0)" fill="url(#gw)" opacity="0.034"/>
<ellipse cx="331.3" cy="300.1" rx="16.7" ry="9.3" transform="rotate(178 331.3 300.1)" fill="url(#gw)" opacity="0.043"/>
<ellipse cx="383.3" cy="297.3" rx="16.7" ry="9.3" transform="rotate(178 383.3 297.3)" fill="url(#gw)" opacity="0.043"/>
<ellipse cx="321.4" cy="301.2" rx="10.5" ry="8.0" transform="rotate(180 321.4 301.2)" fill="url(#gw)" opacity="0.022"/>
<ellipse cx="393.2" cy="296.2" rx="10.5" ry="8.0" transform="rotate(180 393.2 296.2)" fill="url(#gw)" opacity="0.022"/>
<ellipse cx="310.6" cy="300.7" rx="15.8" ry="8.1" transform="rotate(180 310.6 300.7)" fill="url(#gw)" opacity="0.029"/>
<ellipse cx="404.0" cy="296.7" rx="15.8" ry="8.1" transform="rotate(180 404.0 296.7)" fill="url(#gw)" opacity="0.029"/>
<ellipse cx="299.1" cy="299.3" rx="17.5" ry="7.0" transform="rotate(170 299.1 299.3)" fill="url(#gw)" opacity="0.049"/>
<ellipse cx="415.5" cy="298.1" rx="17.5" ry="7.0" transform="rotate(170 415.5 298.1)" fill="url(#gw)" opacity="0.049"/>
<ellipse cx="281.7" cy="303.0" rx="15.3" ry="9.1" transform="rotate(170 281.7 303.0)" fill="url(#gw)" opacity="0.034"/>
<ellipse cx="432.9" cy="294.4" rx="15.3" ry="9.1" transform="rotate(170 432.9 294.4)" fill="url(#gw)" opacity="0.034"/>
<ellipse cx="273.1" cy="301.9" rx="17.8" ry="8.0" transform="rotate(-171 273.1 301.9)" fill="url(#gw)" opacity="0.049"/>
<ellipse cx="441.5" cy="295.5" rx="17.8" ry="8.0" transform="rotate(-171 441.5 295.5)" fill="url(#gw)" opacity="0.049"/>
<ellipse cx="260.2" cy="303.2" rx="15.4" ry="8.6" transform="rotate(-171 260.2 303.2)" fill="url(#gw)" opacity="0.050"/>
<ellipse cx="454.4" cy="294.2" rx="15.4" ry="8.6" transform="rotate(-171 454.4 294.2)" fill="url(#gw)" opacity="0.050"/>
<ellipse cx="256.1" cy="297.9" rx="14.6" ry="8.8" transform="rotate(168 256.1 297.9)" fill="url(#gw)" opacity="0.057"/>
<ellipse cx="458.5" cy="299.5" rx="14.6" ry="8.8" transform="rotate(168 458.5 299.5)" fill="url(#gw)" opacity="0.057"/>
<ellipse cx="241.8" cy="301.6" rx="11.0" ry="7.9" transform="rotate(168 241.8 301.6)" fill="url(#gw)" opacity="0.029"/>
<ellipse cx="472.8" cy="295.8" rx="11.0" ry="7.9" transform="rotate(168 472.8 295.8)" fill="url(#gw)" opacity="0.029"/>
<ellipse cx="224.1" cy="302.9" rx="16.7" ry="6.9" transform="rotate(-178 224.1 302.9)" fill="url(#gw)" opacity="0.015"/>
<ellipse cx="490.5" cy="294.5" rx="16.7" ry="6.9" transform="rotate(-178 490.5 294.5)" fill="url(#gw)" opacity="0.015"/>
<ellipse cx="208.3" cy="305.4" rx="11.5" ry="7.1" transform="rotate(-178 208.3 305.4)" fill="url(#gw)" opacity="0.049"/>
<ellipse cx="506.3" cy="292.0" rx="11.5" ry="7.1" transform="rotate(-178 506.3 292.0)" fill="url(#gw)" opacity="0.049"/>
<ellipse cx="199.0" cy="300.1" rx="17.8" ry="8.0" transform="rotate(-171 199.0 300.1)" fill="url(#gw)" opacity="0.045"/>
<ellipse cx="515.6" cy="297.3" rx="17.8" ry="8.0" transform="rotate(-171 515.6 297.3)" fill="url(#gw)" opacity="0.045"/>
<ellipse cx="185.2" cy="301.3" rx="12.7" ry="8.7" transform="rotate(-171 185.2 301.3)" fill="url(#gw)" opacity="0.037"/>
<ellipse cx="529.4" cy="296.1" rx="12.7" ry="8.7" transform="rotate(-171 529.4 296.1)" fill="url(#gw)" opacity="0.037"/>
<ellipse cx="173.8" cy="299.2" rx="12.8" ry="7.8" transform="rotate(-171 173.8 299.2)" fill="url(#gw)" opacity="0.039"/>
<ellipse cx="540.8" cy="298.2" rx="12.8" ry="7.8" transform="rotate(-171 540.8 298.2)" fill="url(#gw)" opacity="0.039"/>
<ellipse cx="164.2" cy="302.6" rx="18.0" ry="8.1" transform="rotate(157 164.2 302.6)" fill="url(#gw)" opacity="0.052"/>
<ellipse cx="550.4" cy="294.8" rx="18.0" ry="8.1" transform="rotate(157 550.4 294.8)" fill="url(#gw)" opacity="0.052"/>
<ellipse cx="155.5" cy="308.8" rx="15.1" ry="6.8" transform="rotate(157 155.5 308.8)" fill="url(#gw)" opacity="0.036"/>
<ellipse cx="559.1" cy="288.6" rx="15.1" ry="6.8" transform="rotate(157 559.1 288.6)" fill="url(#gw)" opacity="0.036"/>
<ellipse cx="136.1" cy="310.5" rx="14.8" ry="8.0" transform="rotate(173 136.1 310.5)" fill="url(#gw)" opacity="0.050"/>
<ellipse cx="578.5" cy="286.9" rx="14.8" ry="8.0" transform="rotate(173 578.5 286.9)" fill="url(#gw)" opacity="0.050"/>
<ellipse cx="130.4" cy="312.6" rx="17.9" ry="9.2" transform="rotate(173 130.4 312.6)" fill="url(#gw)" opacity="0.032"/>
<ellipse cx="584.2" cy="284.8" rx="17.9" ry="9.2" transform="rotate(173 584.2 284.8)" fill="url(#gw)" opacity="0.032"/>
<ellipse cx="120.4" cy="312.9" rx="16.8" ry="9.1" transform="rotate(173 120.4 312.9)" fill="url(#gw)" opacity="0.033"/>
<ellipse cx="594.2" cy="284.5" rx="16.8" ry="9.1" transform="rotate(173 594.2 284.5)" fill="url(#gw)" opacity="0.033"/>
<ellipse cx="218.0" cy="196.6" rx="17.6" ry="7.1" transform="rotate(-84 218.0 196.6)" fill="url(#gw)" opacity="0.018"/>
<ellipse cx="496.6" cy="400.8" rx="17.6" ry="7.1" transform="rotate(-84 496.6 400.8)" fill="url(#gw)" opacity="0.018"/>
<ellipse cx="220.8" cy="182.6" rx="15.8" ry="7.6" transform="rotate(-84 220.8 182.6)" fill="url(#gw)" opacity="0.011"/>
<ellipse cx="493.8" cy="414.8" rx="15.8" ry="7.6" transform="rotate(-84 493.8 414.8)" fill="url(#gw)" opacity="0.011"/>
<ellipse cx="219.8" cy="176.1" rx="11.4" ry="8.1" transform="rotate(-84 219.8 176.1)" fill="url(#gw)" opacity="0.021"/>
<ellipse cx="494.8" cy="421.3" rx="11.4" ry="8.1" transform="rotate(-84 494.8 421.3)" fill="url(#gw)" opacity="0.021"/>
<ellipse cx="221.9" cy="169.5" rx="13.3" ry="7.8" transform="rotate(-84 221.9 169.5)" fill="url(#gw)" opacity="0.015"/>
<ellipse cx="492.7" cy="427.9" rx="13.3" ry="7.8" transform="rotate(-84 492.7 427.9)" fill="url(#gw)" opacity="0.015"/>
<ellipse cx="222.8" cy="155.5" rx="15.4" ry="8.1" transform="rotate(-87 222.8 155.5)" fill="url(#gw)" opacity="0.019"/>
<ellipse cx="491.8" cy="441.9" rx="15.4" ry="8.1" transform="rotate(-87 491.8 441.9)" fill="url(#gw)" opacity="0.019"/>
<ellipse cx="220.5" cy="139.0" rx="16.2" ry="8.9" transform="rotate(-87 220.5 139.0)" fill="url(#gw)" opacity="0.011"/>
<ellipse cx="494.1" cy="458.4" rx="16.2" ry="8.9" transform="rotate(-87 494.1 458.4)" fill="url(#gw)" opacity="0.011"/>
<ellipse cx="222.9" cy="131.5" rx="12.1" ry="9.4" transform="rotate(-87 222.9 131.5)" fill="url(#gw)" opacity="0.024"/>
<ellipse cx="491.7" cy="465.9" rx="12.1" ry="9.4" transform="rotate(-87 491.7 465.9)" fill="url(#gw)" opacity="0.024"/>
<ellipse cx="224.7" cy="121.0" rx="12.4" ry="7.0" transform="rotate(-87 224.7 121.0)" fill="url(#gw)" opacity="0.021"/>
<ellipse cx="489.9" cy="476.4" rx="12.4" ry="7.0" transform="rotate(-87 489.9 476.4)" fill="url(#gw)" opacity="0.021"/>
<ellipse cx="221.5" cy="105.4" rx="13.5" ry="8.5" transform="rotate(-90 221.5 105.4)" fill="url(#gw)" opacity="0.009"/>
<ellipse cx="493.1" cy="492.0" rx="13.5" ry="8.5" transform="rotate(-90 493.1 492.0)" fill="url(#gw)" opacity="0.009"/>
<ellipse cx="224.8" cy="103.1" rx="18.0" ry="7.1" transform="rotate(-67 224.8 103.1)" fill="url(#gw)" opacity="0.024"/>
<ellipse cx="489.8" cy="494.3" rx="18.0" ry="7.1" transform="rotate(-67 489.8 494.3)" fill="url(#gw)" opacity="0.024"/>
<ellipse cx="230.1" cy="85.2" rx="11.9" ry="6.9" transform="rotate(-67 230.1 85.2)" fill="url(#gw)" opacity="0.020"/>
<ellipse cx="484.5" cy="512.2" rx="11.9" ry="6.9" transform="rotate(-67 484.5 512.2)" fill="url(#gw)" opacity="0.020"/>
<ellipse cx="234.4" cy="82.0" rx="14.8" ry="7.1" transform="rotate(-67 234.4 82.0)" fill="url(#gw)" opacity="0.016"/>
<ellipse cx="480.2" cy="515.4" rx="14.8" ry="7.1" transform="rotate(-67 480.2 515.4)" fill="url(#gw)" opacity="0.016"/>
<ellipse cx="237.6" cy="74.5" rx="17.6" ry="7.0" transform="rotate(-67 237.6 74.5)" fill="url(#gw)" opacity="0.026"/>
<ellipse cx="477.0" cy="522.9" rx="17.6" ry="7.0" transform="rotate(-67 477.0 522.9)" fill="url(#gw)" opacity="0.026"/>
<ellipse cx="242.1" cy="62.8" rx="12.9" ry="8.0" transform="rotate(-59 242.1 62.8)" fill="url(#gw)" opacity="0.021"/>
<ellipse cx="472.5" cy="534.6" rx="12.9" ry="8.0" transform="rotate(-59 472.5 534.6)" fill="url(#gw)" opacity="0.021"/>
<ellipse cx="226.0" cy="98.5" rx="15.9" ry="9.0" transform="rotate(-41 226.0 98.5)" fill="url(#gw)" opacity="0.006"/>
<ellipse cx="488.6" cy="498.9" rx="15.9" ry="9.0" transform="rotate(-41 488.6 498.9)" fill="url(#gw)" opacity="0.006"/>
<ellipse cx="230.5" cy="94.0" rx="11.9" ry="7.2" transform="rotate(-41 230.5 94.0)" fill="url(#gw)" opacity="0.014"/>
<ellipse cx="484.1" cy="503.4" rx="11.9" ry="7.2" transform="rotate(-41 484.1 503.4)" fill="url(#gw)" opacity="0.014"/>
<ellipse cx="246.5" cy="84.7" rx="15.9" ry="9.0" transform="rotate(-41 246.5 84.7)" fill="url(#gw)" opacity="0.022"/>
<ellipse cx="468.1" cy="512.7" rx="15.9" ry="9.0" transform="rotate(-41 468.1 512.7)" fill="url(#gw)" opacity="0.022"/>
<ellipse cx="249.8" cy="78.3" rx="18.1" ry="8.9" transform="rotate(-41 249.8 78.3)" fill="url(#gw)" opacity="0.016"/>
<ellipse cx="464.8" cy="519.1" rx="18.1" ry="8.9" transform="rotate(-41 464.8 519.1)" fill="url(#gw)" opacity="0.016"/>
<ellipse cx="258.6" cy="71.5" rx="16.8" ry="7.8" transform="rotate(-41 258.6 71.5)" fill="url(#gw)" opacity="0.022"/>
<ellipse cx="456.0" cy="525.9" rx="16.8" ry="7.8" transform="rotate(-41 456.0 525.9)" fill="url(#gw)" opacity="0.022"/>
<ellipse cx="268.6" cy="95.6" rx="16.4" ry="7.8" transform="rotate(-4 268.6 95.6)" fill="url(#gw)" opacity="0.032"/>
<ellipse cx="446.0" cy="501.8" rx="16.4" ry="7.8" transform="rotate(-4 446.0 501.8)" fill="url(#gw)" opacity="0.032"/>
<ellipse cx="278.0" cy="97.3" rx="10.5" ry="7.7" transform="rotate(-4 278.0 97.3)" fill="url(#gw)" opacity="0.023"/>
<ellipse cx="436.6" cy="500.1" rx="10.5" ry="7.7" transform="rotate(-4 436.6 500.1)" fill="url(#gw)" opacity="0.023"/>
<ellipse cx="286.8" cy="95.2" rx="15.6" ry="7.6" transform="rotate(-4 286.8 95.2)" fill="url(#gw)" opacity="0.037"/>
<ellipse cx="427.8" cy="502.2" rx="15.6" ry="7.6" transform="rotate(-4 427.8 502.2)" fill="url(#gw)" opacity="0.037"/>
<ellipse cx="298.1" cy="94.4" rx="18.2" ry="8.4" transform="rotate(-4 298.1 94.4)" fill="url(#gw)" opacity="0.021"/>
<ellipse cx="416.5" cy="503.0" rx="18.2" ry="8.4" transform="rotate(-4 416.5 503.0)" fill="url(#gw)" opacity="0.021"/>
<ellipse cx="316.3" cy="94.0" rx="15.2" ry="8.7" transform="rotate(16 316.3 94.0)" fill="url(#gw)" opacity="0.010"/>
<ellipse cx="398.3" cy="503.4" rx="15.2" ry="8.7" transform="rotate(16 398.3 503.4)" fill="url(#gw)" opacity="0.010"/>
<ellipse cx="326.3" cy="113.3" rx="13.3" ry="7.0" transform="rotate(21 326.3 113.3)" fill="url(#gw)" opacity="0.015"/>
<ellipse cx="388.3" cy="484.1" rx="13.3" ry="7.0" transform="rotate(21 388.3 484.1)" fill="url(#gw)" opacity="0.015"/>
<ellipse cx="338.8" cy="115.9" rx="17.9" ry="8.2" transform="rotate(21 338.8 115.9)" fill="url(#gw)" opacity="0.024"/>
<ellipse cx="375.8" cy="481.5" rx="17.9" ry="8.2" transform="rotate(21 375.8 481.5)" fill="url(#gw)" opacity="0.024"/>
<ellipse cx="354.1" cy="123.7" rx="15.1" ry="8.7" transform="rotate(29 354.1 123.7)" fill="url(#gw)" opacity="0.011"/>
<ellipse cx="360.5" cy="473.7" rx="15.1" ry="8.7" transform="rotate(29 360.5 473.7)" fill="url(#gw)" opacity="0.011"/>
<ellipse cx="357.4" cy="125.9" rx="11.7" ry="8.0" transform="rotate(29 357.4 125.9)" fill="url(#gw)" opacity="0.023"/>
<ellipse cx="357.2" cy="471.5" rx="11.7" ry="8.0" transform="rotate(29 357.2 471.5)" fill="url(#gw)" opacity="0.023"/>
<ellipse cx="213.7" cy="199.9" rx="14.5" ry="8.3" transform="rotate(-166 213.7 199.9)" fill="url(#gw)" opacity="0.014"/>
<ellipse cx="500.9" cy="397.5" rx="14.5" ry="8.3" transform="rotate(-166 500.9 397.5)" fill="url(#gw)" opacity="0.014"/>
<ellipse cx="199.7" cy="198.3" rx="12.6" ry="8.6" transform="rotate(-166 199.7 198.3)" fill="url(#gw)" opacity="0.017"/>
<ellipse cx="514.9" cy="399.1" rx="12.6" ry="8.6" transform="rotate(-166 514.9 399.1)" fill="url(#gw)" opacity="0.017"/>
<ellipse cx="189.6" cy="193.9" rx="11.6" ry="8.7" transform="rotate(-177 189.6 193.9)" fill="url(#gw)" opacity="0.007"/>
<ellipse cx="525.0" cy="403.5" rx="11.6" ry="8.7" transform="rotate(-177 525.0 403.5)" fill="url(#gw)" opacity="0.007"/>
<ellipse cx="177.4" cy="191.5" rx="18.1" ry="9.2" transform="rotate(-177 177.4 191.5)" fill="url(#gw)" opacity="0.007"/>
<ellipse cx="537.2" cy="405.9" rx="18.1" ry="9.2" transform="rotate(-177 537.2 405.9)" fill="url(#gw)" opacity="0.007"/>
<ellipse cx="168.5" cy="191.7" rx="18.0" ry="7.4" transform="rotate(-177 168.5 191.7)" fill="url(#gw)" opacity="0.016"/>
<ellipse cx="546.1" cy="405.7" rx="18.0" ry="7.4" transform="rotate(-177 546.1 405.7)" fill="url(#gw)" opacity="0.016"/>
<ellipse cx="151.0" cy="188.9" rx="18.0" ry="8.9" transform="rotate(-164 151.0 188.9)" fill="url(#gw)" opacity="0.015"/>
<ellipse cx="563.6" cy="408.5" rx="18.0" ry="8.9" transform="rotate(-164 563.6 408.5)" fill="url(#gw)" opacity="0.015"/>
<ellipse cx="135.2" cy="187.1" rx="12.0" ry="6.9" transform="rotate(-164 135.2 187.1)" fill="url(#gw)" opacity="0.015"/>
<ellipse cx="579.4" cy="410.3" rx="12.0" ry="6.9" transform="rotate(-164 579.4 410.3)" fill="url(#gw)" opacity="0.015"/>
<ellipse cx="390.9" cy="93.0" rx="14.0" ry="7.4" transform="rotate(17 390.9 93.0)" fill="url(#gw)" opacity="0.027"/>
<ellipse cx="323.7" cy="504.4" rx="14.0" ry="7.4" transform="rotate(17 323.7 504.4)" fill="url(#gw)" opacity="0.027"/>
<ellipse cx="398.4" cy="96.6" rx="18.2" ry="9.2" transform="rotate(17 398.4 96.6)" fill="url(#gw)" opacity="0.023"/>
<ellipse cx="316.2" cy="500.8" rx="18.2" ry="9.2" transform="rotate(17 316.2 500.8)" fill="url(#gw)" opacity="0.023"/>
<ellipse cx="413.2" cy="99.9" rx="16.5" ry="8.4" transform="rotate(17 413.2 99.9)" fill="url(#gw)" opacity="0.033"/>
<ellipse cx="301.4" cy="497.5" rx="16.5" ry="8.4" transform="rotate(17 301.4 497.5)" fill="url(#gw)" opacity="0.033"/>
<ellipse cx="419.3" cy="102.8" rx="15.0" ry="8.4" transform="rotate(6 419.3 102.8)" fill="url(#gw)" opacity="0.024"/>
<ellipse cx="295.3" cy="494.6" rx="15.0" ry="8.4" transform="rotate(6 295.3 494.6)" fill="url(#gw)" opacity="0.024"/>
<ellipse cx="434.0" cy="102.9" rx="17.5" ry="9.0" transform="rotate(6 434.0 102.9)" fill="url(#gw)" opacity="0.035"/>
<ellipse cx="280.6" cy="494.5" rx="17.5" ry="9.0" transform="rotate(6 280.6 494.5)" fill="url(#gw)" opacity="0.035"/>
<ellipse cx="437.6" cy="102.5" rx="15.3" ry="7.0" transform="rotate(6 437.6 102.5)" fill="url(#gw)" opacity="0.020"/>
<ellipse cx="277.0" cy="494.9" rx="15.3" ry="7.0" transform="rotate(6 277.0 494.9)" fill="url(#gw)" opacity="0.020"/>
<ellipse cx="452.0" cy="103.8" rx="14.7" ry="8.4" transform="rotate(6 452.0 103.8)" fill="url(#gw)" opacity="0.027"/>
<ellipse cx="262.6" cy="493.6" rx="14.7" ry="8.4" transform="rotate(6 262.6 493.6)" fill="url(#gw)" opacity="0.027"/>
<ellipse cx="458.6" cy="104.7" rx="16.2" ry="8.9" transform="rotate(9 458.6 104.7)" fill="url(#gw)" opacity="0.018"/>
<ellipse cx="256.0" cy="492.7" rx="16.2" ry="8.9" transform="rotate(9 256.0 492.7)" fill="url(#gw)" opacity="0.018"/>
<ellipse cx="468.9" cy="107.6" rx="16.4" ry="7.3" transform="rotate(9 468.9 107.6)" fill="url(#gw)" opacity="0.025"/>
<ellipse cx="245.7" cy="489.8" rx="16.4" ry="7.3" transform="rotate(9 245.7 489.8)" fill="url(#gw)" opacity="0.025"/>
<ellipse cx="480.1" cy="110.5" rx="15.5" ry="9.3" transform="rotate(9 480.1 110.5)" fill="url(#gw)" opacity="0.018"/>
<ellipse cx="234.5" cy="486.9" rx="15.5" ry="9.3" transform="rotate(9 234.5 486.9)" fill="url(#gw)" opacity="0.018"/>
<ellipse cx="486.7" cy="108.2" rx="13.7" ry="7.7" transform="rotate(9 486.7 108.2)" fill="url(#gw)" opacity="0.034"/>
<ellipse cx="227.9" cy="489.2" rx="13.7" ry="7.7" transform="rotate(9 227.9 489.2)" fill="url(#gw)" opacity="0.034"/>
<ellipse cx="497.4" cy="110.0" rx="14.8" ry="8.0" transform="rotate(27 497.4 110.0)" fill="url(#gw)" opacity="0.011"/>
<ellipse cx="217.2" cy="487.4" rx="14.8" ry="8.0" transform="rotate(27 217.2 487.4)" fill="url(#gw)" opacity="0.011"/>
<ellipse cx="510.9" cy="120.5" rx="12.1" ry="8.5" transform="rotate(27 510.9 120.5)" fill="url(#gw)" opacity="0.010"/>
<ellipse cx="203.7" cy="476.9" rx="12.1" ry="8.5" transform="rotate(27 203.7 476.9)" fill="url(#gw)" opacity="0.010"/>
<ellipse cx="514.6" cy="122.1" rx="12.6" ry="7.1" transform="rotate(27 514.6 122.1)" fill="url(#gw)" opacity="0.027"/>
<ellipse cx="200.0" cy="475.3" rx="12.6" ry="7.1" transform="rotate(27 200.0 475.3)" fill="url(#gw)" opacity="0.027"/>
<ellipse cx="527.3" cy="126.4" rx="15.9" ry="8.2" transform="rotate(48 527.3 126.4)" fill="url(#gw)" opacity="0.011"/>
<ellipse cx="187.3" cy="471.0" rx="15.9" ry="8.2" transform="rotate(48 187.3 471.0)" fill="url(#gw)" opacity="0.011"/>
<ellipse cx="546.5" cy="143.8" rx="16.7" ry="7.6" transform="rotate(48 546.5 143.8)" fill="url(#gw)" opacity="0.020"/>
<ellipse cx="168.1" cy="453.6" rx="16.7" ry="7.6" transform="rotate(48 168.1 453.6)" fill="url(#gw)" opacity="0.020"/>
<ellipse cx="544.5" cy="150.3" rx="12.3" ry="7.7" transform="rotate(31 544.5 150.3)" fill="url(#gw)" opacity="0.033"/>
<ellipse cx="170.1" cy="447.1" rx="12.3" ry="7.7" transform="rotate(31 170.1 447.1)" fill="url(#gw)" opacity="0.033"/>
<ellipse cx="558.0" cy="156.1" rx="11.9" ry="8.2" transform="rotate(31 558.0 156.1)" fill="url(#gw)" opacity="0.019"/>
<ellipse cx="156.6" cy="441.3" rx="11.9" ry="8.2" transform="rotate(31 156.6 441.3)" fill="url(#gw)" opacity="0.019"/>
<ellipse cx="569.4" cy="163.8" rx="11.8" ry="8.7" transform="rotate(41 569.4 163.8)" fill="url(#gw)" opacity="0.024"/>
<ellipse cx="145.2" cy="433.6" rx="11.8" ry="8.7" transform="rotate(41 145.2 433.6)" fill="url(#gw)" opacity="0.024"/>
<ellipse cx="581.0" cy="172.5" rx="14.6" ry="8.2" transform="rotate(41 581.0 172.5)" fill="url(#gw)" opacity="0.022"/>
<ellipse cx="133.6" cy="424.9" rx="14.6" ry="8.2" transform="rotate(41 133.6 424.9)" fill="url(#gw)" opacity="0.022"/>
<ellipse cx="588.1" cy="177.4" rx="14.7" ry="8.8" transform="rotate(41 588.1 177.4)" fill="url(#gw)" opacity="0.010"/>
<ellipse cx="126.5" cy="420.0" rx="14.7" ry="8.8" transform="rotate(41 126.5 420.0)" fill="url(#gw)" opacity="0.010"/>
<ellipse cx="379.2" cy="191.2" rx="11.1" ry="8.4" transform="rotate(-7 379.2 191.2)" fill="url(#gw)" opacity="0.033"/>
<ellipse cx="335.4" cy="406.2" rx="11.1" ry="8.4" transform="rotate(-7 335.4 406.2)" fill="url(#gw)" opacity="0.033"/>
<ellipse cx="388.1" cy="186.2" rx="12.1" ry="8.7" transform="rotate(-7 388.1 186.2)" fill="url(#gw)" opacity="0.015"/>
<ellipse cx="326.5" cy="411.2" rx="12.1" ry="8.7" transform="rotate(-7 326.5 411.2)" fill="url(#gw)" opacity="0.015"/>
<ellipse cx="403.0" cy="185.0" rx="18.0" ry="8.5" transform="rotate(-7 403.0 185.0)" fill="url(#gw)" opacity="0.018"/>
<ellipse cx="311.6" cy="412.4" rx="18.0" ry="8.5" transform="rotate(-7 311.6 412.4)" fill="url(#gw)" opacity="0.018"/>
<ellipse cx="411.4" cy="186.1" rx="17.5" ry="7.8" transform="rotate(7 411.4 186.1)" fill="url(#gw)" opacity="0.028"/>
<ellipse cx="303.2" cy="411.3" rx="17.5" ry="7.8" transform="rotate(7 303.2 411.3)" fill="url(#gw)" opacity="0.028"/>
<ellipse cx="428.3" cy="186.0" rx="16.9" ry="9.1" transform="rotate(7 428.3 186.0)" fill="url(#gw)" opacity="0.030"/>
<ellipse cx="286.3" cy="411.4" rx="16.9" ry="9.1" transform="rotate(7 286.3 411.4)" fill="url(#gw)" opacity="0.030"/>
<ellipse cx="442.3" cy="188.9" rx="16.7" ry="7.9" transform="rotate(7 442.3 188.9)" fill="url(#gw)" opacity="0.028"/>
<ellipse cx="272.3" cy="408.5" rx="16.7" ry="7.9" transform="rotate(7 272.3 408.5)" fill="url(#gw)" opacity="0.028"/>
<ellipse cx="450.6" cy="193.2" rx="13.3" ry="7.2" transform="rotate(7 450.6 193.2)" fill="url(#gw)" opacity="0.036"/>
<ellipse cx="264.0" cy="404.2" rx="13.3" ry="7.2" transform="rotate(7 264.0 404.2)" fill="url(#gw)" opacity="0.036"/>
<ellipse cx="457.1" cy="192.0" rx="10.9" ry="7.6" transform="rotate(-15 457.1 192.0)" fill="url(#gw)" opacity="0.035"/>
<ellipse cx="257.5" cy="405.4" rx="10.9" ry="7.6" transform="rotate(-15 257.5 405.4)" fill="url(#gw)" opacity="0.035"/>
<ellipse cx="466.6" cy="186.4" rx="10.9" ry="8.0" transform="rotate(-15 466.6 186.4)" fill="url(#gw)" opacity="0.013"/>
<ellipse cx="248.0" cy="411.0" rx="10.9" ry="8.0" transform="rotate(-15 248.0 411.0)" fill="url(#gw)" opacity="0.013"/>
<ellipse cx="484.8" cy="184.0" rx="11.8" ry="7.3" transform="rotate(-15 484.8 184.0)" fill="url(#gw)" opacity="0.011"/>
<ellipse cx="229.8" cy="413.4" rx="11.8" ry="7.3" transform="rotate(-15 229.8 413.4)" fill="url(#gw)" opacity="0.011"/>
<ellipse cx="491.1" cy="180.2" rx="11.8" ry="7.5" transform="rotate(-15 491.1 180.2)" fill="url(#gw)" opacity="0.014"/>
<ellipse cx="223.5" cy="417.2" rx="11.8" ry="7.5" transform="rotate(-15 223.5 417.2)" fill="url(#gw)" opacity="0.014"/>
<ellipse cx="502.5" cy="179.3" rx="16.8" ry="8.0" transform="rotate(16 502.5 179.3)" fill="url(#gw)" opacity="0.023"/>
<ellipse cx="212.1" cy="418.1" rx="16.8" ry="8.0" transform="rotate(16 212.1 418.1)" fill="url(#gw)" opacity="0.023"/>
<ellipse cx="520.3" cy="182.7" rx="14.7" ry="9.2" transform="rotate(16 520.3 182.7)" fill="url(#gw)" opacity="0.018"/>
<ellipse cx="194.3" cy="414.7" rx="14.7" ry="9.2" transform="rotate(16 194.3 414.7)" fill="url(#gw)" opacity="0.018"/>
<ellipse cx="531.5" cy="192.4" rx="16.7" ry="7.8" transform="rotate(49 531.5 192.4)" fill="url(#gw)" opacity="0.034"/>
<ellipse cx="183.1" cy="405.0" rx="16.7" ry="7.8" transform="rotate(49 183.1 405.0)" fill="url(#gw)" opacity="0.034"/>
<ellipse cx="537.4" cy="200.1" rx="15.5" ry="7.4" transform="rotate(49 537.4 200.1)" fill="url(#gw)" opacity="0.035"/>
<ellipse cx="177.2" cy="397.3" rx="15.5" ry="7.4" transform="rotate(49 177.2 397.3)" fill="url(#gw)" opacity="0.035"/>
<ellipse cx="540.6" cy="204.4" rx="16.0" ry="8.3" transform="rotate(49 540.6 204.4)" fill="url(#gw)" opacity="0.030"/>
<ellipse cx="174.0" cy="393.0" rx="16.0" ry="8.3" transform="rotate(49 174.0 393.0)" fill="url(#gw)" opacity="0.030"/>
<ellipse cx="550.9" cy="214.4" rx="17.2" ry="8.1" transform="rotate(49 550.9 214.4)" fill="url(#gw)" opacity="0.015"/>
<ellipse cx="163.7" cy="383.0" rx="17.2" ry="8.1" transform="rotate(49 163.7 383.0)" fill="url(#gw)" opacity="0.015"/>
<ellipse cx="560.7" cy="225.9" rx="11.6" ry="8.8" transform="rotate(60 560.7 225.9)" fill="url(#gw)" opacity="0.023"/>
<ellipse cx="153.9" cy="371.5" rx="11.6" ry="8.8" transform="rotate(60 153.9 371.5)" fill="url(#gw)" opacity="0.023"/>
<ellipse cx="562.7" cy="226.6" rx="11.0" ry="7.5" transform="rotate(60 562.7 226.6)" fill="url(#gw)" opacity="0.031"/>
<ellipse cx="151.9" cy="370.8" rx="11.0" ry="7.5" transform="rotate(60 151.9 370.8)" fill="url(#gw)" opacity="0.031"/>
<ellipse cx="572.0" cy="246.4" rx="17.9" ry="8.3" transform="rotate(60 572.0 246.4)" fill="url(#gw)" opacity="0.021"/>
<ellipse cx="142.6" cy="351.0" rx="17.9" ry="8.3" transform="rotate(60 142.6 351.0)" fill="url(#gw)" opacity="0.021"/>
<ellipse cx="575.4" cy="258.4" rx="17.6" ry="7.0" transform="rotate(61 575.4 258.4)" fill="url(#gw)" opacity="0.020"/>
<ellipse cx="139.2" cy="339.0" rx="17.6" ry="7.0" transform="rotate(61 139.2 339.0)" fill="url(#gw)" opacity="0.020"/>
<ellipse cx="581.6" cy="266.4" rx="11.6" ry="8.9" transform="rotate(61 581.6 266.4)" fill="url(#gw)" opacity="0.023"/>
<ellipse cx="133.0" cy="331.0" rx="11.6" ry="8.9" transform="rotate(61 133.0 331.0)" fill="url(#gw)" opacity="0.023"/>
<ellipse cx="583.3" cy="269.4" rx="14.0" ry="8.6" transform="rotate(61 583.3 269.4)" fill="url(#gw)" opacity="0.017"/>
<ellipse cx="131.3" cy="328.0" rx="14.0" ry="8.6" transform="rotate(61 131.3 328.0)" fill="url(#gw)" opacity="0.017"/>
<ellipse cx="588.5" cy="277.5" rx="14.0" ry="9.3" transform="rotate(61 588.5 277.5)" fill="url(#gw)" opacity="0.019"/>
<ellipse cx="126.1" cy="319.9" rx="14.0" ry="9.3" transform="rotate(61 126.1 319.9)" fill="url(#gw)" opacity="0.019"/>
<ellipse cx="404.2" cy="206.3" rx="15.9" ry="7.4" transform="rotate(17 404.2 206.3)" fill="url(#gw)" opacity="0.017"/>
<ellipse cx="310.4" cy="391.1" rx="15.9" ry="7.4" transform="rotate(17 310.4 391.1)" fill="url(#gw)" opacity="0.017"/>
<ellipse cx="411.4" cy="208.8" rx="16.6" ry="7.3" transform="rotate(17 411.4 208.8)" fill="url(#gw)" opacity="0.032"/>
<ellipse cx="303.2" cy="388.6" rx="16.6" ry="7.3" transform="rotate(17 303.2 388.6)" fill="url(#gw)" opacity="0.032"/>
<ellipse cx="421.8" cy="213.4" rx="12.7" ry="7.6" transform="rotate(17 421.8 213.4)" fill="url(#gw)" opacity="0.021"/>
<ellipse cx="292.8" cy="384.0" rx="12.7" ry="7.6" transform="rotate(17 292.8 384.0)" fill="url(#gw)" opacity="0.021"/>
<ellipse cx="429.3" cy="213.1" rx="16.1" ry="7.6" transform="rotate(17 429.3 213.1)" fill="url(#gw)" opacity="0.012"/>
<ellipse cx="285.3" cy="384.3" rx="16.1" ry="7.6" transform="rotate(17 285.3 384.3)" fill="url(#gw)" opacity="0.012"/>
<ellipse cx="443.1" cy="217.8" rx="16.8" ry="7.0" transform="rotate(17 443.1 217.8)" fill="url(#gw)" opacity="0.016"/>
<ellipse cx="271.5" cy="379.6" rx="16.8" ry="7.0" transform="rotate(17 271.5 379.6)" fill="url(#gw)" opacity="0.016"/>
<ellipse cx="449.4" cy="220.8" rx="11.8" ry="7.8" transform="rotate(17 449.4 220.8)" fill="url(#gw)" opacity="0.025"/>
<ellipse cx="265.2" cy="376.6" rx="11.8" ry="7.8" transform="rotate(17 265.2 376.6)" fill="url(#gw)" opacity="0.025"/>
<ellipse cx="463.8" cy="224.1" rx="11.6" ry="7.1" transform="rotate(17 463.8 224.1)" fill="url(#gw)" opacity="0.013"/>
<ellipse cx="250.8" cy="373.3" rx="11.6" ry="7.1" transform="rotate(17 250.8 373.3)" fill="url(#gw)" opacity="0.013"/>
<ellipse cx="473.3" cy="227.8" rx="14.4" ry="8.4" transform="rotate(17 473.3 227.8)" fill="url(#gw)" opacity="0.018"/>
<ellipse cx="241.3" cy="369.6" rx="14.4" ry="8.4" transform="rotate(17 241.3 369.6)" fill="url(#gw)" opacity="0.018"/>
<ellipse cx="484.9" cy="231.7" rx="13.6" ry="6.8" transform="rotate(32 484.9 231.7)" fill="url(#gw)" opacity="0.016"/>
<ellipse cx="229.7" cy="365.7" rx="13.6" ry="6.8" transform="rotate(32 229.7 365.7)" fill="url(#gw)" opacity="0.016"/>
<ellipse cx="489.5" cy="233.0" rx="15.5" ry="8.3" transform="rotate(32 489.5 233.0)" fill="url(#gw)" opacity="0.027"/>
<ellipse cx="225.1" cy="364.4" rx="15.5" ry="8.3" transform="rotate(32 225.1 364.4)" fill="url(#gw)" opacity="0.027"/>
<ellipse cx="496.8" cy="242.7" rx="11.2" ry="7.7" transform="rotate(32 496.8 242.7)" fill="url(#gw)" opacity="0.024"/>
<ellipse cx="217.8" cy="354.7" rx="11.2" ry="7.7" transform="rotate(32 217.8 354.7)" fill="url(#gw)" opacity="0.024"/>
<ellipse cx="510.8" cy="252.2" rx="11.6" ry="8.8" transform="rotate(74 510.8 252.2)" fill="url(#gw)" opacity="0.023"/>
<ellipse cx="203.8" cy="345.2" rx="11.6" ry="8.8" transform="rotate(74 203.8 345.2)" fill="url(#gw)" opacity="0.023"/>
<ellipse cx="514.2" cy="274.2" rx="11.5" ry="8.6" transform="rotate(74 514.2 274.2)" fill="url(#gw)" opacity="0.020"/>
<ellipse cx="200.4" cy="323.2" rx="11.5" ry="8.6" transform="rotate(74 200.4 323.2)" fill="url(#gw)" opacity="0.020"/>
<ellipse cx="510.5" cy="287.6" rx="11.9" ry="9.2" transform="rotate(104 510.5 287.6)" fill="url(#gw)" opacity="0.028"/>
<ellipse cx="204.1" cy="309.8" rx="11.9" ry="9.2" transform="rotate(104 204.1 309.8)" fill="url(#gw)" opacity="0.028"/>
<ellipse cx="406.5" cy="132.2" rx="14.9" ry="8.6" transform="rotate(14 406.5 132.2)" fill="url(#gw)" opacity="0.011"/>
<ellipse cx="308.1" cy="465.2" rx="14.9" ry="8.6" transform="rotate(14 308.1 465.2)" fill="url(#gw)" opacity="0.011"/>
<ellipse cx="414.7" cy="132.7" rx="11.4" ry="9.3" transform="rotate(14 414.7 132.7)" fill="url(#gw)" opacity="0.015"/>
<ellipse cx="299.9" cy="464.7" rx="11.4" ry="9.3" transform="rotate(14 299.9 464.7)" fill="url(#gw)" opacity="0.015"/>
<ellipse cx="423.0" cy="134.2" rx="14.8" ry="7.4" transform="rotate(14 423.0 134.2)" fill="url(#gw)" opacity="0.017"/>
<ellipse cx="291.6" cy="463.2" rx="14.8" ry="7.4" transform="rotate(14 291.6 463.2)" fill="url(#gw)" opacity="0.017"/>
<ellipse cx="442.0" cy="139.6" rx="11.4" ry="8.9" transform="rotate(14 442.0 139.6)" fill="url(#gw)" opacity="0.018"/>
<ellipse cx="272.6" cy="457.8" rx="11.4" ry="8.9" transform="rotate(14 272.6 457.8)" fill="url(#gw)" opacity="0.018"/>
<ellipse cx="443.8" cy="140.2" rx="16.9" ry="7.2" transform="rotate(18 443.8 140.2)" fill="url(#gw)" opacity="0.017"/>
<ellipse cx="270.8" cy="457.2" rx="16.9" ry="7.2" transform="rotate(18 270.8 457.2)" fill="url(#gw)" opacity="0.017"/>
<ellipse cx="455.8" cy="145.3" rx="18.1" ry="9.2" transform="rotate(18 455.8 145.3)" fill="url(#gw)" opacity="0.010"/>
<ellipse cx="258.8" cy="452.1" rx="18.1" ry="9.2" transform="rotate(18 258.8 452.1)" fill="url(#gw)" opacity="0.010"/>
<ellipse cx="465.7" cy="151.1" rx="13.4" ry="8.3" transform="rotate(18 465.7 151.1)" fill="url(#gw)" opacity="0.021"/>
<ellipse cx="248.9" cy="446.3" rx="13.4" ry="8.3" transform="rotate(18 248.9 446.3)" fill="url(#gw)" opacity="0.021"/>
<ellipse cx="479.1" cy="156.0" rx="11.5" ry="7.8" transform="rotate(36 479.1 156.0)" fill="url(#gw)" opacity="0.015"/>
<ellipse cx="235.5" cy="441.4" rx="11.5" ry="7.8" transform="rotate(36 235.5 441.4)" fill="url(#gw)" opacity="0.015"/>
<ellipse cx="486.6" cy="163.2" rx="14.8" ry="7.6" transform="rotate(36 486.6 163.2)" fill="url(#gw)" opacity="0.011"/>
<ellipse cx="228.0" cy="434.2" rx="14.8" ry="7.6" transform="rotate(36 228.0 434.2)" fill="url(#gw)" opacity="0.011"/>
<ellipse cx="498.7" cy="169.9" rx="17.9" ry="8.3" transform="rotate(36 498.7 169.9)" fill="url(#gw)" opacity="0.009"/>
<ellipse cx="215.9" cy="427.5" rx="17.9" ry="8.3" transform="rotate(36 215.9 427.5)" fill="url(#gw)" opacity="0.009"/>
<ellipse cx="422.8" cy="72.1" rx="16.3" ry="8.7" transform="rotate(11 422.8 72.1)" fill="url(#gw)" opacity="0.020"/>
<ellipse cx="291.8" cy="525.3" rx="16.3" ry="8.7" transform="rotate(11 291.8 525.3)" fill="url(#gw)" opacity="0.020"/>
<ellipse cx="437.9" cy="72.9" rx="13.6" ry="7.9" transform="rotate(11 437.9 72.9)" fill="url(#gw)" opacity="0.023"/>
<ellipse cx="276.7" cy="524.5" rx="13.6" ry="7.9" transform="rotate(11 276.7 524.5)" fill="url(#gw)" opacity="0.023"/>
<ellipse cx="447.3" cy="74.0" rx="13.8" ry="9.1" transform="rotate(11 447.3 74.0)" fill="url(#gw)" opacity="0.017"/>
<ellipse cx="267.3" cy="523.4" rx="13.8" ry="9.1" transform="rotate(11 267.3 523.4)" fill="url(#gw)" opacity="0.017"/>
<ellipse cx="455.6" cy="77.5" rx="16.1" ry="8.3" transform="rotate(11 455.6 77.5)" fill="url(#gw)" opacity="0.024"/>
<ellipse cx="259.0" cy="519.9" rx="16.1" ry="8.3" transform="rotate(11 259.0 519.9)" fill="url(#gw)" opacity="0.024"/>
<ellipse cx="466.8" cy="81.5" rx="11.4" ry="7.9" transform="rotate(11 466.8 81.5)" fill="url(#gw)" opacity="0.007"/>
<ellipse cx="247.8" cy="515.9" rx="11.4" ry="7.9" transform="rotate(11 247.8 515.9)" fill="url(#gw)" opacity="0.007"/>
<ellipse cx="474.6" cy="81.5" rx="14.5" ry="7.4" transform="rotate(13 474.6 81.5)" fill="url(#gw)" opacity="0.020"/>
<ellipse cx="240.0" cy="515.9" rx="14.5" ry="7.4" transform="rotate(13 240.0 515.9)" fill="url(#gw)" opacity="0.020"/>
<ellipse cx="482.1" cy="83.9" rx="17.5" ry="9.3" transform="rotate(13 482.1 83.9)" fill="url(#gw)" opacity="0.007"/>
<ellipse cx="232.5" cy="513.5" rx="17.5" ry="9.3" transform="rotate(13 232.5 513.5)" fill="url(#gw)" opacity="0.007"/>
<ellipse cx="497.8" cy="85.2" rx="12.1" ry="8.7" transform="rotate(13 497.8 85.2)" fill="url(#gw)" opacity="0.022"/>
<ellipse cx="216.8" cy="512.2" rx="12.1" ry="8.7" transform="rotate(13 216.8 512.2)" fill="url(#gw)" opacity="0.022"/>
<ellipse cx="506.3" cy="88.1" rx="11.4" ry="8.2" transform="rotate(13 506.3 88.1)" fill="url(#gw)" opacity="0.022"/>
<ellipse cx="208.3" cy="509.3" rx="11.4" ry="8.2" transform="rotate(13 208.3 509.3)" fill="url(#gw)" opacity="0.022"/>
<ellipse cx="520.7" cy="91.9" rx="12.9" ry="6.9" transform="rotate(13 520.7 91.9)" fill="url(#gw)" opacity="0.012"/>
<ellipse cx="193.9" cy="505.5" rx="12.9" ry="6.9" transform="rotate(13 193.9 505.5)" fill="url(#gw)" opacity="0.012"/>
<ellipse cx="529.6" cy="95.0" rx="15.0" ry="6.9" transform="rotate(27 529.6 95.0)" fill="url(#gw)" opacity="0.013"/>
<ellipse cx="185.0" cy="502.4" rx="15.0" ry="6.9" transform="rotate(27 185.0 502.4)" fill="url(#gw)" opacity="0.013"/>
<ellipse cx="531.4" cy="96.3" rx="17.7" ry="9.3" transform="rotate(27 531.4 96.3)" fill="url(#gw)" opacity="0.016"/>
<ellipse cx="183.2" cy="501.1" rx="17.7" ry="9.3" transform="rotate(27 183.2 501.1)" fill="url(#gw)" opacity="0.016"/>
<ellipse cx="545.1" cy="105.7" rx="17.4" ry="7.3" transform="rotate(27 545.1 105.7)" fill="url(#gw)" opacity="0.024"/>
<ellipse cx="169.5" cy="491.7" rx="17.4" ry="7.3" transform="rotate(27 169.5 491.7)" fill="url(#gw)" opacity="0.024"/>
<ellipse cx="557.3" cy="112.6" rx="17.3" ry="9.3" transform="rotate(27 557.3 112.6)" fill="url(#gw)" opacity="0.009"/>
<ellipse cx="157.3" cy="484.8" rx="17.3" ry="9.3" transform="rotate(27 157.3 484.8)" fill="url(#gw)" opacity="0.009"/>
<ellipse cx="561.1" cy="112.6" rx="10.8" ry="7.0" transform="rotate(38 561.1 112.6)" fill="url(#gw)" opacity="0.024"/>
<ellipse cx="153.5" cy="484.8" rx="10.8" ry="7.0" transform="rotate(38 153.5 484.8)" fill="url(#gw)" opacity="0.024"/>
<ellipse cx="574.2" cy="127.3" rx="16.0" ry="7.1" transform="rotate(38 574.2 127.3)" fill="url(#gw)" opacity="0.023"/>
<ellipse cx="140.4" cy="470.1" rx="16.0" ry="7.1" transform="rotate(38 140.4 470.1)" fill="url(#gw)" opacity="0.023"/>
<ellipse cx="585.9" cy="130.2" rx="12.1" ry="7.6" transform="rotate(38 585.9 130.2)" fill="url(#gw)" opacity="0.008"/>
<ellipse cx="128.7" cy="467.2" rx="12.1" ry="7.6" transform="rotate(38 128.7 467.2)" fill="url(#gw)" opacity="0.008"/>
<ellipse cx="593.7" cy="138.9" rx="15.6" ry="8.8" transform="rotate(38 593.7 138.9)" fill="url(#gw)" opacity="0.011"/>
<ellipse cx="120.9" cy="458.5" rx="15.6" ry="8.8" transform="rotate(38 120.9 458.5)" fill="url(#gw)" opacity="0.011"/>
<ellipse cx="402.0" cy="248.3" rx="12.2" ry="7.5" transform="rotate(17 402.0 248.3)" fill="url(#gw)" opacity="0.018"/>
<ellipse cx="312.6" cy="349.1" rx="12.2" ry="7.5" transform="rotate(17 312.6 349.1)" fill="url(#gw)" opacity="0.018"/>
<ellipse cx="418.6" cy="254.7" rx="11.1" ry="9.3" transform="rotate(17 418.6 254.7)" fill="url(#gw)" opacity="0.019"/>
<ellipse cx="296.0" cy="342.7" rx="11.1" ry="9.3" transform="rotate(17 296.0 342.7)" fill="url(#gw)" opacity="0.019"/>
<ellipse cx="422.5" cy="257.0" rx="15.1" ry="7.5" transform="rotate(17 422.5 257.0)" fill="url(#gw)" opacity="0.007"/>
<ellipse cx="292.1" cy="340.4" rx="15.1" ry="7.5" transform="rotate(17 292.1 340.4)" fill="url(#gw)" opacity="0.007"/>
<ellipse cx="432.7" cy="259.1" rx="16.3" ry="7.4" transform="rotate(17 432.7 259.1)" fill="url(#gw)" opacity="0.012"/>
<ellipse cx="281.9" cy="338.3" rx="16.3" ry="7.4" transform="rotate(17 281.9 338.3)" fill="url(#gw)" opacity="0.012"/>
<ellipse cx="441.8" cy="263.4" rx="18.1" ry="6.8" transform="rotate(31 441.8 263.4)" fill="url(#gw)" opacity="0.024"/>
<ellipse cx="272.8" cy="334.0" rx="18.1" ry="6.8" transform="rotate(31 272.8 334.0)" fill="url(#gw)" opacity="0.024"/>
<ellipse cx="454.6" cy="269.2" rx="14.3" ry="7.2" transform="rotate(31 454.6 269.2)" fill="url(#gw)" opacity="0.025"/>
<ellipse cx="260.0" cy="328.2" rx="14.3" ry="7.2" transform="rotate(31 260.0 328.2)" fill="url(#gw)" opacity="0.025"/>
<ellipse cx="464.6" cy="276.1" rx="16.5" ry="8.1" transform="rotate(31 464.6 276.1)" fill="url(#gw)" opacity="0.019"/>
<ellipse cx="250.0" cy="321.3" rx="16.5" ry="8.1" transform="rotate(31 250.0 321.3)" fill="url(#gw)" opacity="0.019"/>
<ellipse cx="476.9" cy="284.1" rx="17.8" ry="7.2" transform="rotate(47 476.9 284.1)" fill="url(#gw)" opacity="0.016"/>
<ellipse cx="237.7" cy="313.3" rx="17.8" ry="7.2" transform="rotate(47 237.7 313.3)" fill="url(#gw)" opacity="0.016"/>
<ellipse cx="358.7" cy="153.3" rx="15.6" ry="23.4" transform="rotate(15 358.7 153.3)" fill="url(#gk)" opacity="0.600"/>
<ellipse cx="392.0" cy="94.0" rx="13.0" ry="13.0" fill="url(#gk)" opacity="0.500"/>
<ellipse cx="378.0" cy="177.0" rx="10.4" ry="13.0" fill="url(#gk)" opacity="0.500"/>
<ellipse cx="358.0" cy="187.0" rx="13.0" ry="10.4" fill="url(#gk)" opacity="0.500"/>
<ellipse cx="358.7" cy="353.0" rx="13.0" ry="15.6" fill="url(#gk)" opacity="0.500"/>
<ellipse cx="348.0" cy="260.0" rx="13.0" ry="15.6" fill="url(#gk)" opacity="0.450"/>
<ellipse cx="369.0" cy="337.0" rx="15.6" ry="15.6" fill="url(#gk)" opacity="0.450"/>
<ellipse cx="340.0" cy="290.0" rx="15.6" ry="10.4" transform="rotate(20 340.0 290.0)" fill="url(#gk)" opacity="0.350"/>
<ellipse cx="372.0" cy="310.0" rx="13.0" ry="10.4" transform="rotate(20 372.0 310.0)" fill="url(#gk)" opacity="0.350"/>
<ellipse cx="353.0" cy="441.0" rx="13.0" ry="18.2" fill="url(#gk)" opacity="0.500"/>
<ellipse cx="336.0" cy="420.0" rx="10.4" ry="13.0" fill="url(#gk)" opacity="0.450"/>
<ellipse cx="333.0" cy="468.0" rx="13.0" ry="13.0" fill="url(#gk)" opacity="0.450"/>
<ellipse cx="313.0" cy="501.0" rx="13.0" ry="13.0" fill="url(#gk)" opacity="0.450"/>
<ellipse cx="505.0" cy="405.0" rx="10.4" ry="13.0" transform="rotate(30 505.0 405.0)" fill="url(#gk)" opacity="0.400"/>
<ellipse cx="218.1" cy="200.5" rx="12.8" ry="12.8" fill="url(#gw)" opacity="0.332"/>
<ellipse cx="174.1" cy="169.9" rx="18.6" ry="10.8" transform="rotate(45 174.1 169.9)" fill="url(#gw)" opacity="0.221"/>
<ellipse cx="240.0" cy="64.0" rx="13.5" ry="13.5" fill="url(#gw)" opacity="0.170"/>
<ellipse cx="262.7" cy="68.0" rx="13.5" ry="13.5" fill="url(#gw)" opacity="0.153"/>
<ellipse cx="194.7" cy="64.8" rx="13.5" ry="13.5" fill="url(#gw)" opacity="0.102"/>
<ellipse cx="224.0" cy="101.3" rx="12.2" ry="12.2" fill="url(#gw)" opacity="0.102"/>
<ellipse cx="254.7" cy="99.5" rx="12.2" ry="12.2" fill="url(#gw)" opacity="0.102"/>
<ellipse cx="224.0" cy="119.0" rx="12.2" ry="12.2" fill="url(#gw)" opacity="0.085"/>
<ellipse cx="172.0" cy="124.0" rx="16.9" ry="10.1" transform="rotate(40 172.0 124.0)" fill="url(#gw)" opacity="0.085"/>
<ellipse cx="209.3" cy="144.8" rx="13.5" ry="10.1" transform="rotate(45 209.3 144.8)" fill="url(#gw)" opacity="0.085"/>
<ellipse cx="148.0" cy="126.7" rx="16.9" ry="10.1" transform="rotate(40 148.0 126.7)" fill="url(#gw)" opacity="0.068"/>
<ellipse cx="188.0" cy="193.0" rx="20.3" ry="10.1" transform="rotate(20 188.0 193.0)" fill="url(#gw)" opacity="0.085"/>
<ellipse cx="238.7" cy="205.0" rx="12.2" ry="12.2" fill="url(#gw)" opacity="0.085"/>
<ellipse cx="244.0" cy="217.0" rx="13.5" ry="10.1" transform="rotate(30 244.0 217.0)" fill="url(#gw)" opacity="0.128"/>
<ellipse cx="384.0" cy="66.0" rx="15.2" ry="23.7" transform="rotate(-10 384.0 66.0)" fill="url(#gw)" opacity="0.255"/>
<ellipse cx="384.0" cy="89.9" rx="14.2" ry="14.2" fill="url(#gw)" opacity="0.272"/>
<ellipse cx="393.3" cy="104.0" rx="13.5" ry="10.1" fill="url(#gw)" opacity="0.170"/>
<ellipse cx="370.7" cy="116.0" rx="13.5" ry="11.8" fill="url(#gw)" opacity="0.170"/>
<ellipse cx="366.7" cy="132.5" rx="11.8" ry="13.5" fill="url(#gw)" opacity="0.153"/>
<ellipse cx="376.0" cy="148.0" rx="10.8" ry="16.9" transform="rotate(-20 376.0 148.0)" fill="url(#gw)" opacity="0.170"/>
<ellipse cx="380.5" cy="159.2" rx="12.8" ry="12.8" fill="url(#gw)" opacity="0.255"/>
<ellipse cx="375.2" cy="191.5" rx="12.8" ry="12.8" fill="url(#gw)" opacity="0.332"/>
<ellipse cx="363.5" cy="198.7" rx="12.2" ry="12.2" fill="url(#gw)" opacity="0.212"/>
<ellipse cx="369.3" cy="212.5" rx="16.9" ry="10.1" transform="rotate(-20 369.3 212.5)" fill="url(#gw)" opacity="0.128"/>
<ellipse cx="304.0" cy="94.7" rx="27.0" ry="10.1" transform="rotate(18 304.0 94.7)" fill="url(#gw)" opacity="0.153"/>
<ellipse cx="320.0" cy="100.0" rx="20.3" ry="10.1" transform="rotate(18 320.0 100.0)" fill="url(#gw)" opacity="0.085"/>
<ellipse cx="329.3" cy="114.7" rx="27.0" ry="10.1" transform="rotate(18 329.3 114.7)" fill="url(#gw)" opacity="0.128"/>
<ellipse cx="345.0" cy="120.0" rx="16.9" ry="10.1" transform="rotate(18 345.0 120.0)" fill="url(#gw)" opacity="0.102"/>
<ellipse cx="364.0" cy="174.7" rx="10.1" ry="16.9" transform="rotate(20 364.0 174.7)" fill="url(#gw)" opacity="0.128"/>
<ellipse cx="501.3" cy="182.0" rx="16.9" ry="10.8" transform="rotate(20 501.3 182.0)" fill="url(#gw)" opacity="0.170"/>
<ellipse cx="549.3" cy="132.0" rx="16.9" ry="11.8" transform="rotate(45 549.3 132.0)" fill="url(#gw)" opacity="0.102"/>
<ellipse cx="522.7" cy="122.7" rx="13.5" ry="10.1" transform="rotate(50 522.7 122.7)" fill="url(#gw)" opacity="0.085"/>
<ellipse cx="498.7" cy="108.0" rx="16.9" ry="10.1" transform="rotate(25 498.7 108.0)" fill="url(#gw)" opacity="0.085"/>
<ellipse cx="460.0" cy="152.0" rx="16.9" ry="10.1" transform="rotate(25 460.0 152.0)" fill="url(#gw)" opacity="0.085"/>
<ellipse cx="533.3" cy="182.0" rx="16.9" ry="10.1" transform="rotate(20 533.3 182.0)" fill="url(#gw)" opacity="0.085"/>
<ellipse cx="533.0" cy="204.0" rx="13.5" ry="10.1" transform="rotate(45 533.0 204.0)" fill="url(#gw)" opacity="0.085"/>
<ellipse cx="566.7" cy="158.7" rx="16.9" ry="10.1" transform="rotate(40 566.7 158.7)" fill="url(#gw)" opacity="0.085"/>
<ellipse cx="441.0" cy="193.0" rx="16.9" ry="10.1" transform="rotate(20 441.0 193.0)" fill="url(#gw)" opacity="0.085"/>
<ellipse cx="437.0" cy="137.0" rx="13.5" ry="10.1" transform="rotate(30 437.0 137.0)" fill="url(#gw)" opacity="0.085"/>
<ellipse cx="150.7" cy="309.3" rx="37.2" ry="14.2" transform="rotate(12 150.7 309.3)" fill="url(#gw)" opacity="0.230"/>
<ellipse cx="200.0" cy="307.5" rx="12.8" ry="12.8" fill="url(#gw)" opacity="0.221"/>
<ellipse cx="209.3" cy="299.5" rx="11.8" ry="11.8" fill="url(#gw)" opacity="0.128"/>
<ellipse cx="173.3" cy="298.7" rx="20.3" ry="10.8" transform="rotate(25 173.3 298.7)" fill="url(#gw)" opacity="0.128"/>
<ellipse cx="230.7" cy="304.8" rx="20.3" ry="11.8" transform="rotate(-15 230.7 304.8)" fill="url(#gw)" opacity="0.128"/>
<ellipse cx="246.7" cy="221.3" rx="15.2" ry="11.8" fill="url(#gw)" opacity="0.170"/>
<ellipse cx="132.0" cy="361.0" rx="23.7" ry="11.8" transform="rotate(40 132.0 361.0)" fill="url(#gw)" opacity="0.170"/>
<ellipse cx="196.0" cy="337.0" rx="27.0" ry="11.8" transform="rotate(60 196.0 337.0)" fill="url(#gw)" opacity="0.085"/>
<ellipse cx="218.7" cy="246.7" rx="16.9" ry="11.8" transform="rotate(50 218.7 246.7)" fill="url(#gw)" opacity="0.068"/>
<ellipse cx="193.0" cy="232.0" rx="13.5" ry="10.1" transform="rotate(40 193.0 232.0)" fill="url(#gw)" opacity="0.068"/>
<ellipse cx="273.0" cy="302.7" rx="16.9" ry="11.8" transform="rotate(10 273.0 302.7)" fill="url(#gw)" opacity="0.128"/>
<ellipse cx="255.0" cy="300.0" rx="20.3" ry="10.1" fill="url(#gw)" opacity="0.068"/>
<ellipse cx="361.3" cy="264.0" rx="12.2" ry="15.2" fill="url(#gw)" opacity="0.170"/>
<ellipse cx="368.0" cy="246.0" rx="12.2" ry="14.2" transform="rotate(-20 368.0 246.0)" fill="url(#gw)" opacity="0.128"/>
<ellipse cx="352.0" cy="282.7" rx="13.5" ry="10.8" transform="rotate(30 352.0 282.7)" fill="url(#gw)" opacity="0.170"/>
<ellipse cx="330.7" cy="279.0" rx="16.9" ry="10.8" transform="rotate(30 330.7 279.0)" fill="url(#gw)" opacity="0.128"/>
<ellipse cx="310.7" cy="266.7" rx="16.9" ry="10.8" transform="rotate(30 310.7 266.7)" fill="url(#gw)" opacity="0.102"/>
<ellipse cx="289.0" cy="253.0" rx="16.9" ry="10.8" transform="rotate(35 289.0 253.0)" fill="url(#gw)" opacity="0.102"/>
<ellipse cx="328.0" cy="299.5" rx="15.2" ry="11.8" fill="url(#gw)" opacity="0.128"/>
<ellipse cx="306.7" cy="299.5" rx="16.9" ry="10.8" fill="url(#gw)" opacity="0.102"/>
<ellipse cx="281.0" cy="304.0" rx="16.9" ry="10.8" transform="rotate(10 281.0 304.0)" fill="url(#gw)" opacity="0.102"/>
<ellipse cx="377.0" cy="300.0" rx="13.5" ry="10.1" fill="url(#gw)" opacity="0.102"/>
<ellipse cx="406.7" cy="297.0" rx="20.3" ry="10.8" transform="rotate(5 406.7 297.0)" fill="url(#gw)" opacity="0.128"/>
<ellipse cx="433.0" cy="292.0" rx="16.9" ry="10.8" transform="rotate(10 433.0 292.0)" fill="url(#gw)" opacity="0.153"/>
<ellipse cx="356.0" cy="317.0" rx="12.2" ry="15.2" fill="url(#gw)" opacity="0.170"/>
<ellipse cx="352.0" cy="333.0" rx="11.8" ry="15.2" transform="rotate(10 352.0 333.0)" fill="url(#gw)" opacity="0.170"/>
<ellipse cx="346.7" cy="350.7" rx="11.8" ry="15.2" transform="rotate(15 346.7 350.7)" fill="url(#gw)" opacity="0.128"/>
<ellipse cx="382.7" cy="317.0" rx="16.9" ry="11.8" transform="rotate(35 382.7 317.0)" fill="url(#gw)" opacity="0.153"/>
<ellipse cx="404.0" cy="330.7" rx="16.9" ry="11.5" transform="rotate(35 404.0 330.7)" fill="url(#gw)" opacity="0.128"/>
<ellipse cx="422.7" cy="337.0" rx="16.9" ry="10.8" transform="rotate(25 422.7 337.0)" fill="url(#gw)" opacity="0.102"/>
<ellipse cx="564.0" cy="287.5" rx="33.8" ry="13.5" transform="rotate(14 564.0 287.5)" fill="url(#gw)" opacity="0.255"/>
<ellipse cx="513.3" cy="288.0" rx="13.5" ry="11.5" transform="rotate(15 513.3 288.0)" fill="url(#gw)" opacity="0.221"/>
<ellipse cx="481.3" cy="292.0" rx="16.9" ry="11.8" transform="rotate(-20 481.3 292.0)" fill="url(#gw)" opacity="0.153"/>
<ellipse cx="504.0" cy="297.0" rx="11.8" ry="11.8" fill="url(#gw)" opacity="0.128"/>
<ellipse cx="437.0" cy="292.0" rx="13.5" ry="11.5" fill="url(#gw)" opacity="0.153"/>
<ellipse cx="517.0" cy="252.0" rx="23.7" ry="11.5" transform="rotate(60 517.0 252.0)" fill="url(#gw)" opacity="0.102"/>
<ellipse cx="581.0" cy="236.0" rx="27.0" ry="11.8" transform="rotate(42 581.0 236.0)" fill="url(#gw)" opacity="0.153"/>
<ellipse cx="469.0" cy="376.0" rx="13.5" ry="11.5" fill="url(#gw)" opacity="0.170"/>
<ellipse cx="542.7" cy="297.0" rx="16.9" ry="10.1" transform="rotate(15 542.7 297.0)" fill="url(#gw)" opacity="0.085"/>
<ellipse cx="493.0" cy="348.0" rx="16.9" ry="10.1" transform="rotate(50 493.0 348.0)" fill="url(#gw)" opacity="0.068"/>
<ellipse cx="455.0" cy="296.0" rx="16.9" ry="10.1" fill="url(#gw)" opacity="0.085"/>
<ellipse cx="212.0" cy="414.7" rx="16.9" ry="11.5" transform="rotate(10 212.0 414.7)" fill="url(#gw)" opacity="0.128"/>
<ellipse cx="181.3" cy="414.7" rx="16.9" ry="11.5" transform="rotate(10 181.3 414.7)" fill="url(#gw)" opacity="0.102"/>
<ellipse cx="181.0" cy="392.0" rx="13.5" ry="10.8" transform="rotate(30 181.0 392.0)" fill="url(#gw)" opacity="0.085"/>
<ellipse cx="165.0" cy="462.7" rx="13.5" ry="11.8" transform="rotate(40 165.0 462.7)" fill="url(#gw)" opacity="0.102"/>
<ellipse cx="146.7" cy="437.0" rx="16.9" ry="10.8" transform="rotate(40 146.7 437.0)" fill="url(#gw)" opacity="0.085"/>
<ellipse cx="254.7" cy="445.0" rx="16.9" ry="11.5" transform="rotate(35 254.7 445.0)" fill="url(#gw)" opacity="0.085"/>
<ellipse cx="192.0" cy="473.0" rx="13.5" ry="13.5" fill="url(#gw)" opacity="0.068"/>
<ellipse cx="216.0" cy="486.7" rx="16.9" ry="10.1" transform="rotate(20 216.0 486.7)" fill="url(#gw)" opacity="0.068"/>
<ellipse cx="272.0" cy="402.7" rx="16.9" ry="10.1" transform="rotate(20 272.0 402.7)" fill="url(#gw)" opacity="0.085"/>
<ellipse cx="338.7" cy="405.3" rx="12.8" ry="12.8" fill="url(#gw)" opacity="0.332"/>
<ellipse cx="349.3" cy="398.7" rx="13.5" ry="10.8" transform="rotate(-25 349.3 398.7)" fill="url(#gw)" opacity="0.170"/>
<ellipse cx="342.7" cy="384.0" rx="16.9" ry="10.1" transform="rotate(-10 342.7 384.0)" fill="url(#gw)" opacity="0.128"/>
<ellipse cx="333.3" cy="437.3" rx="12.2" ry="14.2" fill="url(#gw)" opacity="0.255"/>
<ellipse cx="340.0" cy="449.0" rx="11.5" ry="13.5" transform="rotate(-20 340.0 449.0)" fill="url(#gw)" opacity="0.170"/>
<ellipse cx="348.0" cy="462.7" rx="12.2" ry="12.2" fill="url(#gw)" opacity="0.153"/>
<ellipse cx="342.7" cy="480.0" rx="13.5" ry="11.8" fill="url(#gw)" opacity="0.153"/>
<ellipse cx="321.3" cy="492.0" rx="15.2" ry="10.8" fill="url(#gw)" opacity="0.153"/>
<ellipse cx="329.3" cy="506.7" rx="13.5" ry="12.2" fill="url(#gw)" opacity="0.255"/>
<ellipse cx="321.0" cy="512.0" rx="11.8" ry="13.5" fill="url(#gw)" opacity="0.170"/>
<ellipse cx="329.0" cy="529.0" rx="12.2" ry="18.6" transform="rotate(-10 329.0 529.0)" fill="url(#gw)" opacity="0.255"/>
<ellipse cx="320.0" cy="537.0" rx="16.9" ry="11.8" fill="url(#gw)" opacity="0.212"/>
<ellipse cx="346.7" cy="420.0" rx="10.8" ry="13.5" fill="url(#gw)" opacity="0.102"/>
<ellipse cx="382.7" cy="482.7" rx="20.3" ry="10.8" transform="rotate(25 382.7 482.7)" fill="url(#gw)" opacity="0.128"/>
<ellipse cx="398.0" cy="494.0" rx="20.3" ry="10.8" transform="rotate(30 398.0 494.0)" fill="url(#gw)" opacity="0.102"/>
<ellipse cx="409.0" cy="501.0" rx="16.9" ry="10.8" transform="rotate(30 409.0 501.0)" fill="url(#gw)" opacity="0.102"/>
<ellipse cx="369.0" cy="478.7" rx="16.9" ry="10.8" transform="rotate(20 369.0 478.7)" fill="url(#gw)" opacity="0.102"/>
<ellipse cx="289.0" cy="406.7" rx="16.9" ry="10.8" transform="rotate(10 289.0 406.7)" fill="url(#gw)" opacity="0.102"/>
<ellipse cx="310.7" cy="409.0" rx="16.9" ry="10.8" transform="rotate(10 310.7 409.0)" fill="url(#gw)" opacity="0.102"/>
<ellipse cx="496.0" cy="395.5" rx="12.8" ry="12.8" fill="url(#gw)" opacity="0.332"/>
<ellipse cx="538.7" cy="424.8" rx="22.0" ry="11.5" transform="rotate(45 538.7 424.8)" fill="url(#gw)" opacity="0.230"/>
<ellipse cx="474.7" cy="390.7" rx="13.5" ry="11.5" transform="rotate(30 474.7 390.7)" fill="url(#gw)" opacity="0.128"/>
<ellipse cx="505.0" cy="452.0" rx="13.5" ry="11.5" transform="rotate(45 505.0 452.0)" fill="url(#gw)" opacity="0.102"/>
<ellipse cx="542.7" cy="472.0" rx="13.5" ry="11.5" transform="rotate(40 542.7 472.0)" fill="url(#gw)" opacity="0.085"/>
<ellipse cx="490.7" cy="477.0" rx="13.5" ry="10.8" fill="url(#gw)" opacity="0.085"/>
<ellipse cx="473.0" cy="533.0" rx="13.5" ry="13.5" fill="url(#gw)" opacity="0.170"/>
<ellipse cx="452.0" cy="528.0" rx="15.2" ry="12.2" fill="url(#gw)" opacity="0.153"/>
<ellipse cx="520.0" cy="532.0" rx="13.5" ry="11.5" fill="url(#gw)" opacity="0.102"/>
<ellipse cx="489.0" cy="496.0" rx="11.8" ry="11.8" fill="url(#gw)" opacity="0.085"/>
<ellipse cx="458.7" cy="497.0" rx="11.8" ry="11.8" fill="url(#gw)" opacity="0.085"/>
<ellipse cx="486.7" cy="516.0" rx="11.8" ry="11.8" fill="url(#gw)" opacity="0.068"/>
<ellipse cx="521.0" cy="401.0" rx="20.3" ry="10.8" transform="rotate(10 521.0 401.0)" fill="url(#gw)" opacity="0.102"/>
<ellipse cx="566.7" cy="470.7" rx="16.9" ry="10.8" transform="rotate(45 566.7 470.7)" fill="url(#gw)" opacity="0.068"/>
<ellipse cx="566.0" cy="450.0" rx="16.9" ry="10.8" transform="rotate(45 566.0 450.0)" fill="url(#gw)" opacity="0.068"/>
<ellipse cx="357.1" cy="299.0" rx="17.2" ry="10.9" transform="rotate(12 357.1 299.0)" fill="url(#gw)" opacity="1.000"/>
<ellipse cx="357.1" cy="299.0" rx="10.9" ry="6.8" transform="rotate(12 357.1 299.0)" fill="url(#gw)" opacity="0.550"/>
</g>
</g>
<ellipse cx="164" cy="492" rx="7.3" ry="5.0" transform="rotate(14 164 492)" fill="none" stroke="#ff0" stroke-width="1.3"/>
<g stroke="#fff" stroke-width="0.9" fill="none"><path d="M557.5 61v5.5M557.5 540v-5.5M117 500.5h5.5M596 500.5h-5.5"/><path d="M490.5 61v5.5M490.5 540v-5.5M117 433.5h5.5M596 433.5h-5.5"/><path d="M423.5 61v5.5M423.5 540v-5.5M117 366.5h5.5M596 366.5h-5.5"/><path d="M357.5 61v5.5M357.5 540v-5.5M117 299.5h5.5M596 299.5h-5.5"/><path d="M290.5 61v5.5M290.5 540v-5.5M117 233.5h5.5M596 233.5h-5.5"/><path d="M223.5 61v5.5M223.5 540v-5.5M117 166.5h5.5M596 166.5h-5.5"/><path d="M156.5 61v5.5M156.5 540v-5.5M117 99.5h5.5M596 99.5h-5.5"/></g>
<rect x="116.5" y="60.5" width="480" height="480" fill="none" stroke="#000" stroke-width="1.2"/>
<rect x="628" y="180.5" width="11.5" height="239.8" fill="url(#cb)"/>
<path d="M639.5 398.5h-5.5M639.5 365.5h-5.5M639.5 333.5h-5.5M639.5 300.5h-5.5M639.5 267.5h-5.5M639.5 234.5h-5.5M639.5 202.5h-5.5" stroke="#000" stroke-width="0.9" fill="none"/>
<rect x="627.6" y="180.5" width="12" height="240" fill="none" stroke="#000" stroke-width="1.2"/>
<rect x="135.5" y="9.6" width="412" height="33.6" fill="#fff" stroke="#000" stroke-width="1.1"/>
<g opacity="0.999" style="text-rendering:geometricPrecision" stroke="#000" stroke-width="0.22">
<text x="142.3" y="29.9" font-size="17.20" textLength="66.2" lengthAdjust="spacing">type:psf</text>
<text x="220.4" y="29.9" font-size="17.20" textLength="109.3" lengthAdjust="spacing" fill="#f00" stroke="#f00">display:mean</text>
<text x="338.3" y="29.9" font-size="17.20" textLength="94.0" lengthAdjust="spacing">field:3C286</text>
<text x="442.3" y="29.9" font-size="17.20" textLength="45.3" lengthAdjust="spacing">spw:7</text>
<text x="496.6" y="29.9" font-size="17.20" textLength="42.5" lengthAdjust="spacing">iter:0</text>
<text x="254.6" y="573.0" font-size="17.20" textLength="204.0" lengthAdjust="spacing">Right Ascension (arcsec)</text>
<text transform="translate(88.5 382.2) rotate(-90)" font-size="17.20" textLength="165.3" lengthAdjust="spacing">Declination (arcsec)</text>
<text x="557.2" y="552.2" font-size="9.80" text-anchor="middle">−3</text>
<text x="111.3" y="502.7" font-size="9.80" text-anchor="end">−3</text>
<text x="490.4" y="552.2" font-size="9.80" text-anchor="middle">−2</text>
<text x="111.3" y="435.9" font-size="9.80" text-anchor="end">−2</text>
<text x="423.5" y="552.2" font-size="9.80" text-anchor="middle">−1</text>
<text x="111.3" y="369.0" font-size="9.80" text-anchor="end">−1</text>
<text x="356.7" y="552.2" font-size="9.80" text-anchor="middle">0</text>
<text x="111.3" y="302.2" font-size="9.80" text-anchor="end">0</text>
<text x="289.9" y="552.2" font-size="9.80" text-anchor="middle">1</text>
<text x="111.3" y="235.4" font-size="9.80" text-anchor="end">1</text>
<text x="223.0" y="552.2" font-size="9.80" text-anchor="middle">2</text>
<text x="111.3" y="168.5" font-size="9.80" text-anchor="end">2</text>
<text x="156.2" y="552.2" font-size="9.80" text-anchor="middle">3</text>
<text x="111.3" y="101.7" font-size="9.80" text-anchor="end">3</text>
<text x="644.6" y="401.6" font-size="11.60" textLength="23.4" lengthAdjust="spacing">0.00</text>
<text x="644.6" y="368.9" font-size="11.60" textLength="23.4" lengthAdjust="spacing">0.15</text>
<text x="644.6" y="336.2" font-size="11.60" textLength="23.4" lengthAdjust="spacing">0.30</text>
<text x="644.6" y="303.5" font-size="11.60" textLength="23.4" lengthAdjust="spacing">0.45</text>
<text x="644.6" y="270.8" font-size="11.60" textLength="23.4" lengthAdjust="spacing">0.60</text>
<text x="644.6" y="238.1" font-size="11.60" textLength="23.4" lengthAdjust="spacing">0.75</text>
<text x="644.6" y="205.4" font-size="11.60" textLength="23.4" lengthAdjust="spacing">0.90</text>
<text x="619.6" y="494.7" font-size="11.40" textLength="106.4" lengthAdjust="spacing">Reference position:</text>
<text x="619.6" y="512.4" font-size="9.30" textLength="163.8" lengthAdjust="spacing">Right Ascension: 13:31:08.27900000</text>
<text x="619.6" y="529.9" font-size="9.30" textLength="150.2" lengthAdjust="spacing">Declination: +30.30.32.88200000</text>
<text x="619.6" y="544.6" font-size="9.30" textLength="37.4" lengthAdjust="spacing">Stokes: I</text>
<text x="619.6" y="559.0" font-size="9.30" textLength="142.3" lengthAdjust="spacing">Frequency: 4.46780174e+10 Hz</text>
</g>
</svg>
</body></html>
